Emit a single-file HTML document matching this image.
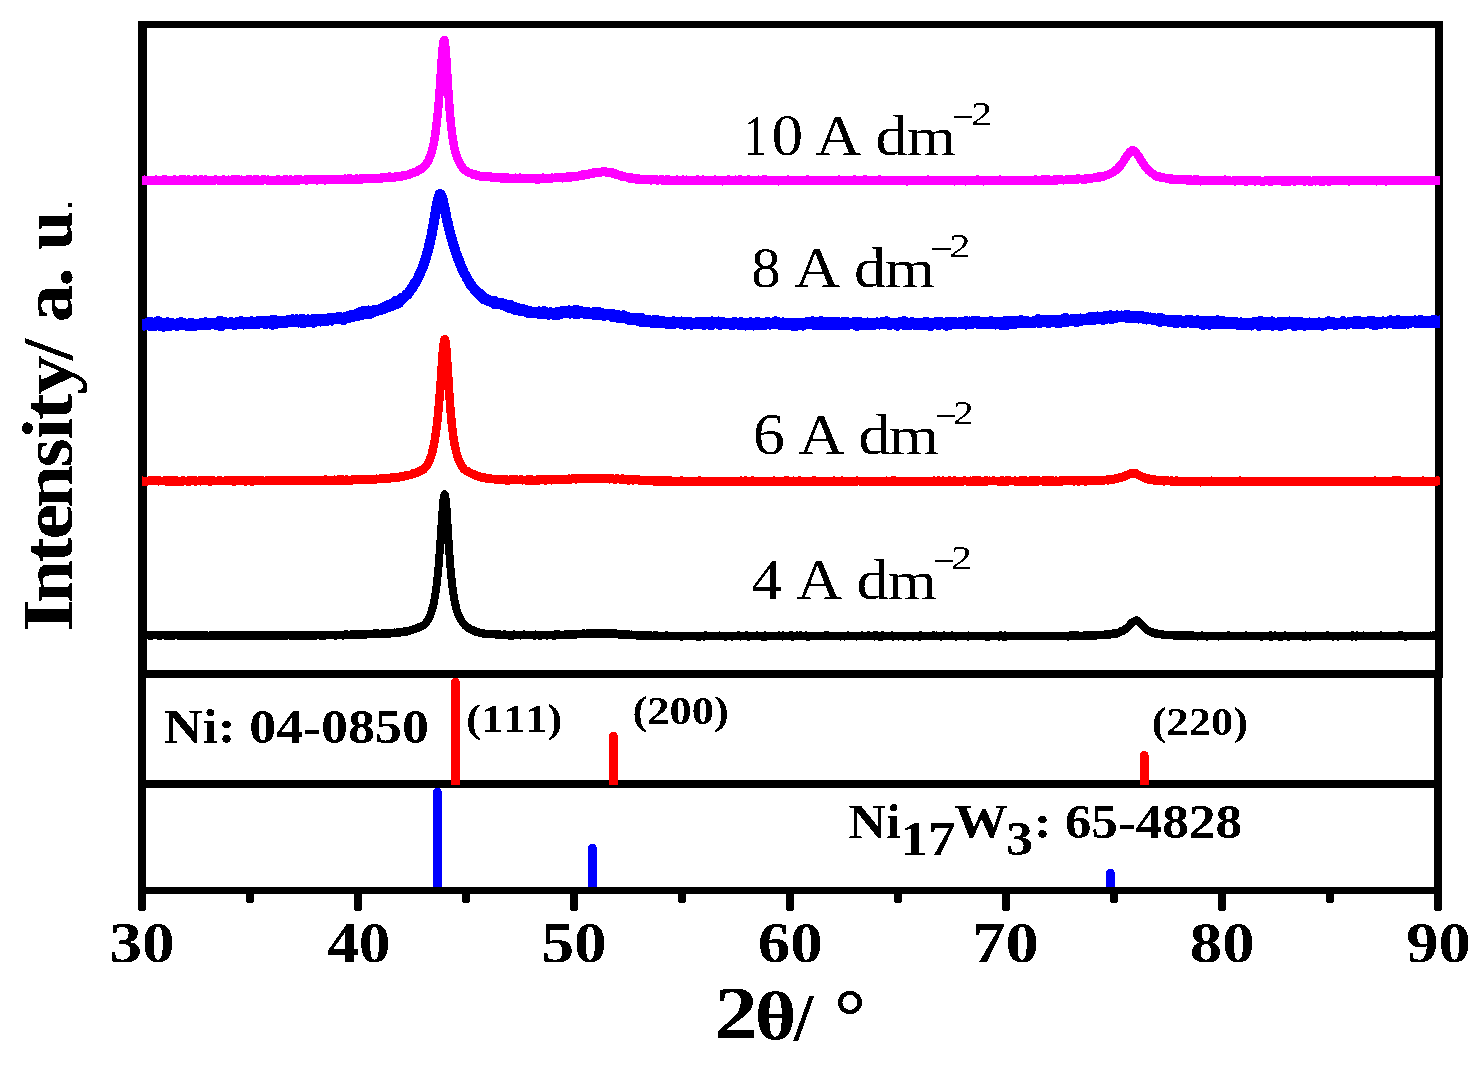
<!DOCTYPE html>
<html><head><meta charset="utf-8"><style>
html,body{margin:0;padding:0;background:#fff;}
svg{display:block;}
text{font-family:"Liberation Serif",serif;font-kerning:none;font-feature-settings:"kern" 0,"liga" 0;}
</style></head><body>
<svg width="1484" height="1069" viewBox="0 0 1484 1069">
<defs><filter id="bin" x="0" y="0" width="100%" height="100%" color-interpolation-filters="sRGB">
<feComponentTransfer><feFuncR type="discrete" tableValues="0 1"/><feFuncG type="discrete" tableValues="0 1"/><feFuncB type="discrete" tableValues="0 1"/></feComponentTransfer>
</filter></defs>
<g filter="url(#bin)">
<rect width="1484" height="1069" fill="#fff"/>
<rect x="138.5" y="21" width="1304.5" height="7" fill="#000"/>
<rect x="138" y="23" width="9" height="655" fill="#000"/>
<rect x="1435" y="21" width="8" height="657" fill="#000"/>
<rect x="138" y="670" width="1305" height="7.5" fill="#000"/>
<rect x="138" y="670" width="8.3" height="224" fill="#000"/>
<rect x="1434" y="670" width="8" height="224" fill="#000"/>
<rect x="138" y="780" width="1304" height="7.8" fill="#000"/>
<rect x="138" y="887.2" width="1304" height="6.8" fill="#000"/>
<rect x="138" y="887.5" width="8.2" height="24.10" rx="3.6" fill="#000"/>
<rect x="246.00" y="887.5" width="8.2" height="15.60" rx="3.6" fill="#000"/>
<rect x="354.00" y="887.5" width="8.2" height="24.10" rx="3.6" fill="#000"/>
<rect x="462.00" y="887.5" width="8.2" height="15.60" rx="3.6" fill="#000"/>
<rect x="570.00" y="887.5" width="8.2" height="24.10" rx="3.6" fill="#000"/>
<rect x="678.00" y="887.5" width="8.2" height="15.60" rx="3.6" fill="#000"/>
<rect x="786.00" y="887.5" width="8.2" height="24.10" rx="3.6" fill="#000"/>
<rect x="894.00" y="887.5" width="8.2" height="15.60" rx="3.6" fill="#000"/>
<rect x="1002.00" y="887.5" width="8.2" height="24.10" rx="3.6" fill="#000"/>
<rect x="1110.00" y="887.5" width="8.2" height="15.60" rx="3.6" fill="#000"/>
<rect x="1218.00" y="887.5" width="8.2" height="24.10" rx="3.6" fill="#000"/>
<rect x="1326.00" y="887.5" width="8.2" height="15.60" rx="3.6" fill="#000"/>
<rect x="1434" y="887.5" width="8.2" height="24.10" rx="3.6" fill="#000"/>
<defs><clipPath id="cc"><rect x="142" y="0" width="1298" height="700"/></clipPath></defs>
<g clip-path="url(#cc)">
<path d="M142.0,180.7 142.5,180.7 143.0,180.2 143.5,179.9 144.0,179.8 144.5,180.2 145.0,179.8 145.5,179.7 146.0,180.3 146.5,180.2 147.0,180.4 147.5,179.9 148.0,180.2 148.5,180.2 149.0,179.7 149.5,180.4 150.0,180.3 150.5,181.0 151.0,180.3 151.5,180.1 152.0,180.6 152.5,180.3 153.0,180.5 153.5,180.1 154.0,180.3 154.5,180.5 155.0,180.4 155.5,180.2 156.0,179.8 156.5,180.3 157.0,180.2 157.5,180.4 158.0,180.3 158.5,180.6 159.0,180.2 159.5,180.2 160.0,180.4 160.5,179.8 161.0,180.0 161.5,180.0 162.0,180.9 162.5,180.1 163.0,180.4 163.5,180.4 164.0,180.1 164.5,179.6 165.0,180.5 165.5,180.0 166.0,180.4 166.5,179.7 167.0,180.0 167.5,180.6 168.0,180.7 168.5,179.7 169.0,179.7 169.5,180.1 170.0,180.4 170.5,180.2 171.0,180.3 171.5,179.8 172.0,180.4 172.5,180.5 173.0,180.0 173.5,179.7 174.0,179.9 174.5,180.4 175.0,179.5 175.5,180.1 176.0,179.8 176.5,180.1 177.0,180.1 177.5,180.2 178.0,180.7 178.5,180.3 179.0,180.6 179.5,180.1 180.0,180.0 180.5,180.3 181.0,179.2 181.5,180.1 182.0,180.2 182.5,179.7 183.0,180.3 183.5,179.9 184.0,179.3 184.5,180.1 185.0,179.8 185.5,180.0 186.0,180.1 186.5,180.6 187.0,180.2 187.5,180.1 188.0,180.3 188.5,179.5 189.0,180.6 189.5,179.8 190.0,180.3 190.5,179.7 191.0,179.8 191.5,180.0 192.0,180.8 192.5,180.4 193.0,179.9 193.5,180.0 194.0,179.7 194.5,180.1 195.0,179.9 195.5,180.4 196.0,179.6 196.5,180.0 197.0,179.8 197.5,179.9 198.0,180.4 198.5,180.2 199.0,180.3 199.5,180.5 200.0,180.5 200.5,179.6 201.0,180.3 201.5,179.5 202.0,180.1 202.5,180.8 203.0,180.0 203.5,180.0 204.0,180.2 204.5,180.1 205.0,180.1 205.5,179.8 206.0,180.5 206.5,180.4 207.0,180.0 207.5,180.2 208.0,180.3 208.5,180.5 209.0,180.2 209.5,180.3 210.0,180.0 210.5,179.7 211.0,179.9 211.5,180.4 212.0,180.4 212.5,180.1 213.0,179.9 213.5,180.2 214.0,180.7 214.5,180.6 215.0,179.8 215.5,180.1 216.0,179.6 216.5,179.7 217.0,180.1 217.5,180.1 218.0,180.4 218.5,180.5 219.0,180.4 219.5,180.5 220.0,179.9 220.5,179.7 221.0,180.2 221.5,181.0 222.0,180.2 222.5,179.7 223.0,180.2 223.5,180.6 224.0,179.7 224.5,180.3 225.0,179.8 225.5,180.5 226.0,180.3 226.5,180.2 227.0,180.8 227.5,179.9 228.0,179.8 228.5,180.7 229.0,179.7 229.5,180.8 230.0,180.0 230.5,179.7 231.0,180.0 231.5,180.1 232.0,180.1 232.5,180.0 233.0,180.4 233.5,179.2 234.0,179.8 234.5,179.9 235.0,180.7 235.5,179.3 236.0,179.9 236.5,179.6 237.0,179.8 237.5,180.3 238.0,180.2 238.5,180.5 239.0,179.8 239.5,180.1 240.0,180.4 240.5,180.3 241.0,179.9 241.5,180.4 242.0,179.7 242.5,180.7 243.0,180.1 243.5,180.0 244.0,180.1 244.5,180.3 245.0,180.6 245.5,180.0 246.0,179.9 246.5,180.2 247.0,179.7 247.5,179.4 248.0,180.3 248.5,179.9 249.0,180.4 249.5,179.6 250.0,179.0 250.5,180.1 251.0,180.1 251.5,180.6 252.0,180.2 252.5,180.1 253.0,180.2 253.5,179.9 254.0,180.0 254.5,179.5 255.0,180.2 255.5,179.7 256.0,179.8 256.5,180.2 257.0,180.3 257.5,179.6 258.0,180.7 258.5,179.8 259.0,180.3 259.5,180.3 260.0,180.1 260.5,180.0 261.0,180.6 261.5,180.3 262.0,180.1 262.5,179.3 263.0,179.7 263.5,180.4 264.0,180.0 264.5,179.6 265.0,179.7 265.5,179.9 266.0,180.2 266.5,180.1 267.0,180.3 267.5,179.7 268.0,180.3 268.5,179.8 269.0,179.9 269.5,180.6 270.0,180.0 270.5,179.9 271.0,179.9 271.5,179.8 272.0,180.5 272.5,180.4 273.0,180.2 273.5,180.0 274.0,180.3 274.5,179.9 275.0,180.1 275.5,180.1 276.0,180.0 276.5,180.5 277.0,180.6 277.5,180.4 278.0,179.3 278.5,180.6 279.0,180.2 279.5,179.8 280.0,179.9 280.5,180.3 281.0,180.3 281.5,180.2 282.0,180.0 282.5,179.9 283.0,180.2 283.5,179.9 284.0,179.6 284.5,179.7 285.0,179.9 285.5,180.0 286.0,180.7 286.5,179.4 287.0,180.1 287.5,179.9 288.0,180.0 288.5,180.4 289.0,180.3 289.5,179.9 290.0,179.7 290.5,179.4 291.0,179.9 291.5,180.3 292.0,179.8 292.5,180.1 293.0,180.1 293.5,180.0 294.0,180.3 294.5,179.9 295.0,179.6 295.5,179.5 296.0,180.2 296.5,179.8 297.0,179.8 297.5,180.2 298.0,179.6 298.5,180.5 299.0,180.1 299.5,179.7 300.0,179.6 300.5,180.2 301.0,179.5 301.5,179.6 302.0,179.9 302.5,179.9 303.0,179.9 303.5,180.0 304.0,179.7 304.5,179.8 305.0,180.3 305.5,180.1 306.0,179.7 306.5,180.4 307.0,179.1 307.5,179.9 308.0,180.1 308.5,180.2 309.0,179.9 309.5,179.7 310.0,180.0 310.5,179.7 311.0,180.0 311.5,178.8 312.0,179.9 312.5,179.5 313.0,180.1 313.5,180.0 314.0,180.0 314.5,179.6 315.0,179.9 315.5,179.6 316.0,179.8 316.5,179.7 317.0,179.4 317.5,180.4 318.0,180.0 318.5,179.0 319.0,180.0 319.5,179.2 320.0,179.6 320.5,179.5 321.0,179.5 321.5,179.8 322.0,179.6 322.5,179.2 323.0,179.7 323.5,179.8 324.0,180.3 324.5,179.5 325.0,179.3 325.5,179.5 326.0,179.9 326.5,179.3 327.0,179.4 327.5,179.8 328.0,179.6 328.5,179.7 329.0,179.4 329.5,179.3 330.0,179.5 330.5,179.5 331.0,179.5 331.5,179.7 332.0,179.8 332.5,179.8 333.0,179.7 333.5,179.2 334.0,179.1 334.5,179.8 335.0,179.5 335.5,179.6 336.0,179.1 336.5,179.4 337.0,179.3 337.5,179.2 338.0,179.2 338.5,178.9 339.0,179.5 339.5,179.8 340.0,179.2 340.5,179.5 341.0,179.0 341.5,179.6 342.0,180.0 342.5,179.0 343.0,179.3 343.5,179.8 344.0,179.5 344.5,179.4 345.0,178.6 345.5,179.3 346.0,179.6 346.5,179.8 347.0,179.5 347.5,179.1 348.0,179.0 348.5,178.6 349.0,178.9 349.5,179.6 350.0,179.2 350.5,178.7 351.0,179.6 351.5,178.6 352.0,179.6 352.5,179.0 353.0,179.2 353.5,179.3 354.0,179.2 354.5,179.5 355.0,179.1 355.5,178.9 356.0,178.8 356.5,178.5 357.0,178.8 357.5,179.3 358.0,179.3 358.5,179.4 359.0,179.9 359.5,179.2 360.0,179.1 360.5,178.4 361.0,178.8 361.5,179.6 362.0,179.0 362.5,178.8 363.0,178.9 363.5,178.2 364.0,178.5 364.5,178.3 365.0,178.0 365.5,179.0 366.0,179.0 366.5,178.6 367.0,178.8 367.5,178.3 368.0,178.8 368.5,178.9 369.0,179.1 369.5,179.1 370.0,178.7 370.5,178.5 371.0,178.2 371.5,178.3 372.0,178.7 372.5,178.6 373.0,178.4 373.5,179.0 374.0,178.6 374.5,178.4 375.0,178.3 375.5,178.3 376.0,178.0 376.5,177.9 377.0,178.4 377.5,178.0 378.0,178.1 378.5,178.6 379.0,178.1 379.5,178.6 380.0,178.1 380.5,178.6 381.0,178.2 381.5,177.4 382.0,178.4 382.5,177.9 383.0,177.3 383.5,177.9 384.0,177.9 384.5,177.4 385.0,177.6 385.5,177.9 386.0,178.2 386.5,178.1 387.0,178.1 387.5,178.0 388.0,176.8 388.5,177.3 389.0,177.6 389.5,176.6 390.0,177.7 390.5,177.7 391.0,177.1 391.5,177.2 392.0,177.0 392.5,177.2 393.0,177.2 393.5,177.1 394.0,176.8 394.5,177.2 395.0,176.9 395.5,177.3 396.0,177.0 396.5,176.4 397.0,176.3 397.5,176.8 398.0,176.5 398.5,176.8 399.0,176.8 399.5,176.5 400.0,175.9 400.5,175.9 401.0,176.4 401.5,175.8 402.0,176.4 402.5,176.0 403.0,176.1 403.5,175.5 404.0,175.7 404.5,174.7 405.0,175.4 405.5,175.6 406.0,175.0 406.5,174.9 407.0,175.0 407.5,174.9 408.0,174.5 408.5,174.7 409.0,173.9 409.5,174.5 410.0,173.6 410.5,173.6 411.0,174.1 411.5,173.2 412.0,172.8 412.5,173.1 413.0,172.6 413.5,172.4 414.0,172.3 414.5,172.1 415.0,171.8 415.5,171.6 416.0,172.2 416.5,171.3 417.0,171.6 417.5,170.7 418.0,171.1 418.5,170.3 419.0,170.3 419.5,170.3 420.0,169.8 420.5,169.1 421.0,169.1 421.5,168.9 422.0,168.7 422.5,167.9 423.0,167.6 423.5,167.3 424.0,166.4 424.5,166.2 425.0,165.5 425.5,165.1 426.0,164.4 426.5,163.7 427.0,162.5 427.5,162.1 428.0,161.1 428.5,160.1 429.0,159.1 429.5,157.9 430.0,156.8 430.5,155.5 431.0,154.0 431.5,152.3 432.0,150.7 432.5,148.7 433.0,146.5 433.5,144.3 434.0,141.7 434.5,139.0 435.0,136.0 435.5,132.6 436.0,128.9 436.5,124.9 437.0,120.6 437.5,115.8 438.0,110.6 438.5,104.9 439.0,98.8 439.5,92.2 440.0,85.2 440.5,77.8 441.0,70.3 441.5,62.9 442.0,55.8 442.5,49.6 443.0,44.6 443.5,41.2 444.0,39.8 444.5,40.5 445.0,43.5 445.5,48.3 446.0,54.6 446.5,61.9 447.0,69.9 447.5,78.0 448.0,86.1 448.5,93.8 449.0,101.0 449.5,107.7 450.0,113.8 450.5,119.4 451.0,124.4 451.5,129.0 452.0,133.1 452.5,136.8 453.0,140.0 453.5,143.1 454.0,145.7 454.5,148.2 455.0,150.3 455.5,152.2 456.0,154.2 456.5,155.8 457.0,157.2 457.5,158.6 458.0,159.9 458.5,161.0 459.0,161.8 459.5,162.9 460.0,163.9 460.5,164.8 461.0,165.4 461.5,165.9 462.0,167.1 462.5,167.4 463.0,167.9 463.5,168.9 464.0,169.3 464.5,169.8 465.0,170.2 465.5,170.6 466.0,170.6 466.5,171.2 467.0,171.6 467.5,172.0 468.0,172.3 468.5,172.2 469.0,172.5 469.5,172.9 470.0,173.1 470.5,173.2 471.0,173.1 471.5,173.5 472.0,174.1 472.5,174.2 473.0,174.5 473.5,174.0 474.0,174.5 474.5,175.1 475.0,174.3 475.5,174.7 476.0,174.6 476.5,175.6 477.0,175.4 477.5,175.3 478.0,175.6 478.5,175.6 479.0,176.0 479.5,176.2 480.0,176.2 480.5,176.1 481.0,176.3 481.5,176.4 482.0,176.6 482.5,175.7 483.0,176.5 483.5,176.4 484.0,176.5 484.5,176.4 485.0,176.6 485.5,176.8 486.0,176.7 486.5,176.8 487.0,176.4 487.5,176.4 488.0,176.6 488.5,176.3 489.0,176.8 489.5,176.7 490.0,176.4 490.5,176.4 491.0,177.0 491.5,177.0 492.0,177.9 492.5,177.5 493.0,177.0 493.5,177.1 494.0,177.0 494.5,177.1 495.0,177.3 495.5,177.4 496.0,177.3 496.5,177.8 497.0,177.7 497.5,178.2 498.0,177.1 498.5,177.8 499.0,177.5 499.5,177.1 500.0,177.6 500.5,177.2 501.0,177.7 501.5,178.7 502.0,178.3 502.5,178.5 503.0,178.3 503.5,177.4 504.0,178.0 504.5,178.0 505.0,178.1 505.5,177.6 506.0,177.3 506.5,178.7 507.0,178.4 507.5,178.2 508.0,177.9 508.5,178.2 509.0,177.7 509.5,178.5 510.0,178.2 510.5,178.1 511.0,178.0 511.5,178.2 512.0,178.3 512.5,178.1 513.0,178.6 513.5,178.4 514.0,178.3 514.5,178.0 515.0,178.7 515.5,178.8 516.0,178.6 516.5,177.7 517.0,178.3 517.5,178.7 518.0,178.4 518.5,178.9 519.0,178.3 519.5,178.7 520.0,178.6 520.5,177.6 521.0,178.3 521.5,178.4 522.0,178.3 522.5,178.2 523.0,179.1 523.5,178.5 524.0,178.8 524.5,178.1 525.0,177.8 525.5,178.4 526.0,178.7 526.5,178.3 527.0,178.8 527.5,178.9 528.0,178.4 528.5,178.6 529.0,178.4 529.5,179.0 530.0,179.2 530.5,178.8 531.0,178.4 531.5,178.4 532.0,178.5 532.5,178.9 533.0,178.4 533.5,179.1 534.0,178.2 534.5,178.6 535.0,179.1 535.5,179.3 536.0,178.5 536.5,178.9 537.0,179.5 537.5,179.0 538.0,177.9 538.5,178.7 539.0,179.4 539.5,178.2 540.0,178.9 540.5,177.9 541.0,179.1 541.5,178.3 542.0,178.8 542.5,178.9 543.0,177.6 543.5,178.0 544.0,178.6 544.5,178.0 545.0,178.5 545.5,178.1 546.0,178.9 546.5,178.2 547.0,178.1 547.5,178.6 548.0,178.7 548.5,178.2 549.0,178.4 549.5,178.4 550.0,178.0 550.5,177.8 551.0,178.3 551.5,178.0 552.0,177.6 552.5,178.3 553.0,178.2 553.5,178.0 554.0,177.7 554.5,177.8 555.0,178.1 555.5,178.0 556.0,177.6 556.5,177.5 557.0,177.9 557.5,177.8 558.0,178.0 558.5,177.3 559.0,178.0 559.5,178.2 560.0,177.9 560.5,177.6 561.0,177.9 561.5,177.1 562.0,177.3 562.5,178.2 563.0,176.9 563.5,177.0 564.0,177.6 564.5,177.1 565.0,177.1 565.5,176.9 566.0,177.8 566.5,177.0 567.0,177.1 567.5,176.5 568.0,177.3 568.5,177.0 569.0,177.2 569.5,177.5 570.0,176.9 570.5,176.5 571.0,176.5 571.5,176.8 572.0,177.1 572.5,176.3 573.0,176.5 573.5,176.5 574.0,176.7 574.5,176.1 575.0,176.5 575.5,176.6 576.0,176.2 576.5,176.2 577.0,176.3 577.5,176.3 578.0,176.4 578.5,175.6 579.0,176.3 579.5,175.7 580.0,175.3 580.5,175.5 581.0,175.2 581.5,175.4 582.0,175.7 582.5,174.6 583.0,174.8 583.5,175.4 584.0,175.0 584.5,175.2 585.0,174.4 585.5,174.8 586.0,173.9 586.5,174.3 587.0,174.7 587.5,174.8 588.0,174.8 588.5,174.2 589.0,173.8 589.5,173.9 590.0,173.3 590.5,174.2 591.0,174.1 591.5,173.3 592.0,174.1 592.5,173.0 593.0,173.5 593.5,172.9 594.0,172.5 594.5,173.1 595.0,172.5 595.5,173.2 596.0,172.4 596.5,172.7 597.0,172.4 597.5,172.5 598.0,172.2 598.5,172.6 599.0,172.4 599.5,172.2 600.0,172.1 600.5,172.7 601.0,171.8 601.5,171.8 602.0,172.2 602.5,171.9 603.0,171.4 603.5,171.8 604.0,171.8 604.5,171.6 605.0,172.0 605.5,171.5 606.0,171.9 606.5,171.6 607.0,172.5 607.5,172.0 608.0,172.3 608.5,172.3 609.0,172.6 609.5,172.4 610.0,172.8 610.5,172.7 611.0,172.0 611.5,173.0 612.0,172.7 612.5,173.5 613.0,173.4 613.5,173.4 614.0,172.9 614.5,173.1 615.0,173.6 615.5,174.0 616.0,173.8 616.5,175.0 617.0,174.7 617.5,174.7 618.0,174.6 618.5,174.9 619.0,175.1 619.5,175.2 620.0,175.4 620.5,175.9 621.0,175.2 621.5,176.0 622.0,176.4 622.5,175.8 623.0,176.3 623.5,176.3 624.0,176.2 624.5,177.0 625.0,176.8 625.5,177.3 626.0,177.2 626.5,177.1 627.0,177.4 627.5,177.3 628.0,177.0 628.5,178.1 629.0,177.9 629.5,178.2 630.0,177.4 630.5,178.4 631.0,178.4 631.5,178.2 632.0,177.6 632.5,178.4 633.0,178.2 633.5,178.4 634.0,178.6 634.5,178.3 635.0,178.7 635.5,178.8 636.0,179.3 636.5,178.8 637.0,179.7 637.5,178.6 638.0,179.0 638.5,179.5 639.0,178.6 639.5,179.4 640.0,179.3 640.5,179.0 641.0,179.2 641.5,179.8 642.0,179.2 642.5,179.5 643.0,179.6 643.5,179.8 644.0,178.8 644.5,179.0 645.0,179.1 645.5,179.4 646.0,179.8 646.5,179.9 647.0,179.5 647.5,180.1 648.0,179.6 648.5,179.9 649.0,179.4 649.5,180.0 650.0,179.5 650.5,180.1 651.0,180.0 651.5,180.4 652.0,179.6 652.5,179.4 653.0,180.1 653.5,179.9 654.0,179.6 654.5,179.3 655.0,180.1 655.5,179.1 656.0,179.7 656.5,180.2 657.0,179.8 657.5,180.0 658.0,180.0 658.5,180.1 659.0,180.3 659.5,180.1 660.0,179.8 660.5,179.5 661.0,179.8 661.5,179.7 662.0,180.1 662.5,180.4 663.0,180.2 663.5,179.7 664.0,180.0 664.5,180.0 665.0,179.8 665.5,180.4 666.0,180.2 666.5,180.1 667.0,179.6 667.5,179.1 668.0,179.7 668.5,180.4 669.0,179.9 669.5,180.0 670.0,179.9 670.5,180.2 671.0,180.0 671.5,180.6 672.0,180.0 672.5,180.0 673.0,180.5 673.5,180.3 674.0,180.3 674.5,180.2 675.0,180.1 675.5,180.2 676.0,180.3 676.5,180.1 677.0,179.4 677.5,180.6 678.0,179.9 678.5,179.9 679.0,180.0 679.5,179.9 680.0,179.8 680.5,180.1 681.0,180.4 681.5,180.0 682.0,180.3 682.5,179.7 683.0,180.4 683.5,179.7 684.0,180.4 684.5,179.9 685.0,179.9 685.5,179.7 686.0,179.7 686.5,180.1 687.0,179.8 687.5,180.1 688.0,180.6 688.5,179.9 689.0,180.1 689.5,180.1 690.0,180.0 690.5,180.2 691.0,180.3 691.5,180.6 692.0,179.9 692.5,180.1 693.0,180.1 693.5,180.6 694.0,179.9 694.5,180.3 695.0,180.5 695.5,180.4 696.0,180.0 696.5,179.9 697.0,179.6 697.5,180.0 698.0,180.1 698.5,179.7 699.0,180.5 699.5,180.3 700.0,180.1 700.5,180.0 701.0,180.4 701.5,180.1 702.0,180.4 702.5,180.1 703.0,180.6 703.5,179.7 704.0,179.9 704.5,180.9 705.0,180.6 705.5,180.8 706.0,180.0 706.5,180.5 707.0,180.6 707.5,180.6 708.0,180.2 708.5,180.8 709.0,180.4 709.5,179.8 710.0,181.1 710.5,180.3 711.0,180.7 711.5,180.0 712.0,180.0 712.5,180.6 713.0,180.6 713.5,180.0 714.0,180.4 714.5,179.8 715.0,179.6 715.5,180.7 716.0,179.9 716.5,180.6 717.0,180.7 717.5,180.4 718.0,180.8 718.5,180.4 719.0,180.4 719.5,180.3 720.0,180.4 720.5,180.4 721.0,180.0 721.5,180.3 722.0,180.2 722.5,181.3 723.0,180.7 723.5,180.0 724.0,180.5 724.5,179.7 725.0,180.3 725.5,180.9 726.0,180.3 726.5,180.8 727.0,180.2 727.5,180.5 728.0,180.4 728.5,179.6 729.0,180.0 729.5,181.0 730.0,180.0 730.5,180.7 731.0,180.9 731.5,180.3 732.0,180.7 732.5,180.5 733.0,180.1 733.5,180.5 734.0,180.5 734.5,180.0 735.0,180.2 735.5,179.9 736.0,180.2 736.5,180.3 737.0,180.0 737.5,179.7 738.0,180.6 738.5,180.8 739.0,180.0 739.5,180.4 740.0,180.1 740.5,179.4 741.0,181.1 741.5,180.4 742.0,179.8 742.5,180.8 743.0,180.6 743.5,180.8 744.0,180.6 744.5,180.5 745.0,180.8 745.5,180.3 746.0,180.4 746.5,180.0 747.0,179.9 747.5,180.4 748.0,180.4 748.5,179.8 749.0,180.5 749.5,180.7 750.0,179.9 750.5,180.2 751.0,181.0 751.5,180.1 752.0,180.6 752.5,180.6 753.0,180.4 753.5,180.4 754.0,180.6 754.5,180.5 755.0,180.4 755.5,179.8 756.0,180.4 756.5,180.1 757.0,180.9 757.5,181.1 758.0,180.8 758.5,179.6 759.0,180.7 759.5,180.4 760.0,180.0 760.5,179.9 761.0,180.7 761.5,180.1 762.0,180.3 762.5,180.4 763.0,180.7 763.5,179.4 764.0,180.8 764.5,180.1 765.0,180.2 765.5,180.6 766.0,180.5 766.5,179.6 767.0,180.6 767.5,180.3 768.0,180.0 768.5,180.2 769.0,179.8 769.5,180.6 770.0,180.9 770.5,180.2 771.0,180.2 771.5,179.9 772.0,180.1 772.5,180.0 773.0,180.4 773.5,181.0 774.0,180.7 774.5,180.7 775.0,180.0 775.5,180.7 776.0,180.1 776.5,180.1 777.0,180.6 777.5,180.3 778.0,181.2 778.5,180.4 779.0,180.3 779.5,180.6 780.0,180.0 780.5,180.6 781.0,180.9 781.5,180.3 782.0,180.2 782.5,180.8 783.0,180.0 783.5,180.5 784.0,180.2 784.5,180.5 785.0,180.1 785.5,180.6 786.0,180.6 786.5,181.0 787.0,180.3 787.5,180.5 788.0,179.8 788.5,180.1 789.0,180.5 789.5,179.9 790.0,180.3 790.5,180.1 791.0,180.6 791.5,180.6 792.0,180.2 792.5,180.6 793.0,180.2 793.5,180.4 794.0,180.6 794.5,180.6 795.0,180.6 795.5,181.0 796.0,180.2 796.5,180.3 797.0,179.7 797.5,180.7 798.0,180.0 798.5,180.2 799.0,180.2 799.5,180.5 800.0,180.3 800.5,180.3 801.0,180.4 801.5,180.3 802.0,180.4 802.5,180.0 803.0,180.2 803.5,180.0 804.0,180.7 804.5,180.7 805.0,180.6 805.5,180.5 806.0,180.2 806.5,180.6 807.0,179.8 807.5,179.5 808.0,180.0 808.5,180.9 809.0,180.5 809.5,180.9 810.0,180.1 810.5,180.7 811.0,180.9 811.5,180.7 812.0,180.5 812.5,180.8 813.0,180.2 813.5,181.0 814.0,180.0 814.5,180.1 815.0,180.4 815.5,180.1 816.0,181.0 816.5,180.6 817.0,180.1 817.5,181.0 818.0,180.9 818.5,180.3 819.0,180.9 819.5,180.8 820.0,180.2 820.5,180.2 821.0,180.5 821.5,180.8 822.0,180.9 822.5,180.9 823.0,180.2 823.5,179.8 824.0,179.8 824.5,180.9 825.0,180.8 825.5,180.8 826.0,180.4 826.5,180.4 827.0,180.6 827.5,180.6 828.0,180.4 828.5,180.1 829.0,179.9 829.5,180.5 830.0,180.3 830.5,180.9 831.0,180.0 831.5,179.7 832.0,179.7 832.5,180.4 833.0,181.0 833.5,180.3 834.0,180.2 834.5,180.5 835.0,180.9 835.5,180.8 836.0,180.7 836.5,180.7 837.0,180.3 837.5,180.4 838.0,180.5 838.5,181.0 839.0,179.6 839.5,180.2 840.0,180.5 840.5,180.3 841.0,180.4 841.5,180.3 842.0,180.1 842.5,180.6 843.0,180.9 843.5,180.3 844.0,180.6 844.5,180.8 845.0,180.2 845.5,180.4 846.0,179.9 846.5,181.0 847.0,181.0 847.5,180.3 848.0,181.1 848.5,180.7 849.0,179.8 849.5,180.6 850.0,180.5 850.5,180.6 851.0,180.6 851.5,180.2 852.0,180.8 852.5,180.5 853.0,181.1 853.5,180.4 854.0,179.5 854.5,181.1 855.0,180.6 855.5,179.8 856.0,180.2 856.5,180.1 857.0,180.7 857.5,180.2 858.0,180.8 858.5,180.2 859.0,180.7 859.5,180.2 860.0,180.0 860.5,180.6 861.0,180.3 861.5,180.6 862.0,179.8 862.5,180.0 863.0,180.3 863.5,181.1 864.0,180.5 864.5,179.8 865.0,179.3 865.5,181.0 866.0,180.5 866.5,180.0 867.0,180.7 867.5,180.7 868.0,181.2 868.5,180.5 869.0,180.2 869.5,180.7 870.0,179.9 870.5,180.2 871.0,180.0 871.5,180.2 872.0,179.9 872.5,179.9 873.0,180.0 873.5,180.5 874.0,180.4 874.5,180.4 875.0,180.6 875.5,180.7 876.0,180.6 876.5,181.1 877.0,180.5 877.5,180.5 878.0,180.2 878.5,180.8 879.0,180.9 879.5,179.4 880.0,180.7 880.5,180.0 881.0,180.5 881.5,180.4 882.0,180.0 882.5,179.9 883.0,180.3 883.5,181.3 884.0,180.0 884.5,180.3 885.0,180.3 885.5,180.3 886.0,180.8 886.5,181.1 887.0,180.4 887.5,180.5 888.0,180.3 888.5,181.0 889.0,180.4 889.5,180.6 890.0,180.3 890.5,180.8 891.0,180.4 891.5,180.1 892.0,181.1 892.5,179.7 893.0,180.5 893.5,180.3 894.0,180.1 894.5,181.1 895.0,180.5 895.5,180.3 896.0,180.1 896.5,180.5 897.0,180.4 897.5,180.3 898.0,180.2 898.5,180.9 899.0,180.5 899.5,180.3 900.0,180.0 900.5,180.1 901.0,180.7 901.5,180.1 902.0,180.6 902.5,180.4 903.0,180.5 903.5,180.5 904.0,180.2 904.5,180.3 905.0,180.4 905.5,180.6 906.0,181.2 906.5,180.7 907.0,179.9 907.5,181.2 908.0,180.4 908.5,180.2 909.0,180.4 909.5,180.4 910.0,180.5 910.5,180.4 911.0,180.4 911.5,180.8 912.0,181.0 912.5,180.4 913.0,181.0 913.5,180.7 914.0,180.8 914.5,180.5 915.0,180.5 915.5,180.7 916.0,180.1 916.5,180.4 917.0,180.0 917.5,180.7 918.0,180.5 918.5,180.6 919.0,180.3 919.5,180.1 920.0,180.7 920.5,180.2 921.0,180.3 921.5,180.4 922.0,180.6 922.5,180.4 923.0,180.0 923.5,180.0 924.0,180.8 924.5,180.3 925.0,180.3 925.5,180.1 926.0,180.7 926.5,180.6 927.0,180.2 927.5,179.8 928.0,181.0 928.5,180.2 929.0,180.0 929.5,180.2 930.0,180.0 930.5,180.4 931.0,180.2 931.5,180.0 932.0,180.6 932.5,180.1 933.0,179.7 933.5,180.5 934.0,180.2 934.5,180.0 935.0,179.8 935.5,180.1 936.0,180.2 936.5,180.2 937.0,180.2 937.5,180.8 938.0,180.8 938.5,180.5 939.0,180.6 939.5,180.2 940.0,179.9 940.5,180.6 941.0,180.9 941.5,180.1 942.0,180.1 942.5,180.1 943.0,179.9 943.5,180.6 944.0,180.0 944.5,180.9 945.0,181.0 945.5,180.4 946.0,180.4 946.5,180.1 947.0,180.7 947.5,180.4 948.0,179.9 948.5,180.1 949.0,180.5 949.5,180.2 950.0,180.5 950.5,180.5 951.0,180.9 951.5,180.3 952.0,180.8 952.5,180.8 953.0,180.8 953.5,180.3 954.0,180.5 954.5,181.3 955.0,180.3 955.5,180.2 956.0,180.4 956.5,180.0 957.0,180.1 957.5,180.2 958.0,180.3 958.5,180.7 959.0,180.0 959.5,180.3 960.0,180.5 960.5,180.3 961.0,180.6 961.5,181.2 962.0,180.0 962.5,180.1 963.0,180.2 963.5,180.2 964.0,180.2 964.5,180.5 965.0,181.0 965.5,181.2 966.0,180.3 966.5,179.7 967.0,180.9 967.5,180.4 968.0,180.2 968.5,180.8 969.0,180.3 969.5,180.3 970.0,180.1 970.5,180.7 971.0,180.7 971.5,180.1 972.0,180.2 972.5,180.8 973.0,180.1 973.5,180.2 974.0,180.1 974.5,180.3 975.0,180.7 975.5,180.4 976.0,180.7 976.5,180.6 977.0,179.6 977.5,180.4 978.0,180.3 978.5,179.8 979.0,180.6 979.5,180.3 980.0,180.2 980.5,180.5 981.0,180.7 981.5,180.6 982.0,180.2 982.5,180.3 983.0,181.2 983.5,179.9 984.0,180.4 984.5,180.4 985.0,180.9 985.5,180.6 986.0,180.4 986.5,180.2 987.0,180.8 987.5,180.4 988.0,180.3 988.5,180.4 989.0,180.6 989.5,180.3 990.0,180.4 990.5,180.6 991.0,180.1 991.5,180.2 992.0,180.4 992.5,180.6 993.0,180.5 993.5,180.2 994.0,180.0 994.5,180.2 995.0,180.1 995.5,180.6 996.0,180.5 996.5,180.3 997.0,179.9 997.5,179.9 998.0,180.4 998.5,180.5 999.0,180.4 999.5,180.2 1000.0,180.5 1000.5,179.6 1001.0,180.7 1001.5,180.8 1002.0,180.4 1002.5,180.4 1003.0,180.2 1003.5,180.6 1004.0,180.0 1004.5,180.1 1005.0,180.4 1005.5,179.8 1006.0,180.5 1006.5,180.5 1007.0,180.3 1007.5,180.1 1008.0,180.9 1008.5,180.1 1009.0,180.3 1009.5,180.6 1010.0,180.3 1010.5,180.6 1011.0,180.3 1011.5,180.4 1012.0,180.3 1012.5,180.5 1013.0,180.0 1013.5,180.6 1014.0,180.6 1014.5,179.9 1015.0,179.7 1015.5,179.8 1016.0,180.0 1016.5,180.5 1017.0,180.3 1017.5,180.9 1018.0,180.8 1018.5,179.7 1019.0,180.1 1019.5,180.1 1020.0,180.8 1020.5,180.5 1021.0,180.6 1021.5,179.9 1022.0,180.9 1022.5,179.8 1023.0,180.2 1023.5,179.9 1024.0,179.9 1024.5,180.3 1025.0,179.9 1025.5,180.4 1026.0,180.4 1026.5,180.2 1027.0,180.4 1027.5,180.6 1028.0,180.6 1028.5,179.8 1029.0,180.4 1029.5,180.5 1030.0,180.0 1030.5,180.0 1031.0,180.6 1031.5,180.4 1032.0,180.2 1032.5,180.7 1033.0,180.5 1033.5,180.8 1034.0,180.0 1034.5,180.5 1035.0,179.5 1035.5,179.9 1036.0,180.7 1036.5,179.8 1037.0,180.1 1037.5,180.0 1038.0,180.3 1038.5,180.5 1039.0,180.7 1039.5,180.1 1040.0,180.2 1040.5,180.4 1041.0,180.5 1041.5,180.0 1042.0,180.6 1042.5,179.6 1043.0,180.2 1043.5,179.6 1044.0,179.9 1044.5,179.8 1045.0,180.7 1045.5,180.6 1046.0,180.3 1046.5,180.1 1047.0,179.3 1047.5,179.4 1048.0,180.1 1048.5,180.3 1049.0,180.2 1049.5,179.7 1050.0,179.7 1050.5,180.2 1051.0,180.8 1051.5,180.2 1052.0,179.9 1052.5,179.9 1053.0,180.1 1053.5,180.0 1054.0,179.4 1054.5,180.5 1055.0,180.1 1055.5,180.1 1056.0,179.7 1056.5,180.3 1057.0,180.2 1057.5,179.6 1058.0,180.2 1058.5,179.6 1059.0,179.2 1059.5,180.1 1060.0,179.5 1060.5,179.6 1061.0,179.5 1061.5,179.8 1062.0,179.7 1062.5,179.8 1063.0,179.9 1063.5,180.3 1064.0,179.9 1064.5,179.9 1065.0,179.9 1065.5,180.0 1066.0,180.0 1066.5,179.8 1067.0,179.3 1067.5,179.3 1068.0,179.7 1068.5,179.5 1069.0,179.5 1069.5,179.4 1070.0,179.3 1070.5,179.9 1071.0,179.8 1071.5,179.1 1072.0,179.6 1072.5,179.5 1073.0,179.3 1073.5,179.8 1074.0,179.5 1074.5,179.4 1075.0,179.1 1075.5,179.7 1076.0,179.4 1076.5,179.4 1077.0,179.1 1077.5,179.8 1078.0,178.2 1078.5,178.7 1079.0,178.6 1079.5,178.7 1080.0,178.8 1080.5,178.9 1081.0,179.0 1081.5,179.1 1082.0,179.5 1082.5,179.2 1083.0,179.0 1083.5,178.9 1084.0,179.0 1084.5,179.1 1085.0,178.6 1085.5,179.4 1086.0,178.7 1086.5,179.0 1087.0,177.8 1087.5,178.7 1088.0,178.4 1088.5,179.0 1089.0,178.8 1089.5,178.5 1090.0,178.6 1090.5,178.2 1091.0,178.0 1091.5,178.6 1092.0,177.8 1092.5,177.9 1093.0,177.7 1093.5,177.7 1094.0,177.8 1094.5,178.1 1095.0,177.5 1095.5,178.0 1096.0,177.1 1096.5,177.3 1097.0,177.2 1097.5,177.6 1098.0,177.7 1098.5,176.5 1099.0,177.2 1099.5,177.6 1100.0,177.0 1100.5,177.4 1101.0,177.1 1101.5,176.7 1102.0,176.1 1102.5,176.2 1103.0,176.7 1103.5,175.9 1104.0,175.7 1104.5,175.7 1105.0,176.1 1105.5,175.6 1106.0,174.9 1106.5,175.0 1107.0,175.2 1107.5,175.2 1108.0,175.1 1108.5,174.6 1109.0,174.4 1109.5,173.7 1110.0,173.6 1110.5,173.2 1111.0,173.2 1111.5,173.1 1112.0,172.7 1112.5,172.2 1113.0,172.3 1113.5,172.0 1114.0,171.8 1114.5,170.6 1115.0,170.2 1115.5,170.1 1116.0,170.1 1116.5,169.7 1117.0,169.2 1117.5,168.6 1118.0,168.1 1118.5,167.5 1119.0,166.9 1119.5,166.3 1120.0,166.5 1120.5,165.2 1121.0,164.7 1121.5,164.1 1122.0,163.5 1122.5,162.6 1123.0,162.0 1123.5,161.5 1124.0,160.2 1124.5,159.5 1125.0,158.6 1125.5,158.0 1126.0,157.0 1126.5,156.5 1127.0,155.8 1127.5,155.2 1128.0,154.5 1128.5,153.5 1129.0,153.0 1129.5,152.2 1130.0,151.9 1130.5,151.4 1131.0,151.2 1131.5,150.8 1132.0,150.4 1132.5,150.8 1133.0,150.5 1133.5,150.4 1134.0,150.5 1134.5,151.3 1135.0,151.3 1135.5,152.2 1136.0,152.9 1136.5,153.3 1137.0,154.0 1137.5,154.7 1138.0,155.2 1138.5,156.1 1139.0,156.5 1139.5,157.8 1140.0,158.6 1140.5,159.4 1141.0,160.4 1141.5,160.9 1142.0,161.5 1142.5,162.8 1143.0,163.4 1143.5,164.0 1144.0,164.7 1144.5,165.5 1145.0,166.3 1145.5,166.7 1146.0,167.6 1146.5,168.1 1147.0,168.9 1147.5,169.3 1148.0,170.0 1148.5,170.2 1149.0,171.0 1149.5,171.3 1150.0,172.1 1150.5,172.4 1151.0,172.9 1151.5,173.0 1152.0,173.3 1152.5,173.8 1153.0,173.9 1153.5,174.3 1154.0,175.0 1154.5,174.7 1155.0,175.1 1155.5,175.5 1156.0,176.2 1156.5,176.5 1157.0,176.0 1157.5,176.2 1158.0,176.6 1158.5,176.5 1159.0,176.3 1159.5,177.2 1160.0,177.3 1160.5,177.4 1161.0,177.6 1161.5,177.6 1162.0,177.5 1162.5,178.0 1163.0,177.9 1163.5,178.0 1164.0,177.7 1164.5,178.2 1165.0,178.2 1165.5,178.1 1166.0,178.2 1166.5,178.4 1167.0,178.6 1167.5,178.4 1168.0,178.3 1168.5,178.8 1169.0,178.4 1169.5,179.0 1170.0,178.7 1170.5,178.9 1171.0,179.4 1171.5,178.4 1172.0,178.7 1172.5,179.0 1173.0,179.2 1173.5,179.0 1174.0,179.0 1174.5,179.1 1175.0,179.1 1175.5,179.5 1176.0,179.2 1176.5,179.4 1177.0,179.5 1177.5,179.8 1178.0,179.4 1178.5,179.5 1179.0,179.8 1179.5,179.0 1180.0,179.7 1180.5,179.4 1181.0,180.1 1181.5,179.7 1182.0,179.5 1182.5,180.2 1183.0,179.7 1183.5,179.6 1184.0,180.1 1184.5,179.3 1185.0,179.9 1185.5,180.2 1186.0,179.6 1186.5,180.3 1187.0,179.9 1187.5,179.9 1188.0,179.5 1188.5,180.6 1189.0,180.6 1189.5,180.0 1190.0,180.3 1190.5,179.5 1191.0,180.2 1191.5,180.3 1192.0,179.9 1192.5,180.0 1193.0,180.2 1193.5,180.0 1194.0,179.7 1194.5,180.5 1195.0,180.6 1195.5,180.5 1196.0,180.6 1196.5,180.7 1197.0,180.2 1197.5,179.3 1198.0,180.4 1198.5,180.2 1199.0,180.0 1199.5,180.6 1200.0,180.1 1200.5,180.0 1201.0,181.2 1201.5,180.3 1202.0,180.5 1202.5,180.6 1203.0,180.7 1203.5,180.4 1204.0,180.6 1204.5,180.4 1205.0,180.3 1205.5,180.4 1206.0,180.7 1206.5,180.7 1207.0,180.7 1207.5,180.0 1208.0,180.5 1208.5,180.7 1209.0,180.4 1209.5,180.7 1210.0,180.6 1210.5,181.0 1211.0,179.8 1211.5,180.6 1212.0,180.9 1212.5,180.8 1213.0,180.4 1213.5,180.5 1214.0,180.5 1214.5,180.8 1215.0,180.9 1215.5,180.4 1216.0,181.0 1216.5,180.8 1217.0,179.9 1217.5,180.5 1218.0,180.6 1218.5,180.4 1219.0,180.7 1219.5,180.6 1220.0,180.6 1220.5,180.6 1221.0,180.8 1221.5,180.5 1222.0,180.9 1222.5,180.1 1223.0,180.7 1223.5,180.5 1224.0,180.6 1224.5,180.8 1225.0,180.5 1225.5,179.6 1226.0,180.2 1226.5,180.6 1227.0,180.6 1227.5,180.5 1228.0,180.5 1228.5,181.0 1229.0,180.7 1229.5,180.4 1230.0,180.4 1230.5,181.1 1231.0,180.8 1231.5,180.9 1232.0,180.7 1232.5,180.8 1233.0,180.6 1233.5,180.4 1234.0,180.4 1234.5,180.4 1235.0,181.4 1235.5,181.0 1236.0,180.8 1236.5,180.7 1237.0,180.2 1237.5,181.0 1238.0,180.2 1238.5,181.1 1239.0,180.6 1239.5,180.3 1240.0,181.3 1240.5,180.4 1241.0,180.7 1241.5,180.7 1242.0,180.3 1242.5,180.9 1243.0,180.3 1243.5,180.7 1244.0,180.4 1244.5,181.3 1245.0,180.8 1245.5,181.3 1246.0,180.6 1246.5,180.9 1247.0,181.0 1247.5,180.8 1248.0,180.7 1248.5,181.2 1249.0,180.9 1249.5,180.8 1250.0,181.1 1250.5,179.9 1251.0,180.4 1251.5,181.0 1252.0,180.7 1252.5,180.7 1253.0,180.3 1253.5,180.7 1254.0,181.3 1254.5,180.6 1255.0,180.5 1255.5,180.7 1256.0,181.2 1256.5,180.6 1257.0,180.2 1257.5,180.9 1258.0,180.7 1258.5,180.9 1259.0,180.2 1259.5,180.4 1260.0,180.7 1260.5,180.9 1261.0,181.4 1261.5,181.3 1262.0,181.2 1262.5,181.1 1263.0,181.2 1263.5,181.0 1264.0,181.0 1264.5,180.7 1265.0,180.6 1265.5,181.3 1266.0,180.4 1266.5,180.6 1267.0,180.7 1267.5,180.9 1268.0,180.6 1268.5,180.7 1269.0,180.5 1269.5,180.6 1270.0,180.7 1270.5,182.0 1271.0,180.4 1271.5,181.7 1272.0,180.4 1272.5,180.9 1273.0,180.8 1273.5,181.0 1274.0,180.7 1274.5,180.4 1275.0,180.6 1275.5,180.7 1276.0,180.3 1276.5,180.8 1277.0,180.8 1277.5,180.3 1278.0,180.4 1278.5,181.1 1279.0,180.5 1279.5,180.6 1280.0,180.6 1280.5,180.6 1281.0,181.0 1281.5,180.9 1282.0,181.5 1282.5,180.7 1283.0,180.9 1283.5,180.6 1284.0,181.1 1284.5,180.3 1285.0,180.5 1285.5,180.7 1286.0,181.8 1286.5,181.6 1287.0,181.5 1287.5,180.8 1288.0,180.3 1288.5,181.0 1289.0,181.2 1289.5,180.6 1290.0,181.5 1290.5,181.5 1291.0,180.2 1291.5,180.7 1292.0,180.7 1292.5,180.7 1293.0,180.7 1293.5,180.8 1294.0,180.7 1294.5,181.7 1295.0,180.6 1295.5,180.4 1296.0,181.2 1296.5,181.1 1297.0,180.4 1297.5,180.5 1298.0,180.5 1298.5,180.0 1299.0,180.3 1299.5,180.9 1300.0,180.3 1300.5,180.7 1301.0,180.7 1301.5,180.6 1302.0,180.9 1302.5,180.8 1303.0,181.2 1303.5,180.9 1304.0,180.6 1304.5,181.4 1305.0,180.9 1305.5,180.9 1306.0,180.9 1306.5,180.7 1307.0,180.4 1307.5,181.2 1308.0,180.5 1308.5,180.7 1309.0,181.1 1309.5,181.1 1310.0,180.8 1310.5,181.5 1311.0,180.7 1311.5,181.6 1312.0,181.2 1312.5,180.8 1313.0,180.7 1313.5,181.1 1314.0,180.2 1314.5,181.0 1315.0,181.0 1315.5,181.3 1316.0,181.2 1316.5,180.9 1317.0,180.9 1317.5,180.4 1318.0,180.9 1318.5,180.5 1319.0,180.3 1319.5,181.4 1320.0,181.4 1320.5,180.7 1321.0,180.8 1321.5,181.6 1322.0,180.3 1322.5,181.3 1323.0,180.6 1323.5,181.0 1324.0,180.7 1324.5,181.3 1325.0,181.2 1325.5,180.7 1326.0,181.1 1326.5,181.1 1327.0,181.2 1327.5,180.4 1328.0,181.0 1328.5,180.7 1329.0,180.8 1329.5,180.2 1330.0,181.5 1330.5,180.7 1331.0,180.9 1331.5,180.2 1332.0,180.6 1332.5,180.8 1333.0,180.8 1333.5,180.3 1334.0,180.8 1334.5,180.6 1335.0,181.0 1335.5,180.3 1336.0,181.1 1336.5,180.3 1337.0,180.3 1337.5,180.9 1338.0,180.9 1338.5,180.8 1339.0,180.5 1339.5,180.6 1340.0,180.4 1340.5,181.1 1341.0,180.1 1341.5,180.3 1342.0,180.3 1342.5,180.9 1343.0,180.2 1343.5,181.0 1344.0,180.1 1344.5,180.1 1345.0,180.8 1345.5,180.8 1346.0,180.5 1346.5,181.1 1347.0,180.5 1347.5,180.5 1348.0,180.6 1348.5,181.1 1349.0,180.6 1349.5,181.3 1350.0,181.1 1350.5,181.0 1351.0,181.0 1351.5,181.1 1352.0,180.8 1352.5,179.8 1353.0,180.7 1353.5,180.6 1354.0,180.2 1354.5,180.0 1355.0,180.7 1355.5,180.3 1356.0,180.6 1356.5,180.4 1357.0,180.8 1357.5,180.3 1358.0,180.7 1358.5,180.6 1359.0,180.5 1359.5,180.5 1360.0,180.7 1360.5,179.7 1361.0,180.0 1361.5,180.7 1362.0,180.6 1362.5,180.7 1363.0,180.7 1363.5,180.3 1364.0,181.1 1364.5,180.9 1365.0,180.7 1365.5,180.5 1366.0,180.4 1366.5,180.4 1367.0,180.7 1367.5,180.6 1368.0,180.9 1368.5,180.7 1369.0,180.5 1369.5,181.0 1370.0,180.1 1370.5,180.1 1371.0,180.7 1371.5,180.4 1372.0,180.1 1372.5,180.1 1373.0,180.6 1373.5,181.1 1374.0,181.1 1374.5,180.6 1375.0,180.5 1375.5,180.3 1376.0,181.2 1376.5,180.6 1377.0,180.5 1377.5,180.8 1378.0,181.0 1378.5,180.6 1379.0,181.0 1379.5,180.1 1380.0,180.7 1380.5,180.8 1381.0,180.7 1381.5,180.8 1382.0,180.6 1382.5,180.8 1383.0,179.8 1383.5,180.3 1384.0,180.9 1384.5,180.2 1385.0,180.2 1385.5,181.3 1386.0,180.6 1386.5,180.6 1387.0,180.7 1387.5,181.2 1388.0,180.5 1388.5,180.3 1389.0,180.6 1389.5,181.0 1390.0,179.9 1390.5,180.5 1391.0,180.4 1391.5,180.6 1392.0,180.8 1392.5,180.6 1393.0,180.0 1393.5,180.5 1394.0,180.5 1394.5,180.5 1395.0,180.9 1395.5,180.4 1396.0,180.3 1396.5,180.5 1397.0,180.5 1397.5,180.8 1398.0,179.9 1398.5,180.0 1399.0,180.5 1399.5,180.8 1400.0,180.5 1400.5,180.6 1401.0,181.1 1401.5,180.5 1402.0,180.6 1402.5,180.5 1403.0,180.8 1403.5,180.7 1404.0,180.4 1404.5,180.7 1405.0,180.7 1405.5,180.3 1406.0,180.8 1406.5,181.2 1407.0,180.1 1407.5,180.1 1408.0,180.4 1408.5,180.4 1409.0,180.6 1409.5,180.5 1410.0,180.5 1410.5,180.9 1411.0,180.9 1411.5,179.8 1412.0,180.7 1412.5,180.5 1413.0,180.7 1413.5,180.5 1414.0,180.6 1414.5,180.4 1415.0,180.2 1415.5,180.4 1416.0,180.7 1416.5,180.5 1417.0,180.4 1417.5,180.9 1418.0,180.8 1418.5,180.2 1419.0,180.2 1419.5,180.4 1420.0,180.6 1420.5,180.8 1421.0,179.9 1421.5,180.9 1422.0,180.5 1422.5,180.5 1423.0,180.7 1423.5,180.5 1424.0,180.5 1424.5,180.8 1425.0,180.9 1425.5,180.1 1426.0,179.9 1426.5,180.1 1427.0,180.5 1427.5,180.3 1428.0,180.4 1428.5,180.3 1429.0,180.1 1429.5,180.6 1430.0,180.4 1430.5,180.5 1431.0,180.6 1431.5,180.9 1432.0,181.2 1432.5,180.2 1433.0,180.9 1433.5,180.5 1434.0,180.6 1434.5,180.8 1435.0,180.2 1435.5,180.4 1436.0,180.8 1436.5,180.6 1437.0,181.0 1437.5,180.6 1438.0,180.5 1438.5,180.4 1439.0,180.6 1439.5,179.8 1440.0,180.8" fill="none" stroke="#ff00ff" stroke-width="8.5" stroke-linejoin="round" stroke-linecap="butt"/>
<path d="M142.0,327.1 142.5,324.1 143.0,325.2 143.5,324.9 144.0,325.6 144.5,323.4 145.0,324.4 145.5,324.0 146.0,323.7 146.5,323.9 147.0,324.2 147.5,324.4 148.0,323.8 148.5,325.1 149.0,324.2 149.5,321.5 150.0,325.9 150.5,324.3 151.0,324.0 151.5,325.0 152.0,324.9 152.5,324.7 153.0,323.8 153.5,324.8 154.0,323.1 154.5,326.1 155.0,323.4 155.5,324.4 156.0,324.6 156.5,324.8 157.0,324.4 157.5,325.1 158.0,321.0 158.5,324.4 159.0,324.3 159.5,324.0 160.0,326.0 160.5,323.5 161.0,324.4 161.5,322.4 162.0,324.7 162.5,322.8 163.0,322.8 163.5,326.8 164.0,325.1 164.5,324.4 165.0,324.6 165.5,322.9 166.0,323.3 166.5,324.8 167.0,322.2 167.5,324.6 168.0,322.6 168.5,324.5 169.0,323.2 169.5,326.1 170.0,325.3 170.5,323.8 171.0,322.4 171.5,323.5 172.0,324.2 172.5,323.3 173.0,324.6 173.5,325.3 174.0,324.2 174.5,323.8 175.0,325.0 175.5,324.0 176.0,325.1 176.5,323.9 177.0,325.9 177.5,323.9 178.0,323.1 178.5,324.3 179.0,323.6 179.5,323.2 180.0,324.1 180.5,324.9 181.0,322.0 181.5,324.1 182.0,324.0 182.5,324.0 183.0,325.0 183.5,322.8 184.0,324.8 184.5,323.9 185.0,324.2 185.5,323.9 186.0,323.8 186.5,323.6 187.0,324.5 187.5,326.2 188.0,325.1 188.5,324.9 189.0,324.6 189.5,323.6 190.0,324.7 190.5,326.1 191.0,322.8 191.5,324.9 192.0,325.1 192.5,324.3 193.0,324.8 193.5,325.4 194.0,326.2 194.5,325.3 195.0,325.7 195.5,324.3 196.0,324.8 196.5,324.2 197.0,324.3 197.5,323.5 198.0,324.7 198.5,325.4 199.0,323.8 199.5,324.2 200.0,324.6 200.5,324.0 201.0,324.9 201.5,324.2 202.0,322.7 202.5,322.9 203.0,324.6 203.5,324.5 204.0,325.0 204.5,324.1 205.0,324.1 205.5,322.3 206.0,325.2 206.5,322.9 207.0,324.9 207.5,322.7 208.0,323.1 208.5,324.0 209.0,323.4 209.5,323.1 210.0,324.7 210.5,324.4 211.0,324.1 211.5,323.4 212.0,322.9 212.5,323.2 213.0,323.2 213.5,323.7 214.0,324.5 214.5,323.5 215.0,322.9 215.5,323.0 216.0,324.9 216.5,323.8 217.0,323.9 217.5,323.9 218.0,324.2 218.5,323.7 219.0,324.8 219.5,324.4 220.0,320.8 220.5,323.4 221.0,326.5 221.5,322.3 222.0,323.7 222.5,324.6 223.0,323.5 223.5,324.8 224.0,322.2 224.5,322.2 225.0,323.3 225.5,322.7 226.0,322.4 226.5,324.0 227.0,323.7 227.5,323.4 228.0,323.0 228.5,323.6 229.0,323.2 229.5,322.6 230.0,323.8 230.5,323.7 231.0,323.4 231.5,324.0 232.0,322.2 232.5,323.1 233.0,322.7 233.5,324.6 234.0,323.7 234.5,325.3 235.0,324.8 235.5,322.8 236.0,322.1 236.5,323.6 237.0,322.9 237.5,323.0 238.0,322.1 238.5,323.7 239.0,323.3 239.5,323.5 240.0,323.4 240.5,322.2 241.0,320.8 241.5,322.8 242.0,322.4 242.5,322.5 243.0,323.9 243.5,322.9 244.0,324.5 244.5,323.1 245.0,323.6 245.5,323.4 246.0,323.7 246.5,321.7 247.0,324.0 247.5,323.0 248.0,321.9 248.5,323.4 249.0,323.2 249.5,324.1 250.0,323.5 250.5,323.1 251.0,321.2 251.5,324.4 252.0,324.2 252.5,323.5 253.0,323.2 253.5,323.9 254.0,321.8 254.5,323.4 255.0,322.7 255.5,321.7 256.0,323.0 256.5,323.0 257.0,324.3 257.5,323.5 258.0,321.0 258.5,320.6 259.0,322.5 259.5,322.3 260.0,321.6 260.5,321.1 261.0,322.3 261.5,321.3 262.0,321.8 262.5,323.3 263.0,322.6 263.5,321.7 264.0,321.3 264.5,322.2 265.0,324.1 265.5,321.8 266.0,324.0 266.5,321.5 267.0,322.1 267.5,322.9 268.0,321.5 268.5,322.3 269.0,320.9 269.5,322.9 270.0,323.3 270.5,321.5 271.0,322.3 271.5,321.7 272.0,320.0 272.5,324.8 273.0,322.7 273.5,322.9 274.0,322.4 274.5,322.2 275.0,324.3 275.5,320.2 276.0,321.7 276.5,321.5 277.0,321.7 277.5,322.6 278.0,321.2 278.5,320.6 279.0,320.8 279.5,322.3 280.0,322.8 280.5,322.6 281.0,323.4 281.5,321.3 282.0,322.7 282.5,322.4 283.0,321.6 283.5,321.0 284.0,322.5 284.5,321.0 285.0,321.3 285.5,320.7 286.0,323.3 286.5,321.5 287.0,321.1 287.5,321.3 288.0,321.3 288.5,321.6 289.0,319.8 289.5,320.3 290.0,321.9 290.5,322.5 291.0,320.4 291.5,321.5 292.0,320.8 292.5,319.1 293.0,321.0 293.5,320.2 294.0,322.1 294.5,321.0 295.0,321.2 295.5,319.8 296.0,321.3 296.5,319.3 297.0,321.3 297.5,322.5 298.0,319.9 298.5,321.9 299.0,322.4 299.5,320.8 300.0,322.1 300.5,321.1 301.0,320.5 301.5,319.0 302.0,319.9 302.5,319.4 303.0,323.2 303.5,321.1 304.0,320.6 304.5,319.5 305.0,322.5 305.5,319.6 306.0,322.2 306.5,321.8 307.0,320.8 307.5,320.0 308.0,320.6 308.5,319.3 309.0,321.2 309.5,322.2 310.0,321.4 310.5,321.6 311.0,319.8 311.5,320.8 312.0,319.5 312.5,320.0 313.0,321.1 313.5,322.9 314.0,320.5 314.5,320.4 315.0,318.5 315.5,320.5 316.0,319.4 316.5,318.9 317.0,318.8 317.5,320.4 318.0,319.8 318.5,320.8 319.0,319.9 319.5,320.1 320.0,321.5 320.5,320.8 321.0,320.8 321.5,321.4 322.0,320.2 322.5,319.0 323.0,319.1 323.5,318.4 324.0,320.2 324.5,319.4 325.0,320.3 325.5,320.6 326.0,318.9 326.5,319.9 327.0,320.9 327.5,319.7 328.0,320.5 328.5,319.4 329.0,318.6 329.5,319.3 330.0,317.6 330.5,320.1 331.0,318.9 331.5,320.6 332.0,318.1 332.5,319.3 333.0,319.5 333.5,318.9 334.0,319.5 334.5,318.3 335.0,318.0 335.5,317.6 336.0,318.4 336.5,318.1 337.0,319.0 337.5,318.4 338.0,318.1 338.5,317.9 339.0,316.8 339.5,318.2 340.0,318.8 340.5,317.1 341.0,318.1 341.5,318.9 342.0,317.6 342.5,318.3 343.0,317.7 343.5,320.2 344.0,319.2 344.5,318.9 345.0,317.1 345.5,318.2 346.0,317.3 346.5,317.7 347.0,316.8 347.5,317.3 348.0,316.3 348.5,317.2 349.0,318.3 349.5,315.4 350.0,315.3 350.5,316.8 351.0,317.0 351.5,315.8 352.0,316.5 352.5,316.2 353.0,316.2 353.5,316.8 354.0,314.9 354.5,315.9 355.0,315.4 355.5,314.4 356.0,315.4 356.5,313.6 357.0,313.3 357.5,315.5 358.0,313.4 358.5,315.8 359.0,315.1 359.5,313.6 360.0,313.2 360.5,311.8 361.0,313.7 361.5,312.2 362.0,315.0 362.5,311.9 363.0,313.4 363.5,310.8 364.0,312.9 364.5,314.3 365.0,312.6 365.5,312.1 366.0,312.3 366.5,313.0 367.0,313.3 367.5,312.2 368.0,310.4 368.5,312.5 369.0,313.0 369.5,314.1 370.0,312.0 370.5,311.9 371.0,311.1 371.5,312.2 372.0,313.0 372.5,310.4 373.0,311.2 373.5,310.1 374.0,310.3 374.5,310.6 375.0,311.1 375.5,309.7 376.0,310.1 376.5,311.4 377.0,310.5 377.5,310.6 378.0,310.2 378.5,309.5 379.0,309.9 379.5,309.8 380.0,309.2 380.5,310.0 381.0,308.9 381.5,309.5 382.0,308.6 382.5,309.0 383.0,307.7 383.5,307.6 384.0,306.9 384.5,308.7 385.0,308.0 385.5,307.5 386.0,307.7 386.5,306.3 387.0,306.9 387.5,306.1 388.0,304.8 388.5,305.9 389.0,305.2 389.5,306.9 390.0,304.9 390.5,304.8 391.0,305.9 391.5,304.8 392.0,303.5 392.5,304.6 393.0,303.6 393.5,305.4 394.0,302.9 394.5,303.0 395.0,301.1 395.5,302.6 396.0,304.4 396.5,302.6 397.0,301.7 397.5,302.3 398.0,301.6 398.5,301.5 399.0,303.0 399.5,302.3 400.0,301.6 400.5,301.3 401.0,299.1 401.5,298.0 402.0,299.4 402.5,298.8 403.0,298.1 403.5,297.5 404.0,297.6 404.5,297.0 405.0,296.4 405.5,296.0 406.0,295.1 406.5,294.4 407.0,295.0 407.5,293.4 408.0,294.2 408.5,292.8 409.0,291.9 409.5,291.9 410.0,290.3 410.5,289.8 411.0,289.1 411.5,288.6 412.0,288.3 412.5,288.3 413.0,286.7 413.5,285.1 414.0,284.4 414.5,283.1 415.0,283.6 415.5,282.8 416.0,281.7 416.5,280.8 417.0,279.9 417.5,278.9 418.0,278.0 418.5,276.8 419.0,275.3 419.5,275.0 420.0,274.1 420.5,271.7 421.0,271.1 421.5,269.6 422.0,269.0 422.5,267.4 423.0,266.7 423.5,265.2 424.0,263.3 424.5,261.8 425.0,260.3 425.5,259.1 426.0,257.0 426.5,255.8 427.0,253.5 427.5,252.5 428.0,250.4 428.5,248.1 429.0,246.2 429.5,244.3 430.0,242.2 430.5,239.2 431.0,237.6 431.5,235.4 432.0,232.5 432.5,229.7 433.0,227.5 433.5,224.5 434.0,221.6 434.5,218.7 435.0,215.3 435.5,212.4 436.0,209.4 436.5,206.5 437.0,203.9 437.5,201.3 438.0,199.4 438.5,197.3 439.0,195.9 439.5,194.4 440.0,194.1 440.5,194.1 441.0,194.7 441.5,195.7 442.0,196.8 442.5,198.5 443.0,200.8 443.5,203.3 444.0,205.6 444.5,207.5 445.0,209.9 445.5,212.6 446.0,215.2 446.5,217.9 447.0,219.8 447.5,222.0 448.0,224.7 448.5,226.4 449.0,228.5 449.5,230.9 450.0,232.7 450.5,234.3 451.0,236.4 451.5,238.2 452.0,240.0 452.5,241.6 453.0,243.7 453.5,245.0 454.0,246.5 454.5,248.7 455.0,249.5 455.5,251.6 456.0,253.0 456.5,254.1 457.0,255.7 457.5,256.5 458.0,258.5 458.5,259.3 459.0,260.7 459.5,262.4 460.0,263.2 460.5,264.8 461.0,266.1 461.5,267.5 462.0,268.4 462.5,269.8 463.0,270.1 463.5,271.3 464.0,272.8 464.5,274.1 465.0,274.7 465.5,275.3 466.0,275.9 466.5,276.9 467.0,278.8 467.5,278.7 468.0,279.9 468.5,281.2 469.0,281.9 469.5,282.1 470.0,284.3 470.5,284.1 471.0,284.9 471.5,285.9 472.0,285.9 472.5,287.2 473.0,287.4 473.5,287.6 474.0,288.2 474.5,289.6 475.0,290.0 475.5,290.4 476.0,290.8 476.5,291.5 477.0,292.6 477.5,293.3 478.0,293.0 478.5,293.8 479.0,292.9 479.5,293.8 480.0,294.5 480.5,294.8 481.0,296.3 481.5,294.8 482.0,296.9 482.5,297.4 483.0,298.9 483.5,297.3 484.0,298.3 484.5,299.4 485.0,299.3 485.5,298.1 486.0,298.8 486.5,298.5 487.0,299.7 487.5,300.4 488.0,301.1 488.5,300.7 489.0,301.2 489.5,301.6 490.0,300.2 490.5,301.6 491.0,302.1 491.5,301.3 492.0,300.8 492.5,301.9 493.0,302.1 493.5,302.7 494.0,300.7 494.5,302.1 495.0,304.3 495.5,303.8 496.0,302.7 496.5,302.7 497.0,302.9 497.5,302.4 498.0,303.0 498.5,303.5 499.0,302.7 499.5,303.8 500.0,304.2 500.5,303.0 501.0,303.9 501.5,303.1 502.0,304.6 502.5,304.9 503.0,304.4 503.5,305.1 504.0,305.7 504.5,305.9 505.0,304.3 505.5,305.4 506.0,304.5 506.5,304.3 507.0,307.0 507.5,306.9 508.0,307.5 508.5,307.2 509.0,306.2 509.5,307.0 510.0,306.5 510.5,308.3 511.0,305.1 511.5,307.7 512.0,307.0 512.5,308.2 513.0,308.8 513.5,307.3 514.0,309.2 514.5,309.1 515.0,306.9 515.5,310.0 516.0,307.4 516.5,307.4 517.0,309.6 517.5,308.2 518.0,309.2 518.5,309.0 519.0,308.3 519.5,310.7 520.0,310.7 520.5,309.6 521.0,311.0 521.5,309.7 522.0,310.1 522.5,309.7 523.0,308.8 523.5,309.8 524.0,309.4 524.5,310.7 525.0,310.6 525.5,310.1 526.0,311.9 526.5,311.1 527.0,312.6 527.5,310.7 528.0,310.8 528.5,310.6 529.0,311.5 529.5,311.3 530.0,311.6 530.5,313.2 531.0,312.5 531.5,311.3 532.0,312.3 532.5,311.8 533.0,311.8 533.5,312.0 534.0,312.3 534.5,312.9 535.0,313.4 535.5,312.5 536.0,311.8 536.5,312.6 537.0,312.5 537.5,312.5 538.0,311.7 538.5,312.7 539.0,311.2 539.5,314.2 540.0,313.7 540.5,313.8 541.0,312.2 541.5,313.3 542.0,314.4 542.5,312.9 543.0,312.1 543.5,313.1 544.0,311.0 544.5,314.1 545.0,313.6 545.5,311.9 546.0,313.9 546.5,314.4 547.0,313.9 547.5,313.9 548.0,314.8 548.5,313.5 549.0,314.6 549.5,313.0 550.0,312.5 550.5,312.9 551.0,312.2 551.5,313.6 552.0,312.5 552.5,313.5 553.0,313.5 553.5,314.7 554.0,314.9 554.5,312.6 555.0,312.9 555.5,312.9 556.0,312.5 556.5,314.8 557.0,314.2 557.5,312.8 558.0,311.6 558.5,312.3 559.0,313.0 559.5,314.5 560.0,311.7 560.5,314.3 561.0,311.5 561.5,313.2 562.0,311.7 562.5,312.4 563.0,310.5 563.5,313.4 564.0,312.8 564.5,311.7 565.0,310.7 565.5,312.7 566.0,312.7 566.5,311.3 567.0,313.2 567.5,312.6 568.0,311.6 568.5,311.9 569.0,310.3 569.5,313.4 570.0,313.7 570.5,312.5 571.0,311.4 571.5,311.6 572.0,312.4 572.5,311.8 573.0,313.0 573.5,311.8 574.0,313.6 574.5,313.9 575.0,312.1 575.5,311.9 576.0,309.7 576.5,312.7 577.0,313.1 577.5,311.8 578.0,313.8 578.5,312.0 579.0,311.5 579.5,313.5 580.0,313.2 580.5,310.6 581.0,312.0 581.5,311.4 582.0,312.5 582.5,312.9 583.0,312.3 583.5,312.9 584.0,313.6 584.5,312.4 585.0,311.5 585.5,311.8 586.0,313.6 586.5,314.5 587.0,312.6 587.5,313.2 588.0,312.0 588.5,312.3 589.0,313.8 589.5,312.4 590.0,313.0 590.5,313.0 591.0,314.0 591.5,313.2 592.0,312.9 592.5,312.7 593.0,312.5 593.5,314.0 594.0,315.1 594.5,311.6 595.0,314.1 595.5,312.2 596.0,312.6 596.5,312.9 597.0,312.8 597.5,312.9 598.0,312.7 598.5,315.1 599.0,312.0 599.5,312.8 600.0,312.8 600.5,313.7 601.0,312.4 601.5,313.6 602.0,313.8 602.5,315.6 603.0,314.4 603.5,313.8 604.0,314.0 604.5,315.7 605.0,314.0 605.5,313.5 606.0,313.6 606.5,313.9 607.0,315.2 607.5,313.5 608.0,314.0 608.5,314.6 609.0,313.8 609.5,315.3 610.0,314.5 610.5,315.4 611.0,315.5 611.5,316.4 612.0,316.8 612.5,314.5 613.0,314.1 613.5,314.4 614.0,316.0 614.5,316.1 615.0,315.7 615.5,315.8 616.0,317.3 616.5,316.8 617.0,316.3 617.5,316.7 618.0,314.9 618.5,317.4 619.0,318.3 619.5,316.7 620.0,316.2 620.5,317.8 621.0,316.4 621.5,317.0 622.0,317.5 622.5,316.9 623.0,317.8 623.5,315.5 624.0,315.1 624.5,318.1 625.0,318.0 625.5,317.8 626.0,317.3 626.5,317.8 627.0,318.2 627.5,316.9 628.0,318.2 628.5,317.4 629.0,320.1 629.5,318.6 630.0,318.6 630.5,319.3 631.0,319.3 631.5,319.4 632.0,318.0 632.5,318.8 633.0,319.6 633.5,319.0 634.0,319.0 634.5,318.4 635.0,319.2 635.5,320.4 636.0,318.1 636.5,318.0 637.0,318.2 637.5,318.0 638.0,320.6 638.5,321.3 639.0,320.1 639.5,319.8 640.0,321.0 640.5,320.8 641.0,317.8 641.5,319.9 642.0,322.3 642.5,319.8 643.0,319.5 643.5,319.7 644.0,321.8 644.5,320.0 645.0,320.9 645.5,321.6 646.0,320.8 646.5,320.7 647.0,319.8 647.5,319.6 648.0,321.9 648.5,319.7 649.0,322.0 649.5,322.2 650.0,322.5 650.5,321.0 651.0,320.4 651.5,321.4 652.0,322.5 652.5,321.9 653.0,321.9 653.5,321.4 654.0,322.4 654.5,319.7 655.0,320.5 655.5,323.1 656.0,322.2 656.5,322.4 657.0,320.0 657.5,321.0 658.0,321.5 658.5,321.8 659.0,323.1 659.5,321.4 660.0,322.1 660.5,321.3 661.0,321.8 661.5,322.4 662.0,322.5 662.5,323.1 663.0,321.0 663.5,322.9 664.0,322.7 664.5,321.5 665.0,323.5 665.5,321.7 666.0,322.0 666.5,322.9 667.0,323.7 667.5,322.0 668.0,323.8 668.5,322.8 669.0,321.7 669.5,323.2 670.0,322.6 670.5,321.8 671.0,322.4 671.5,323.8 672.0,322.9 672.5,322.4 673.0,323.4 673.5,321.3 674.0,323.3 674.5,324.0 675.0,321.6 675.5,321.6 676.0,321.9 676.5,322.5 677.0,322.0 677.5,322.7 678.0,321.8 678.5,323.1 679.0,323.4 679.5,323.3 680.0,322.3 680.5,323.7 681.0,321.4 681.5,322.2 682.0,322.8 682.5,324.2 683.0,322.5 683.5,323.5 684.0,324.5 684.5,324.9 685.0,324.7 685.5,322.2 686.0,323.3 686.5,323.5 687.0,323.7 687.5,323.5 688.0,322.9 688.5,323.1 689.0,321.7 689.5,323.8 690.0,323.4 690.5,322.5 691.0,324.8 691.5,323.1 692.0,322.5 692.5,323.7 693.0,323.6 693.5,323.8 694.0,323.1 694.5,323.9 695.0,323.3 695.5,324.3 696.0,323.5 696.5,322.4 697.0,322.2 697.5,323.8 698.0,324.1 698.5,321.8 699.0,323.8 699.5,323.1 700.0,323.5 700.5,322.4 701.0,322.1 701.5,322.7 702.0,322.5 702.5,322.8 703.0,323.4 703.5,323.3 704.0,325.1 704.5,322.3 705.0,322.8 705.5,323.4 706.0,323.9 706.5,322.3 707.0,321.9 707.5,323.6 708.0,323.7 708.5,323.9 709.0,323.9 709.5,321.8 710.0,324.4 710.5,323.2 711.0,325.4 711.5,323.0 712.0,321.2 712.5,323.2 713.0,323.5 713.5,323.7 714.0,323.6 714.5,322.8 715.0,321.7 715.5,323.2 716.0,323.1 716.5,322.7 717.0,323.4 717.5,323.1 718.0,321.4 718.5,322.6 719.0,322.6 719.5,323.2 720.0,325.0 720.5,323.4 721.0,324.0 721.5,321.4 722.0,324.6 722.5,322.9 723.0,324.0 723.5,322.4 724.0,323.4 724.5,324.2 725.0,323.4 725.5,323.7 726.0,322.7 726.5,322.8 727.0,323.7 727.5,323.3 728.0,323.6 728.5,322.8 729.0,323.1 729.5,324.2 730.0,324.9 730.5,323.1 731.0,322.9 731.5,323.6 732.0,324.4 732.5,323.8 733.0,324.6 733.5,323.3 734.0,322.6 734.5,321.7 735.0,324.4 735.5,323.8 736.0,322.9 736.5,323.9 737.0,322.4 737.5,324.5 738.0,324.6 738.5,324.7 739.0,323.1 739.5,324.9 740.0,324.4 740.5,325.1 741.0,321.9 741.5,324.5 742.0,324.8 742.5,323.3 743.0,324.5 743.5,323.7 744.0,325.0 744.5,323.4 745.0,323.6 745.5,322.4 746.0,325.6 746.5,322.8 747.0,322.6 747.5,322.7 748.0,323.7 748.5,323.7 749.0,324.0 749.5,325.1 750.0,324.6 750.5,322.2 751.0,323.8 751.5,323.4 752.0,324.4 752.5,323.7 753.0,324.9 753.5,323.8 754.0,325.5 754.5,322.7 755.0,324.8 755.5,324.5 756.0,322.9 756.5,322.3 757.0,323.0 757.5,324.0 758.0,325.3 758.5,322.2 759.0,323.4 759.5,322.4 760.0,324.4 760.5,323.8 761.0,323.7 761.5,324.4 762.0,324.0 762.5,325.1 763.0,323.4 763.5,323.1 764.0,323.7 764.5,323.6 765.0,324.9 765.5,323.3 766.0,323.2 766.5,323.0 767.0,322.9 767.5,321.8 768.0,323.8 768.5,324.2 769.0,323.8 769.5,322.9 770.0,324.6 770.5,324.4 771.0,323.9 771.5,324.3 772.0,323.6 772.5,324.1 773.0,324.2 773.5,322.5 774.0,323.2 774.5,323.0 775.0,324.1 775.5,321.2 776.0,324.0 776.5,323.7 777.0,323.5 777.5,324.1 778.0,322.2 778.5,323.9 779.0,322.9 779.5,323.1 780.0,325.0 780.5,323.4 781.0,324.7 781.5,323.7 782.0,323.4 782.5,323.3 783.0,322.3 783.5,323.4 784.0,323.8 784.5,325.1 785.0,324.4 785.5,324.5 786.0,322.8 786.5,323.0 787.0,324.1 787.5,324.2 788.0,322.7 788.5,324.7 789.0,323.1 789.5,324.0 790.0,323.2 790.5,324.4 791.0,324.5 791.5,324.7 792.0,322.8 792.5,323.8 793.0,325.9 793.5,323.7 794.0,324.2 794.5,323.8 795.0,323.2 795.5,325.4 796.0,325.2 796.5,323.0 797.0,324.2 797.5,325.5 798.0,324.2 798.5,323.8 799.0,324.7 799.5,324.5 800.0,322.5 800.5,322.9 801.0,325.3 801.5,323.1 802.0,323.7 802.5,323.1 803.0,325.6 803.5,322.5 804.0,323.9 804.5,323.3 805.0,323.4 805.5,322.5 806.0,322.9 806.5,323.5 807.0,323.9 807.5,321.9 808.0,323.8 808.5,322.8 809.0,323.6 809.5,323.3 810.0,323.6 810.5,323.4 811.0,324.1 811.5,323.7 812.0,322.0 812.5,321.3 813.0,322.3 813.5,324.0 814.0,322.0 814.5,322.7 815.0,325.5 815.5,323.3 816.0,323.5 816.5,324.0 817.0,324.3 817.5,323.2 818.0,323.8 818.5,321.7 819.0,324.0 819.5,324.2 820.0,322.0 820.5,324.6 821.0,325.5 821.5,321.1 822.0,323.5 822.5,325.0 823.0,324.3 823.5,323.0 824.0,323.0 824.5,323.3 825.0,324.3 825.5,322.8 826.0,322.2 826.5,323.8 827.0,322.9 827.5,325.3 828.0,322.6 828.5,323.9 829.0,323.4 829.5,322.2 830.0,323.1 830.5,321.7 831.0,324.0 831.5,322.7 832.0,322.4 832.5,322.1 833.0,325.0 833.5,324.1 834.0,322.6 834.5,323.5 835.0,324.2 835.5,324.2 836.0,323.6 836.5,321.6 837.0,325.3 837.5,323.5 838.0,325.0 838.5,322.3 839.0,324.4 839.5,324.9 840.0,324.8 840.5,322.4 841.0,323.4 841.5,325.1 842.0,322.8 842.5,324.3 843.0,323.4 843.5,322.1 844.0,324.6 844.5,324.7 845.0,324.2 845.5,323.9 846.0,324.6 846.5,321.6 847.0,323.6 847.5,325.3 848.0,324.1 848.5,324.7 849.0,323.4 849.5,323.9 850.0,322.4 850.5,324.1 851.0,323.9 851.5,323.2 852.0,323.6 852.5,323.7 853.0,323.8 853.5,324.4 854.0,324.6 854.5,321.5 855.0,323.8 855.5,324.7 856.0,322.4 856.5,323.4 857.0,326.0 857.5,323.0 858.0,324.6 858.5,323.8 859.0,322.2 859.5,323.3 860.0,321.8 860.5,323.2 861.0,324.5 861.5,324.2 862.0,323.9 862.5,323.0 863.0,324.2 863.5,324.8 864.0,324.3 864.5,324.6 865.0,324.0 865.5,324.0 866.0,322.7 866.5,325.1 867.0,322.5 867.5,322.7 868.0,322.9 868.5,322.8 869.0,324.9 869.5,323.4 870.0,323.3 870.5,323.3 871.0,323.6 871.5,324.9 872.0,325.0 872.5,323.1 873.0,325.3 873.5,324.2 874.0,323.9 874.5,324.9 875.0,323.7 875.5,323.9 876.0,323.7 876.5,322.4 877.0,322.3 877.5,322.6 878.0,322.7 878.5,323.0 879.0,323.0 879.5,324.6 880.0,323.6 880.5,324.3 881.0,323.9 881.5,322.7 882.0,323.3 882.5,322.0 883.0,321.8 883.5,323.9 884.0,323.5 884.5,323.6 885.0,324.5 885.5,322.2 886.0,323.4 886.5,321.3 887.0,322.6 887.5,324.1 888.0,322.0 888.5,322.2 889.0,323.2 889.5,325.2 890.0,324.2 890.5,323.3 891.0,324.1 891.5,323.6 892.0,323.1 892.5,322.9 893.0,323.9 893.5,323.4 894.0,324.2 894.5,322.9 895.0,324.3 895.5,323.1 896.0,324.6 896.5,324.5 897.0,322.8 897.5,325.7 898.0,323.8 898.5,322.8 899.0,322.2 899.5,323.6 900.0,323.6 900.5,322.7 901.0,322.4 901.5,323.0 902.0,322.4 902.5,322.8 903.0,322.6 903.5,323.9 904.0,320.9 904.5,325.4 905.0,323.0 905.5,323.4 906.0,322.1 906.5,324.5 907.0,323.3 907.5,323.1 908.0,322.5 908.5,324.0 909.0,323.9 909.5,322.8 910.0,325.0 910.5,322.5 911.0,324.6 911.5,323.6 912.0,322.1 912.5,323.2 913.0,323.9 913.5,323.0 914.0,323.5 914.5,323.3 915.0,323.8 915.5,322.8 916.0,325.2 916.5,323.7 917.0,324.9 917.5,323.2 918.0,323.6 918.5,322.4 919.0,323.4 919.5,324.9 920.0,323.7 920.5,322.7 921.0,322.8 921.5,324.0 922.0,323.2 922.5,325.4 923.0,323.6 923.5,323.4 924.0,324.1 924.5,325.0 925.0,321.9 925.5,322.7 926.0,322.7 926.5,321.4 927.0,323.2 927.5,323.3 928.0,324.2 928.5,324.0 929.0,324.0 929.5,324.0 930.0,322.9 930.5,326.2 931.0,324.8 931.5,323.0 932.0,322.5 932.5,323.8 933.0,324.3 933.5,323.8 934.0,324.1 934.5,324.3 935.0,323.8 935.5,322.4 936.0,322.8 936.5,321.6 937.0,324.2 937.5,322.8 938.0,323.5 938.5,325.4 939.0,322.5 939.5,323.3 940.0,322.5 940.5,321.5 941.0,324.3 941.5,323.2 942.0,323.2 942.5,324.1 943.0,323.1 943.5,324.0 944.0,324.5 944.5,322.6 945.0,323.7 945.5,323.4 946.0,324.3 946.5,325.7 947.0,322.3 947.5,324.8 948.0,323.4 948.5,323.9 949.0,323.6 949.5,323.1 950.0,322.0 950.5,323.2 951.0,322.4 951.5,324.7 952.0,323.7 952.5,322.7 953.0,322.9 953.5,324.3 954.0,321.8 954.5,323.4 955.0,323.4 955.5,322.3 956.0,324.2 956.5,322.8 957.0,324.2 957.5,323.4 958.0,322.6 958.5,323.1 959.0,324.2 959.5,322.3 960.0,322.4 960.5,323.1 961.0,323.7 961.5,323.8 962.0,322.2 962.5,322.0 963.0,323.1 963.5,322.9 964.0,323.4 964.5,321.6 965.0,322.7 965.5,322.0 966.0,324.7 966.5,321.1 967.0,322.2 967.5,322.6 968.0,321.4 968.5,322.7 969.0,322.4 969.5,321.6 970.0,322.6 970.5,324.4 971.0,323.2 971.5,324.4 972.0,324.3 972.5,323.2 973.0,322.8 973.5,320.9 974.0,321.1 974.5,323.3 975.0,323.1 975.5,323.2 976.0,322.2 976.5,322.8 977.0,322.0 977.5,323.9 978.0,323.1 978.5,321.1 979.0,322.4 979.5,324.2 980.0,322.0 980.5,321.9 981.0,322.1 981.5,322.4 982.0,323.1 982.5,322.8 983.0,323.1 983.5,322.4 984.0,323.6 984.5,324.3 985.0,322.1 985.5,323.2 986.0,323.2 986.5,323.1 987.0,322.9 987.5,323.4 988.0,322.7 988.5,322.3 989.0,322.2 989.5,323.6 990.0,322.4 990.5,321.2 991.0,322.4 991.5,322.4 992.0,323.7 992.5,323.9 993.0,321.8 993.5,324.1 994.0,323.2 994.5,324.4 995.0,322.4 995.5,323.5 996.0,323.6 996.5,324.4 997.0,321.6 997.5,322.8 998.0,322.9 998.5,322.6 999.0,322.0 999.5,322.6 1000.0,322.9 1000.5,324.7 1001.0,322.8 1001.5,323.8 1002.0,322.3 1002.5,323.0 1003.0,322.7 1003.5,322.8 1004.0,321.3 1004.5,322.7 1005.0,325.2 1005.5,322.7 1006.0,321.4 1006.5,324.9 1007.0,323.1 1007.5,323.0 1008.0,321.2 1008.5,322.4 1009.0,322.4 1009.5,322.5 1010.0,321.6 1010.5,323.2 1011.0,321.3 1011.5,323.7 1012.0,322.5 1012.5,322.1 1013.0,321.0 1013.5,322.8 1014.0,322.8 1014.5,321.1 1015.0,324.1 1015.5,322.2 1016.0,321.0 1016.5,323.6 1017.0,321.4 1017.5,321.5 1018.0,321.0 1018.5,321.5 1019.0,322.1 1019.5,321.3 1020.0,322.6 1020.5,321.3 1021.0,322.2 1021.5,320.1 1022.0,321.7 1022.5,322.1 1023.0,322.8 1023.5,321.8 1024.0,322.3 1024.5,322.5 1025.0,321.3 1025.5,322.6 1026.0,322.4 1026.5,321.5 1027.0,320.9 1027.5,323.2 1028.0,323.0 1028.5,322.2 1029.0,323.0 1029.5,323.3 1030.0,321.8 1030.5,322.5 1031.0,322.4 1031.5,322.3 1032.0,321.7 1032.5,321.4 1033.0,322.5 1033.5,322.0 1034.0,323.3 1034.5,322.2 1035.0,321.8 1035.5,320.5 1036.0,321.6 1036.5,321.9 1037.0,321.5 1037.5,321.0 1038.0,318.9 1038.5,320.7 1039.0,321.7 1039.5,323.1 1040.0,320.4 1040.5,322.0 1041.0,320.3 1041.5,322.4 1042.0,321.2 1042.5,321.4 1043.0,321.8 1043.5,320.8 1044.0,320.7 1044.5,322.3 1045.0,320.0 1045.5,320.4 1046.0,322.0 1046.5,322.0 1047.0,320.5 1047.5,320.5 1048.0,321.3 1048.5,323.0 1049.0,322.6 1049.5,320.9 1050.0,320.6 1050.5,321.0 1051.0,319.4 1051.5,321.3 1052.0,320.7 1052.5,322.0 1053.0,320.2 1053.5,321.3 1054.0,320.4 1054.5,320.4 1055.0,322.6 1055.5,320.1 1056.0,320.8 1056.5,321.2 1057.0,322.6 1057.5,321.1 1058.0,320.4 1058.5,321.0 1059.0,322.4 1059.5,321.3 1060.0,321.3 1060.5,322.8 1061.0,319.8 1061.5,321.8 1062.0,319.8 1062.5,321.8 1063.0,321.1 1063.5,321.2 1064.0,320.8 1064.5,320.8 1065.0,317.7 1065.5,319.3 1066.0,322.5 1066.5,320.5 1067.0,320.3 1067.5,321.0 1068.0,321.3 1068.5,320.5 1069.0,321.3 1069.5,320.9 1070.0,319.7 1070.5,320.4 1071.0,321.2 1071.5,319.4 1072.0,320.2 1072.5,319.5 1073.0,319.9 1073.5,318.7 1074.0,320.2 1074.5,319.5 1075.0,321.1 1075.5,319.7 1076.0,321.9 1076.5,321.0 1077.0,319.2 1077.5,321.8 1078.0,320.0 1078.5,320.2 1079.0,318.6 1079.5,319.7 1080.0,319.1 1080.5,318.5 1081.0,318.6 1081.5,320.9 1082.0,319.1 1082.5,319.5 1083.0,318.8 1083.5,319.1 1084.0,318.9 1084.5,319.3 1085.0,319.4 1085.5,320.1 1086.0,319.2 1086.5,319.1 1087.0,318.4 1087.5,319.7 1088.0,319.5 1088.5,318.8 1089.0,317.4 1089.5,318.9 1090.0,317.0 1090.5,320.3 1091.0,318.9 1091.5,320.0 1092.0,318.6 1092.5,319.5 1093.0,320.3 1093.5,319.4 1094.0,317.7 1094.5,317.1 1095.0,318.0 1095.5,318.6 1096.0,317.3 1096.5,316.6 1097.0,317.7 1097.5,318.1 1098.0,316.5 1098.5,318.0 1099.0,318.8 1099.5,317.0 1100.0,318.1 1100.5,317.9 1101.0,318.2 1101.5,318.1 1102.0,316.9 1102.5,318.3 1103.0,319.7 1103.5,318.0 1104.0,316.3 1104.5,317.3 1105.0,319.3 1105.5,317.3 1106.0,317.6 1106.5,316.2 1107.0,315.9 1107.5,317.3 1108.0,317.6 1108.5,316.6 1109.0,317.6 1109.5,316.8 1110.0,315.2 1110.5,316.8 1111.0,317.6 1111.5,319.2 1112.0,315.6 1112.5,317.3 1113.0,317.3 1113.5,317.3 1114.0,317.0 1114.5,318.3 1115.0,317.9 1115.5,316.1 1116.0,316.0 1116.5,316.7 1117.0,315.3 1117.5,316.8 1118.0,317.4 1118.5,316.1 1119.0,316.3 1119.5,315.9 1120.0,316.7 1120.5,317.0 1121.0,315.6 1121.5,317.4 1122.0,315.6 1122.5,316.6 1123.0,316.8 1123.5,315.5 1124.0,316.2 1124.5,315.4 1125.0,317.4 1125.5,316.3 1126.0,315.0 1126.5,317.2 1127.0,316.1 1127.5,318.3 1128.0,316.4 1128.5,317.1 1129.0,315.4 1129.5,316.3 1130.0,316.4 1130.5,317.4 1131.0,317.8 1131.5,316.7 1132.0,316.5 1132.5,315.8 1133.0,316.0 1133.5,316.6 1134.0,317.7 1134.5,318.5 1135.0,316.6 1135.5,316.2 1136.0,316.0 1136.5,317.7 1137.0,318.3 1137.5,317.6 1138.0,318.6 1138.5,317.2 1139.0,316.8 1139.5,317.4 1140.0,316.1 1140.5,317.1 1141.0,316.8 1141.5,315.7 1142.0,317.5 1142.5,318.1 1143.0,318.8 1143.5,317.5 1144.0,318.8 1144.5,317.0 1145.0,318.9 1145.5,317.2 1146.0,317.8 1146.5,316.8 1147.0,319.6 1147.5,317.8 1148.0,319.2 1148.5,318.2 1149.0,318.6 1149.5,319.1 1150.0,317.4 1150.5,318.9 1151.0,318.3 1151.5,317.7 1152.0,319.7 1152.5,318.6 1153.0,320.1 1153.5,319.0 1154.0,318.6 1154.5,318.5 1155.0,319.1 1155.5,318.6 1156.0,320.1 1156.5,318.8 1157.0,320.6 1157.5,319.1 1158.0,319.4 1158.5,319.0 1159.0,321.7 1159.5,317.8 1160.0,320.5 1160.5,320.8 1161.0,320.9 1161.5,321.6 1162.0,321.4 1162.5,318.5 1163.0,320.2 1163.5,319.2 1164.0,320.0 1164.5,320.0 1165.0,321.3 1165.5,321.1 1166.0,320.4 1166.5,319.7 1167.0,320.8 1167.5,320.6 1168.0,320.2 1168.5,321.5 1169.0,321.9 1169.5,319.9 1170.0,322.0 1170.5,319.8 1171.0,320.4 1171.5,319.4 1172.0,321.2 1172.5,322.6 1173.0,319.8 1173.5,320.4 1174.0,320.1 1174.5,321.2 1175.0,322.2 1175.5,319.8 1176.0,321.9 1176.5,323.1 1177.0,321.0 1177.5,321.3 1178.0,321.9 1178.5,319.5 1179.0,320.5 1179.5,321.9 1180.0,321.4 1180.5,322.2 1181.0,320.6 1181.5,321.4 1182.0,320.8 1182.5,320.5 1183.0,322.3 1183.5,323.3 1184.0,320.8 1184.5,322.1 1185.0,322.3 1185.5,323.0 1186.0,321.1 1186.5,320.3 1187.0,322.3 1187.5,321.1 1188.0,320.6 1188.5,321.6 1189.0,321.9 1189.5,322.1 1190.0,321.7 1190.5,319.9 1191.0,319.9 1191.5,322.4 1192.0,323.3 1192.5,322.5 1193.0,321.0 1193.5,323.0 1194.0,321.1 1194.5,323.4 1195.0,322.4 1195.5,323.0 1196.0,321.3 1196.5,322.8 1197.0,320.2 1197.5,323.4 1198.0,321.0 1198.5,322.2 1199.0,323.1 1199.5,323.2 1200.0,322.4 1200.5,320.8 1201.0,323.6 1201.5,322.0 1202.0,321.0 1202.5,323.8 1203.0,325.0 1203.5,322.0 1204.0,323.5 1204.5,323.4 1205.0,322.8 1205.5,323.1 1206.0,322.8 1206.5,320.5 1207.0,321.7 1207.5,322.0 1208.0,321.6 1208.5,322.6 1209.0,322.4 1209.5,323.2 1210.0,324.7 1210.5,321.8 1211.0,323.3 1211.5,324.3 1212.0,322.5 1212.5,321.0 1213.0,322.5 1213.5,323.8 1214.0,323.2 1214.5,321.2 1215.0,322.9 1215.5,322.5 1216.0,322.2 1216.5,323.5 1217.0,320.2 1217.5,324.1 1218.0,324.5 1218.5,322.3 1219.0,321.8 1219.5,321.3 1220.0,323.1 1220.5,322.2 1221.0,320.7 1221.5,320.7 1222.0,323.3 1222.5,323.7 1223.0,321.5 1223.5,324.2 1224.0,322.3 1224.5,322.9 1225.0,321.8 1225.5,323.8 1226.0,322.6 1226.5,322.8 1227.0,323.2 1227.5,322.1 1228.0,324.2 1228.5,323.2 1229.0,322.2 1229.5,321.7 1230.0,323.1 1230.5,323.0 1231.0,322.7 1231.5,321.8 1232.0,324.2 1232.5,323.0 1233.0,323.9 1233.5,323.5 1234.0,322.8 1234.5,322.3 1235.0,321.7 1235.5,323.9 1236.0,322.8 1236.5,324.4 1237.0,324.5 1237.5,323.6 1238.0,323.2 1238.5,324.1 1239.0,324.8 1239.5,323.0 1240.0,323.8 1240.5,324.7 1241.0,322.2 1241.5,323.8 1242.0,323.0 1242.5,323.7 1243.0,324.1 1243.5,323.1 1244.0,323.7 1244.5,324.9 1245.0,324.0 1245.5,323.8 1246.0,323.4 1246.5,323.4 1247.0,324.4 1247.5,323.1 1248.0,322.9 1248.5,322.8 1249.0,323.0 1249.5,323.5 1250.0,323.3 1250.5,323.2 1251.0,325.6 1251.5,322.4 1252.0,323.6 1252.5,324.1 1253.0,323.4 1253.5,323.5 1254.0,322.1 1254.5,323.5 1255.0,324.2 1255.5,322.6 1256.0,323.9 1256.5,324.3 1257.0,323.5 1257.5,323.6 1258.0,322.0 1258.5,324.6 1259.0,325.8 1259.5,324.7 1260.0,325.2 1260.5,320.8 1261.0,322.7 1261.5,323.0 1262.0,323.5 1262.5,322.9 1263.0,321.6 1263.5,323.2 1264.0,321.9 1264.5,323.1 1265.0,324.4 1265.5,325.3 1266.0,324.0 1266.5,324.3 1267.0,321.7 1267.5,322.3 1268.0,324.1 1268.5,324.1 1269.0,323.7 1269.5,322.8 1270.0,323.1 1270.5,324.0 1271.0,325.3 1271.5,323.5 1272.0,321.3 1272.5,325.8 1273.0,324.3 1273.5,323.0 1274.0,325.0 1274.5,324.3 1275.0,323.1 1275.5,323.0 1276.0,324.4 1276.5,323.7 1277.0,325.0 1277.5,323.0 1278.0,322.9 1278.5,322.3 1279.0,323.4 1279.5,325.7 1280.0,321.4 1280.5,324.1 1281.0,322.5 1281.5,322.7 1282.0,325.6 1282.5,321.7 1283.0,323.2 1283.5,321.4 1284.0,323.0 1284.5,324.1 1285.0,323.6 1285.5,324.7 1286.0,324.4 1286.5,323.2 1287.0,323.7 1287.5,324.1 1288.0,323.3 1288.5,321.4 1289.0,323.2 1289.5,324.0 1290.0,323.9 1290.5,321.8 1291.0,322.8 1291.5,324.3 1292.0,322.8 1292.5,324.6 1293.0,322.5 1293.5,321.8 1294.0,322.4 1294.5,325.9 1295.0,322.9 1295.5,323.0 1296.0,324.1 1296.5,323.1 1297.0,321.6 1297.5,323.1 1298.0,324.7 1298.5,322.0 1299.0,322.3 1299.5,323.4 1300.0,323.8 1300.5,323.0 1301.0,325.4 1301.5,323.3 1302.0,322.3 1302.5,323.8 1303.0,323.8 1303.5,323.6 1304.0,323.4 1304.5,325.7 1305.0,325.1 1305.5,324.1 1306.0,323.4 1306.5,324.4 1307.0,324.4 1307.5,323.9 1308.0,322.7 1308.5,324.7 1309.0,324.2 1309.5,322.4 1310.0,324.3 1310.5,324.6 1311.0,324.3 1311.5,323.3 1312.0,323.4 1312.5,323.0 1313.0,323.2 1313.5,324.8 1314.0,324.2 1314.5,322.5 1315.0,324.1 1315.5,324.8 1316.0,325.1 1316.5,324.1 1317.0,322.7 1317.5,323.3 1318.0,322.9 1318.5,322.9 1319.0,322.2 1319.5,323.6 1320.0,323.7 1320.5,322.9 1321.0,325.4 1321.5,323.1 1322.0,324.4 1322.5,325.5 1323.0,323.3 1323.5,325.4 1324.0,324.0 1324.5,325.4 1325.0,324.3 1325.5,322.5 1326.0,322.8 1326.5,322.0 1327.0,322.9 1327.5,322.8 1328.0,323.7 1328.5,321.3 1329.0,321.5 1329.5,323.0 1330.0,322.7 1330.5,324.3 1331.0,323.0 1331.5,322.6 1332.0,323.8 1332.5,321.7 1333.0,323.7 1333.5,324.3 1334.0,324.3 1334.5,322.6 1335.0,325.1 1335.5,323.8 1336.0,323.8 1336.5,324.4 1337.0,324.7 1337.5,322.4 1338.0,323.3 1338.5,323.1 1339.0,323.3 1339.5,323.8 1340.0,324.0 1340.5,323.2 1341.0,324.1 1341.5,324.6 1342.0,323.6 1342.5,321.7 1343.0,321.2 1343.5,322.8 1344.0,323.0 1344.5,323.1 1345.0,323.3 1345.5,323.1 1346.0,324.5 1346.5,323.1 1347.0,322.7 1347.5,322.6 1348.0,323.8 1348.5,322.4 1349.0,322.8 1349.5,323.0 1350.0,322.2 1350.5,321.4 1351.0,321.8 1351.5,321.9 1352.0,322.0 1352.5,322.6 1353.0,323.4 1353.5,322.5 1354.0,321.7 1354.5,324.2 1355.0,322.9 1355.5,320.9 1356.0,322.8 1356.5,321.5 1357.0,322.5 1357.5,322.5 1358.0,323.3 1358.5,321.2 1359.0,323.1 1359.5,323.9 1360.0,321.5 1360.5,323.6 1361.0,323.4 1361.5,323.2 1362.0,324.4 1362.5,322.1 1363.0,322.4 1363.5,323.2 1364.0,323.4 1364.5,322.9 1365.0,323.2 1365.5,322.6 1366.0,323.2 1366.5,322.3 1367.0,323.1 1367.5,322.1 1368.0,322.3 1368.5,321.2 1369.0,322.1 1369.5,322.7 1370.0,322.0 1370.5,322.8 1371.0,323.8 1371.5,322.5 1372.0,321.9 1372.5,322.3 1373.0,320.8 1373.5,323.5 1374.0,324.1 1374.5,321.5 1375.0,325.5 1375.5,321.7 1376.0,323.5 1376.5,322.7 1377.0,324.2 1377.5,323.6 1378.0,323.7 1378.5,324.0 1379.0,322.8 1379.5,323.2 1380.0,321.6 1380.5,324.4 1381.0,322.5 1381.5,323.2 1382.0,322.7 1382.5,321.8 1383.0,321.5 1383.5,322.0 1384.0,322.2 1384.5,321.4 1385.0,322.5 1385.5,323.0 1386.0,322.8 1386.5,321.8 1387.0,322.4 1387.5,323.7 1388.0,323.3 1388.5,322.1 1389.0,322.0 1389.5,323.2 1390.0,320.2 1390.5,322.9 1391.0,321.2 1391.5,321.7 1392.0,322.0 1392.5,323.1 1393.0,320.6 1393.5,322.8 1394.0,323.8 1394.5,321.2 1395.0,322.7 1395.5,324.5 1396.0,322.0 1396.5,323.1 1397.0,321.8 1397.5,322.3 1398.0,319.8 1398.5,321.9 1399.0,324.1 1399.5,323.9 1400.0,321.5 1400.5,322.6 1401.0,321.7 1401.5,322.0 1402.0,321.3 1402.5,323.6 1403.0,321.6 1403.5,323.6 1404.0,321.7 1404.5,323.7 1405.0,321.8 1405.5,320.8 1406.0,321.3 1406.5,322.2 1407.0,323.0 1407.5,322.7 1408.0,320.9 1408.5,323.6 1409.0,322.3 1409.5,322.2 1410.0,321.3 1410.5,323.0 1411.0,321.8 1411.5,320.5 1412.0,321.9 1412.5,322.3 1413.0,321.6 1413.5,321.5 1414.0,322.2 1414.5,320.5 1415.0,322.7 1415.5,321.2 1416.0,320.5 1416.5,322.2 1417.0,323.3 1417.5,323.0 1418.0,320.5 1418.5,320.9 1419.0,322.5 1419.5,322.1 1420.0,322.3 1420.5,322.5 1421.0,320.0 1421.5,323.3 1422.0,320.5 1422.5,322.0 1423.0,320.8 1423.5,322.2 1424.0,323.0 1424.5,322.3 1425.0,321.0 1425.5,321.7 1426.0,321.7 1426.5,321.4 1427.0,322.5 1427.5,320.8 1428.0,322.2 1428.5,320.6 1429.0,322.4 1429.5,322.4 1430.0,321.8 1430.5,322.8 1431.0,323.1 1431.5,321.6 1432.0,321.9 1432.5,320.3 1433.0,320.6 1433.5,322.7 1434.0,319.5 1434.5,323.1 1435.0,322.4 1435.5,320.9 1436.0,321.7 1436.5,320.8 1437.0,322.8 1437.5,320.8 1438.0,322.9 1438.5,321.4 1439.0,320.4 1439.5,322.4 1440.0,322.1" fill="none" stroke="#0000ff" stroke-width="10" stroke-linejoin="round" stroke-linecap="butt"/>
<path d="M142.0,481.0 142.5,481.4 143.0,480.7 143.5,481.3 144.0,480.9 144.5,480.9 145.0,481.6 145.5,481.0 146.0,481.0 146.5,481.2 147.0,481.3 147.5,481.0 148.0,481.2 148.5,480.7 149.0,480.9 149.5,480.9 150.0,480.6 150.5,480.5 151.0,480.5 151.5,480.9 152.0,480.9 152.5,480.9 153.0,481.0 153.5,480.6 154.0,481.0 154.5,481.1 155.0,481.2 155.5,480.7 156.0,480.9 156.5,480.4 157.0,480.8 157.5,480.3 158.0,480.6 158.5,481.3 159.0,480.3 159.5,481.2 160.0,481.1 160.5,480.9 161.0,481.1 161.5,481.1 162.0,481.3 162.5,480.9 163.0,480.8 163.5,480.8 164.0,480.7 164.5,481.0 165.0,480.7 165.5,481.3 166.0,480.4 166.5,480.6 167.0,480.7 167.5,480.3 168.0,481.5 168.5,480.2 169.0,480.9 169.5,480.8 170.0,481.5 170.5,480.4 171.0,481.3 171.5,480.7 172.0,480.9 172.5,480.8 173.0,481.1 173.5,480.6 174.0,480.9 174.5,481.1 175.0,481.5 175.5,480.2 176.0,481.4 176.5,481.2 177.0,480.8 177.5,481.0 178.0,480.8 178.5,481.4 179.0,481.0 179.5,480.9 180.0,480.9 180.5,480.9 181.0,480.9 181.5,480.7 182.0,481.6 182.5,480.4 183.0,479.9 183.5,480.9 184.0,480.9 184.5,481.1 185.0,480.9 185.5,480.9 186.0,481.0 186.5,481.2 187.0,480.8 187.5,480.8 188.0,481.5 188.5,481.1 189.0,480.6 189.5,481.6 190.0,481.2 190.5,480.8 191.0,480.6 191.5,481.0 192.0,480.7 192.5,480.6 193.0,480.5 193.5,480.8 194.0,481.3 194.5,480.8 195.0,480.5 195.5,481.1 196.0,480.9 196.5,481.2 197.0,481.3 197.5,480.9 198.0,480.9 198.5,480.9 199.0,480.6 199.5,481.1 200.0,481.3 200.5,481.0 201.0,480.8 201.5,480.8 202.0,480.7 202.5,480.7 203.0,480.8 203.5,480.7 204.0,480.8 204.5,480.4 205.0,481.0 205.5,480.9 206.0,480.6 206.5,480.2 207.0,480.9 207.5,481.2 208.0,480.7 208.5,480.8 209.0,480.7 209.5,481.1 210.0,480.6 210.5,481.2 211.0,480.8 211.5,481.2 212.0,480.9 212.5,480.8 213.0,480.5 213.5,480.7 214.0,480.8 214.5,481.1 215.0,481.0 215.5,480.7 216.0,481.0 216.5,481.2 217.0,480.8 217.5,480.8 218.0,480.8 218.5,481.1 219.0,481.0 219.5,480.6 220.0,481.0 220.5,480.7 221.0,480.7 221.5,481.2 222.0,481.1 222.5,480.7 223.0,480.9 223.5,481.0 224.0,480.7 224.5,480.8 225.0,481.1 225.5,480.3 226.0,481.0 226.5,481.1 227.0,481.0 227.5,480.5 228.0,481.0 228.5,480.6 229.0,481.0 229.5,481.0 230.0,480.9 230.5,480.6 231.0,480.7 231.5,481.1 232.0,480.6 232.5,481.0 233.0,481.0 233.5,480.8 234.0,481.6 234.5,480.9 235.0,481.5 235.5,480.2 236.0,480.2 236.5,481.1 237.0,481.0 237.5,480.7 238.0,480.8 238.5,480.3 239.0,480.6 239.5,480.5 240.0,480.8 240.5,481.1 241.0,480.8 241.5,480.9 242.0,480.6 242.5,480.7 243.0,480.9 243.5,480.7 244.0,481.2 244.5,480.6 245.0,481.4 245.5,480.5 246.0,481.1 246.5,480.6 247.0,481.3 247.5,480.8 248.0,480.9 248.5,481.0 249.0,480.6 249.5,480.5 250.0,480.2 250.5,481.2 251.0,480.6 251.5,480.6 252.0,480.8 252.5,481.4 253.0,480.3 253.5,480.9 254.0,480.7 254.5,480.9 255.0,480.2 255.5,480.7 256.0,481.0 256.5,481.2 257.0,481.3 257.5,480.5 258.0,480.8 258.5,480.7 259.0,480.4 259.5,480.3 260.0,481.0 260.5,480.8 261.0,480.7 261.5,481.1 262.0,480.5 262.5,480.9 263.0,480.8 263.5,480.7 264.0,480.9 264.5,480.8 265.0,480.8 265.5,480.8 266.0,481.3 266.5,480.7 267.0,481.0 267.5,480.9 268.0,480.6 268.5,481.0 269.0,480.5 269.5,481.1 270.0,480.5 270.5,480.6 271.0,480.8 271.5,481.0 272.0,481.0 272.5,481.0 273.0,480.7 273.5,480.4 274.0,480.9 274.5,480.8 275.0,480.4 275.5,481.0 276.0,480.8 276.5,480.4 277.0,480.8 277.5,480.3 278.0,480.4 278.5,480.8 279.0,480.2 279.5,480.7 280.0,480.3 280.5,480.9 281.0,480.5 281.5,480.8 282.0,480.2 282.5,480.6 283.0,481.0 283.5,480.8 284.0,480.1 284.5,481.0 285.0,480.9 285.5,480.6 286.0,481.1 286.5,480.4 287.0,480.6 287.5,481.0 288.0,481.1 288.5,481.0 289.0,480.3 289.5,480.1 290.0,480.8 290.5,480.2 291.0,480.6 291.5,480.3 292.0,481.0 292.5,480.9 293.0,480.8 293.5,480.6 294.0,480.7 294.5,480.5 295.0,480.7 295.5,480.7 296.0,480.8 296.5,480.5 297.0,481.2 297.5,480.7 298.0,481.0 298.5,481.0 299.0,480.3 299.5,480.1 300.0,481.0 300.5,480.5 301.0,480.6 301.5,480.5 302.0,480.6 302.5,480.2 303.0,480.6 303.5,480.4 304.0,480.6 304.5,479.9 305.0,480.8 305.5,480.7 306.0,480.0 306.5,480.3 307.0,480.6 307.5,480.7 308.0,480.5 308.5,481.0 309.0,480.5 309.5,480.2 310.0,480.3 310.5,480.7 311.0,480.3 311.5,480.8 312.0,480.8 312.5,480.7 313.0,480.8 313.5,480.4 314.0,480.5 314.5,480.3 315.0,480.3 315.5,480.0 316.0,480.3 316.5,480.1 317.0,480.0 317.5,480.5 318.0,480.6 318.5,480.3 319.0,480.8 319.5,480.7 320.0,480.7 320.5,480.2 321.0,480.0 321.5,480.6 322.0,480.5 322.5,480.6 323.0,480.5 323.5,480.8 324.0,480.3 324.5,480.6 325.0,480.1 325.5,479.7 326.0,480.2 326.5,480.8 327.0,479.8 327.5,480.6 328.0,480.1 328.5,480.2 329.0,480.3 329.5,480.4 330.0,480.0 330.5,480.3 331.0,480.4 331.5,480.5 332.0,480.0 332.5,480.7 333.0,480.8 333.5,481.0 334.0,479.8 334.5,480.3 335.0,479.7 335.5,480.3 336.0,480.4 336.5,479.9 337.0,479.7 337.5,480.2 338.0,480.4 338.5,479.9 339.0,480.1 339.5,479.4 340.0,479.9 340.5,480.2 341.0,480.2 341.5,480.6 342.0,479.8 342.5,479.4 343.0,480.2 343.5,479.9 344.0,480.1 344.5,480.3 345.0,480.2 345.5,480.5 346.0,480.4 346.5,479.5 347.0,480.0 347.5,480.6 348.0,479.8 348.5,480.2 349.0,479.9 349.5,479.8 350.0,480.4 350.5,480.2 351.0,479.8 351.5,480.2 352.0,479.5 352.5,479.6 353.0,480.1 353.5,479.8 354.0,479.5 354.5,479.9 355.0,479.9 355.5,480.2 356.0,480.1 356.5,479.7 357.0,479.6 357.5,479.7 358.0,479.6 358.5,480.1 359.0,480.2 359.5,480.1 360.0,479.8 360.5,479.6 361.0,479.9 361.5,479.5 362.0,479.7 362.5,479.1 363.0,479.4 363.5,480.0 364.0,479.2 364.5,479.1 365.0,479.4 365.5,480.0 366.0,479.9 366.5,479.3 367.0,479.3 367.5,479.4 368.0,479.1 368.5,479.4 369.0,479.3 369.5,478.9 370.0,479.1 370.5,479.2 371.0,479.0 371.5,478.9 372.0,479.5 372.5,479.8 373.0,479.1 373.5,479.0 374.0,479.3 374.5,479.0 375.0,478.9 375.5,479.5 376.0,478.7 376.5,478.8 377.0,478.8 377.5,478.7 378.0,478.9 378.5,479.1 379.0,479.3 379.5,479.1 380.0,478.8 380.5,478.4 381.0,478.8 381.5,478.5 382.0,478.7 382.5,479.0 383.0,478.7 383.5,478.6 384.0,478.4 384.5,478.6 385.0,478.6 385.5,478.2 386.0,478.3 386.5,478.7 387.0,477.9 387.5,478.2 388.0,478.0 388.5,478.7 389.0,478.4 389.5,478.4 390.0,478.3 390.5,478.2 391.0,478.2 391.5,477.6 392.0,478.1 392.5,478.1 393.0,477.5 393.5,478.1 394.0,478.0 394.5,477.3 395.0,477.6 395.5,477.6 396.0,477.4 396.5,477.6 397.0,477.1 397.5,477.3 398.0,477.4 398.5,477.4 399.0,477.2 399.5,477.0 400.0,477.2 400.5,476.4 401.0,477.1 401.5,476.6 402.0,476.3 402.5,476.4 403.0,475.9 403.5,475.8 404.0,476.1 404.5,475.9 405.0,476.2 405.5,475.6 406.0,475.4 406.5,475.4 407.0,476.0 407.5,475.4 408.0,475.1 408.5,474.9 409.0,474.8 409.5,474.9 410.0,474.9 410.5,475.0 411.0,474.8 411.5,474.5 412.0,474.1 412.5,473.9 413.0,473.4 413.5,473.6 414.0,473.8 414.5,473.4 415.0,473.4 415.5,472.8 416.0,473.2 416.5,472.9 417.0,472.6 417.5,472.5 418.0,471.6 418.5,471.8 419.0,471.5 419.5,471.9 420.0,471.2 420.5,470.8 421.0,470.9 421.5,470.2 422.0,470.6 422.5,469.9 423.0,469.7 423.5,469.2 424.0,469.1 424.5,468.2 425.0,468.1 425.5,467.3 426.0,466.7 426.5,465.8 427.0,465.3 427.5,464.4 428.0,463.6 428.5,462.5 429.0,461.5 429.5,460.4 430.0,459.0 430.5,457.6 431.0,456.1 431.5,454.7 432.0,452.9 432.5,451.1 433.0,449.0 433.5,446.7 434.0,444.3 434.5,441.7 435.0,438.7 435.5,435.5 436.0,432.0 436.5,428.3 437.0,424.1 437.5,419.7 438.0,414.8 438.5,409.5 439.0,403.9 439.5,397.7 440.0,391.2 440.5,384.4 441.0,377.2 441.5,369.9 442.0,362.7 442.5,355.8 443.0,349.6 443.5,344.5 444.0,341.0 444.5,339.2 445.0,339.4 445.5,341.7 446.0,345.7 446.5,351.4 447.0,358.2 447.5,365.7 448.0,373.5 448.5,381.5 449.0,389.2 449.5,396.5 450.0,403.4 450.5,409.8 451.0,415.6 451.5,420.9 452.0,425.8 452.5,430.1 453.0,434.1 453.5,437.7 454.0,440.9 454.5,443.8 455.0,446.5 455.5,448.8 456.0,451.1 456.5,453.0 457.0,454.8 457.5,456.5 458.0,458.0 458.5,459.2 459.0,460.6 459.5,461.8 460.0,462.7 460.5,463.6 461.0,464.7 461.5,465.6 462.0,466.4 462.5,467.1 463.0,467.8 463.5,468.4 464.0,469.2 464.5,469.6 465.0,470.1 465.5,470.4 466.0,471.0 466.5,471.0 467.0,471.5 467.5,471.0 468.0,471.8 468.5,471.8 469.0,471.9 469.5,472.5 470.0,472.6 470.5,472.7 471.0,472.9 471.5,473.7 472.0,473.7 472.5,474.0 473.0,473.9 473.5,474.6 474.0,474.7 474.5,474.8 475.0,475.1 475.5,474.9 476.0,475.7 476.5,475.5 477.0,476.2 477.5,476.1 478.0,476.2 478.5,476.6 479.0,476.8 479.5,476.6 480.0,477.0 480.5,477.3 481.0,477.2 481.5,477.0 482.0,477.4 482.5,477.3 483.0,477.5 483.5,477.8 484.0,477.8 484.5,477.9 485.0,477.5 485.5,478.2 486.0,478.1 486.5,478.1 487.0,478.3 487.5,478.9 488.0,478.0 488.5,478.0 489.0,478.7 489.5,478.3 490.0,479.0 490.5,478.4 491.0,478.6 491.5,479.0 492.0,479.0 492.5,478.9 493.0,479.0 493.5,478.9 494.0,478.8 494.5,478.9 495.0,479.4 495.5,479.2 496.0,479.1 496.5,479.2 497.0,479.4 497.5,479.5 498.0,479.2 498.5,479.2 499.0,479.3 499.5,480.0 500.0,479.4 500.5,479.7 501.0,478.9 501.5,479.6 502.0,479.0 502.5,479.1 503.0,479.3 503.5,479.4 504.0,479.5 504.5,479.6 505.0,479.6 505.5,479.4 506.0,480.3 506.5,479.7 507.0,479.8 507.5,480.2 508.0,479.9 508.5,479.8 509.0,479.8 509.5,480.2 510.0,479.4 510.5,479.4 511.0,479.8 511.5,479.1 512.0,479.5 512.5,480.1 513.0,479.6 513.5,479.8 514.0,480.0 514.5,479.5 515.0,479.9 515.5,479.6 516.0,479.5 516.5,479.8 517.0,479.8 517.5,479.7 518.0,479.7 518.5,480.1 519.0,480.2 519.5,480.0 520.0,479.9 520.5,479.6 521.0,479.6 521.5,479.6 522.0,480.0 522.5,480.2 523.0,480.2 523.5,479.9 524.0,479.8 524.5,480.0 525.0,480.0 525.5,480.1 526.0,480.4 526.5,479.7 527.0,480.6 527.5,479.3 528.0,479.4 528.5,479.5 529.0,479.6 529.5,479.9 530.0,480.6 530.5,479.7 531.0,480.3 531.5,479.8 532.0,480.0 532.5,479.6 533.0,480.6 533.5,479.9 534.0,479.8 534.5,480.6 535.0,480.0 535.5,480.1 536.0,479.9 536.5,479.7 537.0,479.5 537.5,479.9 538.0,480.4 538.5,480.0 539.0,479.9 539.5,480.2 540.0,479.6 540.5,480.3 541.0,479.9 541.5,479.6 542.0,480.1 542.5,480.0 543.0,479.8 543.5,479.9 544.0,480.1 544.5,480.3 545.0,479.6 545.5,479.1 546.0,480.4 546.5,479.7 547.0,479.7 547.5,479.9 548.0,479.7 548.5,480.1 549.0,479.4 549.5,479.7 550.0,479.4 550.5,480.2 551.0,479.6 551.5,480.0 552.0,480.1 552.5,479.3 553.0,479.6 553.5,479.9 554.0,479.7 554.5,479.6 555.0,479.9 555.5,479.9 556.0,479.4 556.5,479.5 557.0,479.8 557.5,479.6 558.0,479.6 558.5,479.2 559.0,480.0 559.5,479.4 560.0,479.6 560.5,479.5 561.0,479.5 561.5,479.5 562.0,479.2 562.5,479.5 563.0,479.8 563.5,479.5 564.0,479.6 564.5,479.5 565.0,479.4 565.5,479.9 566.0,479.1 566.5,479.4 567.0,479.6 567.5,479.4 568.0,479.0 568.5,478.9 569.0,479.7 569.5,478.9 570.0,479.2 570.5,479.3 571.0,479.2 571.5,478.6 572.0,478.6 572.5,479.1 573.0,478.9 573.5,479.0 574.0,479.1 574.5,479.1 575.0,478.6 575.5,478.5 576.0,479.3 576.5,478.8 577.0,478.6 577.5,478.4 578.0,479.1 578.5,478.5 579.0,478.6 579.5,479.0 580.0,478.9 580.5,479.0 581.0,478.4 581.5,478.0 582.0,478.5 582.5,478.7 583.0,478.5 583.5,479.0 584.0,478.8 584.5,478.4 585.0,478.8 585.5,478.6 586.0,478.5 586.5,479.0 587.0,478.1 587.5,478.9 588.0,478.9 588.5,478.0 589.0,478.5 589.5,478.5 590.0,478.2 590.5,478.3 591.0,478.3 591.5,478.5 592.0,478.3 592.5,477.8 593.0,478.8 593.5,478.7 594.0,478.2 594.5,478.7 595.0,479.0 595.5,477.9 596.0,478.3 596.5,478.2 597.0,478.5 597.5,478.3 598.0,478.0 598.5,478.7 599.0,478.3 599.5,478.6 600.0,479.0 600.5,478.1 601.0,478.2 601.5,478.6 602.0,478.3 602.5,478.5 603.0,478.4 603.5,479.2 604.0,478.6 604.5,478.5 605.0,478.4 605.5,478.5 606.0,477.9 606.5,478.3 607.0,478.6 607.5,478.1 608.0,478.4 608.5,478.4 609.0,478.3 609.5,479.2 610.0,478.7 610.5,478.6 611.0,478.3 611.5,478.6 612.0,478.5 612.5,478.6 613.0,478.7 613.5,479.4 614.0,479.0 614.5,479.2 615.0,479.1 615.5,479.5 616.0,478.6 616.5,478.4 617.0,478.9 617.5,478.9 618.0,478.9 618.5,478.7 619.0,479.1 619.5,479.4 620.0,479.0 620.5,478.9 621.0,479.4 621.5,479.0 622.0,479.0 622.5,479.2 623.0,478.5 623.5,479.7 624.0,479.2 624.5,479.4 625.0,479.4 625.5,479.4 626.0,479.0 626.5,479.9 627.0,479.6 627.5,479.5 628.0,480.4 628.5,479.1 629.0,479.8 629.5,479.5 630.0,479.2 630.5,480.2 631.0,479.2 631.5,479.7 632.0,479.7 632.5,479.8 633.0,479.5 633.5,480.2 634.0,479.9 634.5,479.5 635.0,479.6 635.5,480.0 636.0,479.6 636.5,480.1 637.0,480.1 637.5,479.9 638.0,479.5 638.5,479.7 639.0,480.3 639.5,480.0 640.0,480.7 640.5,480.1 641.0,480.4 641.5,480.5 642.0,480.3 642.5,480.4 643.0,480.7 643.5,480.3 644.0,480.5 644.5,480.3 645.0,481.0 645.5,480.5 646.0,480.7 646.5,479.7 647.0,480.4 647.5,480.2 648.0,480.6 648.5,480.5 649.0,480.3 649.5,480.6 650.0,480.9 650.5,481.0 651.0,480.6 651.5,481.1 652.0,480.6 652.5,481.0 653.0,480.5 653.5,481.1 654.0,481.5 654.5,480.8 655.0,481.2 655.5,480.5 656.0,480.7 656.5,481.7 657.0,480.9 657.5,481.1 658.0,480.5 658.5,481.0 659.0,480.7 659.5,481.3 660.0,480.8 660.5,481.8 661.0,480.7 661.5,481.1 662.0,480.4 662.5,480.9 663.0,481.4 663.5,481.0 664.0,480.7 664.5,481.2 665.0,481.4 665.5,481.2 666.0,481.4 666.5,480.7 667.0,481.7 667.5,481.3 668.0,480.5 668.5,481.7 669.0,481.0 669.5,481.3 670.0,480.6 670.5,481.0 671.0,480.6 671.5,481.4 672.0,481.1 672.5,480.9 673.0,481.1 673.5,481.5 674.0,481.0 674.5,481.4 675.0,480.9 675.5,480.7 676.0,481.1 676.5,481.1 677.0,481.3 677.5,481.5 678.0,481.1 678.5,481.1 679.0,481.5 679.5,481.4 680.0,481.2 680.5,481.3 681.0,480.6 681.5,481.1 682.0,480.8 682.5,481.2 683.0,481.5 683.5,480.8 684.0,481.5 684.5,481.1 685.0,481.2 685.5,481.1 686.0,481.5 686.5,481.1 687.0,480.7 687.5,481.4 688.0,481.2 688.5,481.5 689.0,481.5 689.5,480.9 690.0,481.3 690.5,481.3 691.0,481.3 691.5,481.3 692.0,481.4 692.5,481.1 693.0,481.2 693.5,481.6 694.0,481.0 694.5,481.3 695.0,481.0 695.5,481.0 696.0,481.2 696.5,481.3 697.0,481.8 697.5,481.2 698.0,481.6 698.5,481.5 699.0,481.3 699.5,480.4 700.0,481.3 700.5,481.3 701.0,481.0 701.5,481.3 702.0,481.7 702.5,481.0 703.0,481.1 703.5,481.6 704.0,480.8 704.5,481.0 705.0,481.4 705.5,481.6 706.0,481.7 706.5,481.5 707.0,482.0 707.5,481.4 708.0,480.9 708.5,481.2 709.0,481.5 709.5,481.4 710.0,480.7 710.5,481.4 711.0,481.1 711.5,481.2 712.0,481.7 712.5,481.3 713.0,481.1 713.5,481.3 714.0,481.1 714.5,481.9 715.0,481.6 715.5,481.6 716.0,481.1 716.5,481.1 717.0,481.4 717.5,480.7 718.0,481.6 718.5,480.9 719.0,481.3 719.5,481.4 720.0,481.1 720.5,481.4 721.0,481.5 721.5,481.9 722.0,481.4 722.5,481.9 723.0,481.4 723.5,481.2 724.0,481.6 724.5,481.2 725.0,481.4 725.5,481.5 726.0,481.7 726.5,481.4 727.0,480.9 727.5,481.7 728.0,481.4 728.5,481.2 729.0,481.1 729.5,481.5 730.0,481.4 730.5,481.5 731.0,481.3 731.5,481.8 732.0,481.2 732.5,481.4 733.0,481.4 733.5,481.6 734.0,481.1 734.5,481.2 735.0,481.2 735.5,481.1 736.0,481.1 736.5,480.9 737.0,481.5 737.5,481.8 738.0,481.0 738.5,481.5 739.0,481.0 739.5,481.1 740.0,481.2 740.5,481.3 741.0,481.4 741.5,480.7 742.0,480.9 742.5,481.3 743.0,481.2 743.5,481.9 744.0,481.2 744.5,481.1 745.0,481.7 745.5,480.5 746.0,480.7 746.5,482.1 747.0,481.1 747.5,481.3 748.0,481.2 748.5,481.0 749.0,481.3 749.5,480.9 750.0,481.6 750.5,481.5 751.0,481.5 751.5,481.0 752.0,480.7 752.5,481.2 753.0,481.0 753.5,481.4 754.0,480.8 754.5,481.0 755.0,481.3 755.5,481.4 756.0,481.3 756.5,480.9 757.0,481.1 757.5,481.9 758.0,481.6 758.5,481.1 759.0,481.9 759.5,481.3 760.0,481.3 760.5,481.1 761.0,481.8 761.5,481.3 762.0,481.3 762.5,481.0 763.0,480.9 763.5,481.4 764.0,481.3 764.5,481.8 765.0,481.0 765.5,481.2 766.0,481.6 766.5,481.5 767.0,481.1 767.5,481.7 768.0,481.4 768.5,481.6 769.0,481.4 769.5,481.6 770.0,481.2 770.5,481.2 771.0,481.6 771.5,481.4 772.0,481.4 772.5,481.6 773.0,481.4 773.5,481.4 774.0,480.6 774.5,481.1 775.0,481.5 775.5,481.0 776.0,481.2 776.5,481.4 777.0,481.2 777.5,481.5 778.0,481.4 778.5,481.2 779.0,481.6 779.5,481.2 780.0,481.1 780.5,481.4 781.0,481.5 781.5,481.2 782.0,481.0 782.5,481.1 783.0,481.4 783.5,481.5 784.0,481.8 784.5,481.2 785.0,481.2 785.5,480.6 786.0,481.7 786.5,481.6 787.0,481.3 787.5,481.1 788.0,480.5 788.5,481.5 789.0,481.1 789.5,481.7 790.0,481.5 790.5,481.7 791.0,481.2 791.5,481.6 792.0,480.9 792.5,481.7 793.0,481.3 793.5,480.9 794.0,481.2 794.5,481.0 795.0,481.4 795.5,481.1 796.0,480.9 796.5,481.2 797.0,481.2 797.5,481.3 798.0,481.5 798.5,481.7 799.0,481.4 799.5,481.8 800.0,480.5 800.5,481.3 801.0,481.6 801.5,480.9 802.0,481.2 802.5,481.3 803.0,480.8 803.5,481.1 804.0,481.5 804.5,481.2 805.0,481.7 805.5,482.0 806.0,481.3 806.5,480.9 807.0,481.3 807.5,481.1 808.0,480.8 808.5,481.2 809.0,481.1 809.5,481.2 810.0,481.5 810.5,481.6 811.0,481.4 811.5,481.2 812.0,481.4 812.5,481.3 813.0,481.3 813.5,481.0 814.0,480.3 814.5,481.5 815.0,481.1 815.5,481.1 816.0,481.3 816.5,481.2 817.0,481.2 817.5,481.7 818.0,481.3 818.5,481.3 819.0,481.0 819.5,481.2 820.0,481.4 820.5,481.2 821.0,481.4 821.5,481.0 822.0,481.4 822.5,481.0 823.0,481.1 823.5,481.0 824.0,481.3 824.5,481.6 825.0,481.3 825.5,481.0 826.0,481.3 826.5,481.6 827.0,481.5 827.5,481.4 828.0,480.9 828.5,481.1 829.0,481.1 829.5,481.1 830.0,481.3 830.5,481.3 831.0,481.2 831.5,481.4 832.0,481.0 832.5,481.2 833.0,481.3 833.5,480.8 834.0,481.0 834.5,480.8 835.0,480.9 835.5,481.2 836.0,481.2 836.5,481.4 837.0,481.3 837.5,480.9 838.0,481.8 838.5,481.7 839.0,480.9 839.5,481.0 840.0,481.1 840.5,481.3 841.0,481.4 841.5,481.2 842.0,480.5 842.5,482.1 843.0,481.5 843.5,481.5 844.0,481.0 844.5,481.3 845.0,481.5 845.5,481.1 846.0,481.6 846.5,481.3 847.0,481.7 847.5,481.3 848.0,481.7 848.5,480.8 849.0,481.7 849.5,481.4 850.0,481.1 850.5,481.6 851.0,481.2 851.5,481.5 852.0,481.5 852.5,481.6 853.0,481.9 853.5,481.6 854.0,482.0 854.5,481.4 855.0,481.3 855.5,481.4 856.0,481.2 856.5,480.9 857.0,481.3 857.5,480.9 858.0,481.1 858.5,481.1 859.0,481.1 859.5,480.9 860.0,481.3 860.5,481.2 861.0,481.6 861.5,481.4 862.0,481.5 862.5,481.1 863.0,481.1 863.5,480.9 864.0,481.0 864.5,481.4 865.0,481.2 865.5,481.2 866.0,481.1 866.5,481.7 867.0,481.2 867.5,481.6 868.0,481.2 868.5,481.5 869.0,480.9 869.5,480.8 870.0,481.6 870.5,481.1 871.0,481.3 871.5,481.5 872.0,481.4 872.5,481.3 873.0,480.9 873.5,481.0 874.0,481.2 874.5,481.4 875.0,481.4 875.5,481.3 876.0,481.0 876.5,481.2 877.0,481.5 877.5,481.0 878.0,481.0 878.5,481.5 879.0,481.7 879.5,481.3 880.0,481.2 880.5,480.9 881.0,481.2 881.5,481.0 882.0,481.3 882.5,481.4 883.0,481.3 883.5,481.6 884.0,480.9 884.5,480.8 885.0,481.6 885.5,481.5 886.0,480.9 886.5,481.3 887.0,480.9 887.5,481.2 888.0,481.3 888.5,481.5 889.0,480.9 889.5,480.8 890.0,481.4 890.5,481.1 891.0,481.6 891.5,480.9 892.0,481.0 892.5,480.4 893.0,481.5 893.5,481.6 894.0,481.3 894.5,481.1 895.0,480.6 895.5,480.8 896.0,481.0 896.5,481.8 897.0,481.5 897.5,481.0 898.0,481.3 898.5,481.4 899.0,481.4 899.5,480.9 900.0,481.1 900.5,481.5 901.0,481.4 901.5,481.1 902.0,481.9 902.5,481.3 903.0,481.1 903.5,481.5 904.0,481.4 904.5,481.2 905.0,481.7 905.5,481.5 906.0,481.2 906.5,481.4 907.0,481.4 907.5,481.1 908.0,481.4 908.5,481.0 909.0,481.1 909.5,481.4 910.0,480.8 910.5,481.1 911.0,480.9 911.5,481.4 912.0,481.0 912.5,481.7 913.0,481.6 913.5,481.0 914.0,481.2 914.5,481.1 915.0,481.2 915.5,481.4 916.0,481.6 916.5,481.8 917.0,481.7 917.5,480.8 918.0,481.0 918.5,481.1 919.0,481.1 919.5,481.2 920.0,481.4 920.5,481.0 921.0,481.0 921.5,481.9 922.0,481.4 922.5,481.8 923.0,481.0 923.5,481.6 924.0,481.7 924.5,481.6 925.0,481.0 925.5,481.3 926.0,480.9 926.5,480.8 927.0,481.2 927.5,481.3 928.0,481.1 928.5,481.1 929.0,481.4 929.5,481.0 930.0,481.3 930.5,481.4 931.0,481.4 931.5,481.3 932.0,480.9 932.5,481.1 933.0,481.0 933.5,481.4 934.0,480.6 934.5,481.2 935.0,480.7 935.5,481.4 936.0,481.0 936.5,481.2 937.0,481.4 937.5,481.7 938.0,480.9 938.5,481.2 939.0,480.6 939.5,481.1 940.0,481.0 940.5,481.4 941.0,481.1 941.5,481.2 942.0,480.8 942.5,481.1 943.0,480.8 943.5,481.2 944.0,480.7 944.5,481.2 945.0,481.5 945.5,481.9 946.0,481.6 946.5,481.5 947.0,481.4 947.5,481.6 948.0,481.1 948.5,481.3 949.0,480.6 949.5,481.0 950.0,481.5 950.5,480.6 951.0,481.2 951.5,481.1 952.0,481.0 952.5,481.2 953.0,481.1 953.5,480.8 954.0,481.1 954.5,480.6 955.0,481.6 955.5,481.1 956.0,481.4 956.5,480.9 957.0,481.7 957.5,481.4 958.0,481.2 958.5,481.2 959.0,481.2 959.5,480.9 960.0,481.1 960.5,481.1 961.0,481.2 961.5,481.6 962.0,481.5 962.5,481.2 963.0,481.3 963.5,481.0 964.0,481.0 964.5,480.6 965.0,480.7 965.5,480.8 966.0,481.1 966.5,481.1 967.0,481.2 967.5,481.5 968.0,481.3 968.5,481.1 969.0,481.0 969.5,481.0 970.0,481.3 970.5,480.8 971.0,480.7 971.5,481.0 972.0,481.4 972.5,481.5 973.0,481.3 973.5,480.5 974.0,481.1 974.5,481.3 975.0,481.4 975.5,481.6 976.0,480.8 976.5,481.2 977.0,480.6 977.5,481.0 978.0,481.0 978.5,481.3 979.0,481.1 979.5,480.6 980.0,481.1 980.5,481.2 981.0,481.5 981.5,480.9 982.0,480.8 982.5,480.9 983.0,481.4 983.5,481.0 984.0,481.1 984.5,481.2 985.0,480.8 985.5,481.4 986.0,480.6 986.5,481.6 987.0,480.9 987.5,480.8 988.0,480.9 988.5,480.7 989.0,480.8 989.5,480.8 990.0,480.7 990.5,481.0 991.0,481.2 991.5,480.9 992.0,481.1 992.5,480.8 993.0,481.1 993.5,481.0 994.0,480.7 994.5,481.1 995.0,481.0 995.5,480.9 996.0,481.1 996.5,481.2 997.0,480.7 997.5,480.9 998.0,481.2 998.5,481.1 999.0,481.3 999.5,481.8 1000.0,480.7 1000.5,481.2 1001.0,480.9 1001.5,481.5 1002.0,481.2 1002.5,480.6 1003.0,481.4 1003.5,481.1 1004.0,481.0 1004.5,481.1 1005.0,481.1 1005.5,480.8 1006.0,480.9 1006.5,481.5 1007.0,480.7 1007.5,480.9 1008.0,481.3 1008.5,480.8 1009.0,481.0 1009.5,481.1 1010.0,480.8 1010.5,481.0 1011.0,480.8 1011.5,481.0 1012.0,481.1 1012.5,481.0 1013.0,481.1 1013.5,481.2 1014.0,481.3 1014.5,480.7 1015.0,481.1 1015.5,481.5 1016.0,481.0 1016.5,481.0 1017.0,481.0 1017.5,480.8 1018.0,481.2 1018.5,481.0 1019.0,481.0 1019.5,481.3 1020.0,481.4 1020.5,480.6 1021.0,480.9 1021.5,480.9 1022.0,480.6 1022.5,481.2 1023.0,481.7 1023.5,481.3 1024.0,481.4 1024.5,480.4 1025.0,480.9 1025.5,480.6 1026.0,481.3 1026.5,481.0 1027.0,481.0 1027.5,481.2 1028.0,481.2 1028.5,481.5 1029.0,481.4 1029.5,481.3 1030.0,480.5 1030.5,481.4 1031.0,481.0 1031.5,480.6 1032.0,481.1 1032.5,480.9 1033.0,481.0 1033.5,481.3 1034.0,480.6 1034.5,481.2 1035.0,481.4 1035.5,480.7 1036.0,481.4 1036.5,480.8 1037.0,480.8 1037.5,481.3 1038.0,481.0 1038.5,480.5 1039.0,480.8 1039.5,481.2 1040.0,480.8 1040.5,480.9 1041.0,481.0 1041.5,481.0 1042.0,480.8 1042.5,480.7 1043.0,481.1 1043.5,481.4 1044.0,480.2 1044.5,481.1 1045.0,481.3 1045.5,480.7 1046.0,481.4 1046.5,480.5 1047.0,481.3 1047.5,481.5 1048.0,481.4 1048.5,480.2 1049.0,481.0 1049.5,480.7 1050.0,481.1 1050.5,481.4 1051.0,481.1 1051.5,481.5 1052.0,480.5 1052.5,480.7 1053.0,480.8 1053.5,481.2 1054.0,481.3 1054.5,480.7 1055.0,480.7 1055.5,481.2 1056.0,480.6 1056.5,481.1 1057.0,480.7 1057.5,480.9 1058.0,481.6 1058.5,480.9 1059.0,481.0 1059.5,480.7 1060.0,481.1 1060.5,481.4 1061.0,481.1 1061.5,480.6 1062.0,481.0 1062.5,481.4 1063.0,480.7 1063.5,480.9 1064.0,480.7 1064.5,480.8 1065.0,480.6 1065.5,480.5 1066.0,481.1 1066.5,480.9 1067.0,480.3 1067.5,480.6 1068.0,480.7 1068.5,480.6 1069.0,481.0 1069.5,480.8 1070.0,481.0 1070.5,480.5 1071.0,480.7 1071.5,480.8 1072.0,480.8 1072.5,480.8 1073.0,480.7 1073.5,480.8 1074.0,481.4 1074.5,480.6 1075.0,480.4 1075.5,480.9 1076.0,480.6 1076.5,481.1 1077.0,481.2 1077.5,481.3 1078.0,480.9 1078.5,480.3 1079.0,481.3 1079.5,481.1 1080.0,481.2 1080.5,480.8 1081.0,480.7 1081.5,480.8 1082.0,480.2 1082.5,481.1 1083.0,480.6 1083.5,480.6 1084.0,480.9 1084.5,480.5 1085.0,481.0 1085.5,480.6 1086.0,481.4 1086.5,481.1 1087.0,480.9 1087.5,480.8 1088.0,480.7 1088.5,480.5 1089.0,480.1 1089.5,480.5 1090.0,480.4 1090.5,480.5 1091.0,480.7 1091.5,480.1 1092.0,480.2 1092.5,480.4 1093.0,480.4 1093.5,480.8 1094.0,481.3 1094.5,480.5 1095.0,480.7 1095.5,480.5 1096.0,480.6 1096.5,481.0 1097.0,480.5 1097.5,480.6 1098.0,480.4 1098.5,480.2 1099.0,480.7 1099.5,480.3 1100.0,480.8 1100.5,480.0 1101.0,480.4 1101.5,480.8 1102.0,480.1 1102.5,480.3 1103.0,480.6 1103.5,480.3 1104.0,479.9 1104.5,480.0 1105.0,480.1 1105.5,479.8 1106.0,479.9 1106.5,480.0 1107.0,479.5 1107.5,480.3 1108.0,479.6 1108.5,479.8 1109.0,479.7 1109.5,480.1 1110.0,479.5 1110.5,480.1 1111.0,480.0 1111.5,479.6 1112.0,479.0 1112.5,478.9 1113.0,479.2 1113.5,479.2 1114.0,479.3 1114.5,479.3 1115.0,479.0 1115.5,478.8 1116.0,478.8 1116.5,478.1 1117.0,478.8 1117.5,478.0 1118.0,477.8 1118.5,478.0 1119.0,477.9 1119.5,477.6 1120.0,477.7 1120.5,477.6 1121.0,477.6 1121.5,477.4 1122.0,477.0 1122.5,476.9 1123.0,477.0 1123.5,476.5 1124.0,476.3 1124.5,475.6 1125.0,476.0 1125.5,476.2 1126.0,475.7 1126.5,475.2 1127.0,475.3 1127.5,475.1 1128.0,474.9 1128.5,474.1 1129.0,473.9 1129.5,474.2 1130.0,473.9 1130.5,473.8 1131.0,473.1 1131.5,473.6 1132.0,473.7 1132.5,473.5 1133.0,473.8 1133.5,473.2 1134.0,473.2 1134.5,473.6 1135.0,473.5 1135.5,472.9 1136.0,473.3 1136.5,473.9 1137.0,474.0 1137.5,474.7 1138.0,475.0 1138.5,475.2 1139.0,475.1 1139.5,475.4 1140.0,475.9 1140.5,475.9 1141.0,476.5 1141.5,476.6 1142.0,477.0 1142.5,477.1 1143.0,477.1 1143.5,476.8 1144.0,477.4 1144.5,477.5 1145.0,478.2 1145.5,477.9 1146.0,478.2 1146.5,478.7 1147.0,478.9 1147.5,479.1 1148.0,479.1 1148.5,479.5 1149.0,479.0 1149.5,479.6 1150.0,479.0 1150.5,479.4 1151.0,479.7 1151.5,479.8 1152.0,479.6 1152.5,479.6 1153.0,479.5 1153.5,479.3 1154.0,479.4 1154.5,480.5 1155.0,479.6 1155.5,479.7 1156.0,479.7 1156.5,480.2 1157.0,480.2 1157.5,480.1 1158.0,480.0 1158.5,480.4 1159.0,480.0 1159.5,480.6 1160.0,480.9 1160.5,480.3 1161.0,480.6 1161.5,480.4 1162.0,480.5 1162.5,480.3 1163.0,480.7 1163.5,480.7 1164.0,481.1 1164.5,481.4 1165.0,480.4 1165.5,481.1 1166.0,480.6 1166.5,480.7 1167.0,480.5 1167.5,481.0 1168.0,481.2 1168.5,480.9 1169.0,481.0 1169.5,480.7 1170.0,480.8 1170.5,480.6 1171.0,480.9 1171.5,480.4 1172.0,481.7 1172.5,481.4 1173.0,480.8 1173.5,480.9 1174.0,480.9 1174.5,481.1 1175.0,481.1 1175.5,481.6 1176.0,480.9 1176.5,480.5 1177.0,481.2 1177.5,481.2 1178.0,480.9 1178.5,481.4 1179.0,481.1 1179.5,480.9 1180.0,481.1 1180.5,480.8 1181.0,481.0 1181.5,481.7 1182.0,481.5 1182.5,481.4 1183.0,481.2 1183.5,481.3 1184.0,480.9 1184.5,481.3 1185.0,481.0 1185.5,481.0 1186.0,481.7 1186.5,481.0 1187.0,481.3 1187.5,481.3 1188.0,481.6 1188.5,481.2 1189.0,481.4 1189.5,481.4 1190.0,481.2 1190.5,481.1 1191.0,481.0 1191.5,481.6 1192.0,481.0 1192.5,481.7 1193.0,481.8 1193.5,481.1 1194.0,481.0 1194.5,481.0 1195.0,481.2 1195.5,481.7 1196.0,481.1 1196.5,481.0 1197.0,480.8 1197.5,481.4 1198.0,481.5 1198.5,481.8 1199.0,481.4 1199.5,481.3 1200.0,481.3 1200.5,482.2 1201.0,481.8 1201.5,481.6 1202.0,481.3 1202.5,481.3 1203.0,481.4 1203.5,481.4 1204.0,481.5 1204.5,481.2 1205.0,482.0 1205.5,481.1 1206.0,481.6 1206.5,481.6 1207.0,481.7 1207.5,481.8 1208.0,481.5 1208.5,481.5 1209.0,481.9 1209.5,481.8 1210.0,481.4 1210.5,481.7 1211.0,481.1 1211.5,481.5 1212.0,480.8 1212.5,481.8 1213.0,481.2 1213.5,481.7 1214.0,481.6 1214.5,481.3 1215.0,481.7 1215.5,481.9 1216.0,481.2 1216.5,482.0 1217.0,481.6 1217.5,481.2 1218.0,481.4 1218.5,481.6 1219.0,481.7 1219.5,481.2 1220.0,481.4 1220.5,481.6 1221.0,481.5 1221.5,482.1 1222.0,481.7 1222.5,481.7 1223.0,481.2 1223.5,481.2 1224.0,481.2 1224.5,481.5 1225.0,481.7 1225.5,482.0 1226.0,481.8 1226.5,481.2 1227.0,481.5 1227.5,482.1 1228.0,481.5 1228.5,481.7 1229.0,481.1 1229.5,481.1 1230.0,481.4 1230.5,481.4 1231.0,481.7 1231.5,481.5 1232.0,481.0 1232.5,482.2 1233.0,481.6 1233.5,481.0 1234.0,482.0 1234.5,481.8 1235.0,481.5 1235.5,481.5 1236.0,481.7 1236.5,480.8 1237.0,481.8 1237.5,481.6 1238.0,481.7 1238.5,481.3 1239.0,481.3 1239.5,482.0 1240.0,480.5 1240.5,481.9 1241.0,481.9 1241.5,481.0 1242.0,481.4 1242.5,481.3 1243.0,481.4 1243.5,481.1 1244.0,481.1 1244.5,481.5 1245.0,481.4 1245.5,481.7 1246.0,481.8 1246.5,481.4 1247.0,482.2 1247.5,482.0 1248.0,481.1 1248.5,481.5 1249.0,481.4 1249.5,481.7 1250.0,481.2 1250.5,482.0 1251.0,481.4 1251.5,482.2 1252.0,481.3 1252.5,482.1 1253.0,481.7 1253.5,481.8 1254.0,481.6 1254.5,481.6 1255.0,481.2 1255.5,481.5 1256.0,481.3 1256.5,481.5 1257.0,481.4 1257.5,481.8 1258.0,481.6 1258.5,481.4 1259.0,481.0 1259.5,481.8 1260.0,481.3 1260.5,481.4 1261.0,481.7 1261.5,481.5 1262.0,481.6 1262.5,481.6 1263.0,481.0 1263.5,481.7 1264.0,481.5 1264.5,481.8 1265.0,481.6 1265.5,481.4 1266.0,482.0 1266.5,481.6 1267.0,481.8 1267.5,481.7 1268.0,481.8 1268.5,481.8 1269.0,481.7 1269.5,481.2 1270.0,481.5 1270.5,481.9 1271.0,481.5 1271.5,481.4 1272.0,481.5 1272.5,481.8 1273.0,481.3 1273.5,481.5 1274.0,481.4 1274.5,481.3 1275.0,481.7 1275.5,481.4 1276.0,481.5 1276.5,481.6 1277.0,481.7 1277.5,481.7 1278.0,481.7 1278.5,481.3 1279.0,480.8 1279.5,481.8 1280.0,482.0 1280.5,481.4 1281.0,481.5 1281.5,481.8 1282.0,481.3 1282.5,481.5 1283.0,481.4 1283.5,481.7 1284.0,481.5 1284.5,482.0 1285.0,481.2 1285.5,481.3 1286.0,481.1 1286.5,481.6 1287.0,481.5 1287.5,481.4 1288.0,481.7 1288.5,481.2 1289.0,481.1 1289.5,482.1 1290.0,481.5 1290.5,481.2 1291.0,481.8 1291.5,481.5 1292.0,481.2 1292.5,481.6 1293.0,481.8 1293.5,481.7 1294.0,481.5 1294.5,482.0 1295.0,481.2 1295.5,481.4 1296.0,481.6 1296.5,481.2 1297.0,481.7 1297.5,481.6 1298.0,481.8 1298.5,481.6 1299.0,482.1 1299.5,481.1 1300.0,481.4 1300.5,481.3 1301.0,481.5 1301.5,481.7 1302.0,481.2 1302.5,481.8 1303.0,481.8 1303.5,481.5 1304.0,481.1 1304.5,481.7 1305.0,481.6 1305.5,481.2 1306.0,481.3 1306.5,481.3 1307.0,481.1 1307.5,481.6 1308.0,481.8 1308.5,481.6 1309.0,481.3 1309.5,481.5 1310.0,481.5 1310.5,482.0 1311.0,481.4 1311.5,481.6 1312.0,481.4 1312.5,481.8 1313.0,481.2 1313.5,481.6 1314.0,481.4 1314.5,481.7 1315.0,481.1 1315.5,481.5 1316.0,481.8 1316.5,481.7 1317.0,481.2 1317.5,482.2 1318.0,481.6 1318.5,481.4 1319.0,481.4 1319.5,481.2 1320.0,481.9 1320.5,481.8 1321.0,481.9 1321.5,481.2 1322.0,480.9 1322.5,480.8 1323.0,481.0 1323.5,481.3 1324.0,481.1 1324.5,481.0 1325.0,481.6 1325.5,481.2 1326.0,481.5 1326.5,481.8 1327.0,481.2 1327.5,481.3 1328.0,481.8 1328.5,481.0 1329.0,481.3 1329.5,481.1 1330.0,481.4 1330.5,481.3 1331.0,481.5 1331.5,481.3 1332.0,481.8 1332.5,481.2 1333.0,481.4 1333.5,481.6 1334.0,481.2 1334.5,481.2 1335.0,481.4 1335.5,481.3 1336.0,481.7 1336.5,481.2 1337.0,481.0 1337.5,481.6 1338.0,481.2 1338.5,481.2 1339.0,481.3 1339.5,481.7 1340.0,481.6 1340.5,481.5 1341.0,481.5 1341.5,481.3 1342.0,481.9 1342.5,481.7 1343.0,481.2 1343.5,481.7 1344.0,481.0 1344.5,481.2 1345.0,481.2 1345.5,481.9 1346.0,482.0 1346.5,481.4 1347.0,481.2 1347.5,481.8 1348.0,481.2 1348.5,481.9 1349.0,481.1 1349.5,481.7 1350.0,481.2 1350.5,481.9 1351.0,481.4 1351.5,481.2 1352.0,481.4 1352.5,480.7 1353.0,481.4 1353.5,481.6 1354.0,482.1 1354.5,481.1 1355.0,481.7 1355.5,481.8 1356.0,481.6 1356.5,481.3 1357.0,481.4 1357.5,481.1 1358.0,481.5 1358.5,481.0 1359.0,481.2 1359.5,481.4 1360.0,481.1 1360.5,481.0 1361.0,481.3 1361.5,481.5 1362.0,481.6 1362.5,481.5 1363.0,481.9 1363.5,481.4 1364.0,481.8 1364.5,481.1 1365.0,481.6 1365.5,481.6 1366.0,481.9 1366.5,481.2 1367.0,481.9 1367.5,481.3 1368.0,481.2 1368.5,480.9 1369.0,481.6 1369.5,481.2 1370.0,481.6 1370.5,481.4 1371.0,481.6 1371.5,481.4 1372.0,481.1 1372.5,481.2 1373.0,481.3 1373.5,481.5 1374.0,481.1 1374.5,481.6 1375.0,480.7 1375.5,480.9 1376.0,481.5 1376.5,481.4 1377.0,481.9 1377.5,481.7 1378.0,481.0 1378.5,481.0 1379.0,481.3 1379.5,481.3 1380.0,481.5 1380.5,481.2 1381.0,481.1 1381.5,481.1 1382.0,481.3 1382.5,481.1 1383.0,481.3 1383.5,481.5 1384.0,481.3 1384.5,481.0 1385.0,481.5 1385.5,481.5 1386.0,481.1 1386.5,481.2 1387.0,480.8 1387.5,481.0 1388.0,481.0 1388.5,480.9 1389.0,481.1 1389.5,481.9 1390.0,481.6 1390.5,481.2 1391.0,481.4 1391.5,481.3 1392.0,481.3 1392.5,480.7 1393.0,481.2 1393.5,480.9 1394.0,481.2 1394.5,481.3 1395.0,480.2 1395.5,480.5 1396.0,481.4 1396.5,481.7 1397.0,481.5 1397.5,480.9 1398.0,481.2 1398.5,481.5 1399.0,481.2 1399.5,480.6 1400.0,481.5 1400.5,481.1 1401.0,481.3 1401.5,480.7 1402.0,480.9 1402.5,481.6 1403.0,481.1 1403.5,481.4 1404.0,481.8 1404.5,481.3 1405.0,481.3 1405.5,481.2 1406.0,481.5 1406.5,481.4 1407.0,481.4 1407.5,481.7 1408.0,481.4 1408.5,481.6 1409.0,481.0 1409.5,481.2 1410.0,481.5 1410.5,481.0 1411.0,480.8 1411.5,481.2 1412.0,481.1 1412.5,481.4 1413.0,481.7 1413.5,481.1 1414.0,480.9 1414.5,481.2 1415.0,481.1 1415.5,481.1 1416.0,481.6 1416.5,481.4 1417.0,481.4 1417.5,481.2 1418.0,481.5 1418.5,481.2 1419.0,481.8 1419.5,481.2 1420.0,481.2 1420.5,481.4 1421.0,481.9 1421.5,480.7 1422.0,481.4 1422.5,480.9 1423.0,480.7 1423.5,481.1 1424.0,481.5 1424.5,480.7 1425.0,481.1 1425.5,481.8 1426.0,481.6 1426.5,481.1 1427.0,481.4 1427.5,481.2 1428.0,481.0 1428.5,481.0 1429.0,481.6 1429.5,481.0 1430.0,481.2 1430.5,481.1 1431.0,480.8 1431.5,481.1 1432.0,481.8 1432.5,480.9 1433.0,481.2 1433.5,481.6 1434.0,481.3 1434.5,481.2 1435.0,481.4 1435.5,481.3 1436.0,481.2 1436.5,480.9 1437.0,481.1 1437.5,480.7 1438.0,481.2 1438.5,481.1 1439.0,481.0 1439.5,480.7 1440.0,481.0" fill="none" stroke="#ff0000" stroke-width="8.5" stroke-linejoin="round" stroke-linecap="butt"/>
<path d="M142.0,635.2 142.5,635.3 143.0,635.1 143.5,635.3 144.0,635.4 144.5,635.3 145.0,635.6 145.5,635.0 146.0,635.2 146.5,635.0 147.0,635.0 147.5,635.2 148.0,635.3 148.5,635.3 149.0,635.3 149.5,635.8 150.0,635.4 150.5,634.8 151.0,635.3 151.5,635.1 152.0,635.1 152.5,635.5 153.0,635.2 153.5,634.7 154.0,635.3 154.5,635.2 155.0,634.9 155.5,635.0 156.0,635.1 156.5,635.2 157.0,635.1 157.5,635.3 158.0,635.7 158.5,635.0 159.0,635.0 159.5,635.2 160.0,635.5 160.5,635.1 161.0,635.6 161.5,634.9 162.0,635.0 162.5,635.2 163.0,635.0 163.5,635.1 164.0,635.4 164.5,635.4 165.0,635.3 165.5,635.2 166.0,635.6 166.5,635.4 167.0,635.2 167.5,635.6 168.0,635.0 168.5,635.3 169.0,635.4 169.5,635.3 170.0,635.1 170.5,635.4 171.0,635.1 171.5,635.1 172.0,635.0 172.5,635.6 173.0,635.1 173.5,635.6 174.0,635.4 174.5,635.2 175.0,635.4 175.5,635.3 176.0,635.3 176.5,634.9 177.0,635.3 177.5,635.5 178.0,635.4 178.5,635.5 179.0,635.7 179.5,635.4 180.0,635.8 180.5,634.9 181.0,635.2 181.5,634.7 182.0,635.5 182.5,635.3 183.0,635.7 183.5,635.2 184.0,634.8 184.5,635.6 185.0,635.0 185.5,635.0 186.0,635.3 186.5,635.5 187.0,635.2 187.5,635.4 188.0,634.8 188.5,635.7 189.0,635.3 189.5,635.3 190.0,635.5 190.5,635.4 191.0,635.4 191.5,635.1 192.0,635.3 192.5,635.4 193.0,635.6 193.5,635.3 194.0,635.3 194.5,635.4 195.0,635.5 195.5,635.4 196.0,635.3 196.5,635.2 197.0,635.6 197.5,635.4 198.0,635.3 198.5,636.2 199.0,635.6 199.5,635.5 200.0,635.4 200.5,635.1 201.0,635.6 201.5,635.3 202.0,635.4 202.5,635.6 203.0,635.6 203.5,635.4 204.0,635.3 204.5,635.9 205.0,635.5 205.5,635.1 206.0,635.5 206.5,635.4 207.0,635.4 207.5,635.5 208.0,635.4 208.5,635.9 209.0,635.4 209.5,635.4 210.0,635.6 210.5,635.2 211.0,635.6 211.5,635.3 212.0,635.7 212.5,635.1 213.0,635.5 213.5,635.0 214.0,635.3 214.5,635.4 215.0,635.5 215.5,635.9 216.0,635.8 216.5,635.0 217.0,635.2 217.5,635.7 218.0,635.5 218.5,635.0 219.0,635.5 219.5,635.1 220.0,635.2 220.5,635.1 221.0,635.3 221.5,635.9 222.0,635.5 222.5,635.4 223.0,636.0 223.5,635.3 224.0,635.3 224.5,635.3 225.0,635.5 225.5,635.3 226.0,635.7 226.5,635.3 227.0,635.5 227.5,635.4 228.0,635.2 228.5,635.1 229.0,635.4 229.5,634.8 230.0,635.4 230.5,635.4 231.0,635.4 231.5,635.4 232.0,635.5 232.5,635.3 233.0,635.6 233.5,635.0 234.0,635.6 234.5,635.2 235.0,635.5 235.5,635.3 236.0,635.3 236.5,635.2 237.0,635.7 237.5,635.1 238.0,635.1 238.5,635.5 239.0,635.5 239.5,635.4 240.0,635.2 240.5,635.2 241.0,635.6 241.5,635.2 242.0,635.6 242.5,635.6 243.0,635.4 243.5,635.1 244.0,635.9 244.5,635.4 245.0,635.5 245.5,635.3 246.0,635.2 246.5,635.3 247.0,635.5 247.5,635.2 248.0,635.4 248.5,635.7 249.0,635.5 249.5,635.4 250.0,635.7 250.5,635.6 251.0,635.6 251.5,635.2 252.0,635.0 252.5,635.6 253.0,635.4 253.5,635.3 254.0,635.5 254.5,635.3 255.0,635.3 255.5,635.9 256.0,635.0 256.5,635.6 257.0,635.7 257.5,635.9 258.0,635.5 258.5,635.6 259.0,635.2 259.5,635.4 260.0,634.9 260.5,635.3 261.0,635.4 261.5,635.4 262.0,635.3 262.5,635.7 263.0,635.0 263.5,635.5 264.0,635.3 264.5,635.4 265.0,635.4 265.5,635.9 266.0,635.2 266.5,635.8 267.0,635.8 267.5,635.4 268.0,635.3 268.5,635.1 269.0,635.2 269.5,635.9 270.0,634.9 270.5,635.5 271.0,635.3 271.5,635.9 272.0,635.5 272.5,635.1 273.0,635.3 273.5,635.5 274.0,635.5 274.5,635.2 275.0,635.4 275.5,635.3 276.0,635.6 276.5,635.5 277.0,635.5 277.5,635.3 278.0,635.6 278.5,635.3 279.0,635.2 279.5,635.3 280.0,635.3 280.5,635.4 281.0,634.9 281.5,635.8 282.0,635.6 282.5,635.8 283.0,635.3 283.5,635.6 284.0,635.5 284.5,635.4 285.0,635.9 285.5,635.3 286.0,635.6 286.5,635.0 287.0,635.6 287.5,635.4 288.0,635.2 288.5,635.3 289.0,634.9 289.5,635.2 290.0,635.5 290.5,634.8 291.0,635.7 291.5,635.7 292.0,635.2 292.5,635.0 293.0,635.1 293.5,635.1 294.0,635.2 294.5,636.0 295.0,635.1 295.5,635.6 296.0,635.7 296.5,635.2 297.0,635.3 297.5,635.6 298.0,635.2 298.5,635.7 299.0,635.9 299.5,635.4 300.0,635.2 300.5,635.5 301.0,635.5 301.5,635.2 302.0,635.4 302.5,635.4 303.0,635.5 303.5,635.7 304.0,635.3 304.5,635.1 305.0,635.0 305.5,635.8 306.0,635.3 306.5,635.3 307.0,636.0 307.5,635.7 308.0,635.9 308.5,635.3 309.0,635.2 309.5,635.2 310.0,635.5 310.5,635.5 311.0,635.5 311.5,635.9 312.0,635.7 312.5,635.1 313.0,635.5 313.5,635.5 314.0,635.2 314.5,635.9 315.0,635.6 315.5,635.7 316.0,635.2 316.5,635.0 317.0,635.5 317.5,635.3 318.0,635.2 318.5,635.3 319.0,635.3 319.5,635.3 320.0,635.2 320.5,635.4 321.0,636.0 321.5,635.6 322.0,635.1 322.5,635.8 323.0,635.1 323.5,634.9 324.0,634.9 324.5,634.7 325.0,635.5 325.5,635.0 326.0,634.9 326.5,635.1 327.0,635.2 327.5,634.9 328.0,635.1 328.5,635.2 329.0,635.3 329.5,634.9 330.0,635.3 330.5,635.2 331.0,635.3 331.5,635.0 332.0,634.8 332.5,635.4 333.0,635.3 333.5,634.9 334.0,634.9 334.5,635.3 335.0,635.6 335.5,635.2 336.0,635.7 336.5,635.1 337.0,635.1 337.5,635.2 338.0,635.3 338.5,634.7 339.0,635.1 339.5,635.3 340.0,634.6 340.5,635.0 341.0,635.2 341.5,635.4 342.0,635.3 342.5,634.9 343.0,635.4 343.5,634.7 344.0,634.6 344.5,635.2 345.0,635.1 345.5,634.6 346.0,635.1 346.5,635.1 347.0,635.0 347.5,634.7 348.0,634.5 348.5,634.4 349.0,634.7 349.5,634.7 350.0,634.6 350.5,634.6 351.0,635.0 351.5,634.4 352.0,634.5 352.5,635.2 353.0,634.5 353.5,634.5 354.0,634.9 354.5,634.2 355.0,635.0 355.5,634.3 356.0,634.4 356.5,634.3 357.0,634.3 357.5,634.4 358.0,634.8 358.5,634.5 359.0,634.8 359.5,634.7 360.0,634.2 360.5,634.5 361.0,634.3 361.5,634.3 362.0,634.4 362.5,634.5 363.0,634.5 363.5,633.8 364.0,634.3 364.5,634.2 365.0,634.8 365.5,634.2 366.0,634.3 366.5,634.2 367.0,634.4 367.5,633.9 368.0,634.2 368.5,634.1 369.0,634.1 369.5,634.1 370.0,634.0 370.5,634.1 371.0,633.7 371.5,634.4 372.0,634.0 372.5,633.6 373.0,633.9 373.5,634.2 374.0,633.9 374.5,633.9 375.0,633.3 375.5,634.2 376.0,633.9 376.5,633.3 377.0,633.7 377.5,634.1 378.0,633.8 378.5,633.4 379.0,633.6 379.5,633.7 380.0,634.1 380.5,633.7 381.0,633.8 381.5,633.5 382.0,633.5 382.5,633.3 383.0,633.2 383.5,633.1 384.0,633.3 384.5,633.7 385.0,633.3 385.5,633.6 386.0,633.5 386.5,633.3 387.0,633.1 387.5,633.7 388.0,633.4 388.5,633.4 389.0,633.7 389.5,633.4 390.0,633.1 390.5,633.1 391.0,633.1 391.5,633.4 392.0,632.6 392.5,632.4 393.0,632.7 393.5,632.7 394.0,632.5 394.5,632.9 395.0,632.7 395.5,632.5 396.0,632.5 396.5,632.9 397.0,632.9 397.5,632.8 398.0,632.2 398.5,632.5 399.0,631.9 399.5,631.7 400.0,632.5 400.5,632.2 401.0,632.1 401.5,632.2 402.0,632.2 402.5,631.8 403.0,631.7 403.5,631.7 404.0,631.7 404.5,631.5 405.0,631.1 405.5,631.9 406.0,631.0 406.5,631.0 407.0,631.2 407.5,630.9 408.0,630.9 408.5,631.3 409.0,630.9 409.5,630.4 410.0,630.5 410.5,630.3 411.0,630.4 411.5,629.8 412.0,629.7 412.5,629.4 413.0,629.7 413.5,629.5 414.0,629.4 414.5,629.3 415.0,628.7 415.5,628.7 416.0,628.3 416.5,628.6 417.0,628.3 417.5,627.7 418.0,627.8 418.5,627.5 419.0,627.3 419.5,627.2 420.0,626.7 420.5,626.5 421.0,626.2 421.5,626.0 422.0,625.8 422.5,626.0 423.0,625.6 423.5,625.2 424.0,624.7 424.5,624.8 425.0,624.0 425.5,623.5 426.0,622.9 426.5,622.4 427.0,621.4 427.5,620.4 428.0,619.8 428.5,618.9 429.0,617.9 429.5,617.0 430.0,615.7 430.5,614.5 431.0,613.0 431.5,611.7 432.0,609.9 432.5,608.2 433.0,606.2 433.5,604.1 434.0,601.7 434.5,599.1 435.0,596.3 435.5,593.1 436.0,589.7 436.5,585.9 437.0,581.8 437.5,577.2 438.0,572.2 438.5,566.8 439.0,560.9 439.5,554.5 440.0,547.7 440.5,540.5 441.0,533.0 441.5,525.3 442.0,517.8 442.5,510.7 443.0,504.4 443.5,499.3 444.0,495.8 444.5,494.3 445.0,494.9 445.5,497.7 446.0,502.3 446.5,508.4 447.0,515.7 447.5,523.6 448.0,531.6 448.5,539.7 449.0,547.5 449.5,554.8 450.0,561.6 450.5,567.8 451.0,573.5 451.5,578.7 452.0,583.3 452.5,587.5 453.0,591.3 453.5,594.7 454.0,597.8 454.5,600.5 455.0,603.0 455.5,605.3 456.0,607.3 456.5,609.1 457.0,611.0 457.5,612.5 458.0,613.9 458.5,615.1 459.0,616.5 459.5,617.4 460.0,618.3 460.5,619.3 461.0,620.2 461.5,621.0 462.0,621.5 462.5,622.5 463.0,623.1 463.5,623.8 464.0,624.2 464.5,625.0 465.0,625.5 465.5,625.6 466.0,626.1 466.5,626.7 467.0,627.1 467.5,627.3 468.0,627.8 468.5,627.7 469.0,628.4 469.5,628.6 470.0,629.0 470.5,629.2 471.0,629.5 471.5,629.5 472.0,630.1 472.5,629.7 473.0,630.4 473.5,630.4 474.0,631.2 474.5,630.8 475.0,631.2 475.5,631.4 476.0,631.8 476.5,631.8 477.0,631.7 477.5,632.1 478.0,632.5 478.5,632.6 479.0,632.4 479.5,632.4 480.0,632.5 480.5,632.9 481.0,633.0 481.5,633.0 482.0,633.1 482.5,633.3 483.0,633.6 483.5,633.6 484.0,633.4 484.5,633.7 485.0,633.5 485.5,634.0 486.0,633.9 486.5,634.0 487.0,634.3 487.5,634.1 488.0,634.1 488.5,634.2 489.0,633.7 489.5,633.9 490.0,633.9 490.5,634.3 491.0,634.1 491.5,633.8 492.0,633.9 492.5,634.1 493.0,634.1 493.5,634.1 494.0,633.9 494.5,634.3 495.0,634.0 495.5,634.2 496.0,634.2 496.5,634.3 497.0,634.8 497.5,634.3 498.0,634.4 498.5,633.9 499.0,634.3 499.5,634.6 500.0,634.5 500.5,634.8 501.0,634.5 501.5,634.8 502.0,634.7 502.5,634.9 503.0,634.6 503.5,634.9 504.0,634.6 504.5,634.6 505.0,635.0 505.5,634.4 506.0,634.6 506.5,635.2 507.0,634.9 507.5,634.9 508.0,634.9 508.5,634.9 509.0,635.4 509.5,634.9 510.0,635.3 510.5,634.9 511.0,634.8 511.5,634.9 512.0,635.0 512.5,635.6 513.0,634.8 513.5,635.1 514.0,634.6 514.5,635.1 515.0,635.0 515.5,635.1 516.0,635.0 516.5,634.9 517.0,635.1 517.5,635.0 518.0,635.3 518.5,635.0 519.0,635.0 519.5,634.8 520.0,635.3 520.5,635.0 521.0,634.9 521.5,635.4 522.0,635.3 522.5,635.1 523.0,635.1 523.5,634.8 524.0,634.5 524.5,635.2 525.0,634.8 525.5,635.3 526.0,635.0 526.5,635.2 527.0,635.0 527.5,635.2 528.0,635.3 528.5,635.2 529.0,635.3 529.5,635.3 530.0,635.1 530.5,634.7 531.0,635.3 531.5,635.0 532.0,634.9 532.5,634.7 533.0,634.7 533.5,635.5 534.0,635.6 534.5,635.5 535.0,635.7 535.5,634.7 536.0,635.3 536.5,634.8 537.0,634.8 537.5,635.3 538.0,635.4 538.5,634.9 539.0,634.7 539.5,634.7 540.0,635.1 540.5,635.3 541.0,635.6 541.5,635.2 542.0,634.9 542.5,634.8 543.0,635.1 543.5,635.3 544.0,634.6 544.5,635.2 545.0,634.9 545.5,635.3 546.0,634.6 546.5,635.3 547.0,635.4 547.5,635.4 548.0,635.4 548.5,635.1 549.0,635.0 549.5,634.7 550.0,635.0 550.5,634.8 551.0,635.1 551.5,635.2 552.0,634.9 552.5,635.4 553.0,634.6 553.5,634.8 554.0,635.4 554.5,634.9 555.0,635.1 555.5,634.3 556.0,635.3 556.5,634.7 557.0,634.7 557.5,635.1 558.0,634.9 558.5,634.4 559.0,635.2 559.5,634.6 560.0,634.7 560.5,634.6 561.0,634.7 561.5,634.6 562.0,634.7 562.5,634.6 563.0,635.3 563.5,634.8 564.0,634.8 564.5,634.5 565.0,635.1 565.5,634.8 566.0,634.6 566.5,634.5 567.0,634.8 567.5,634.1 568.0,634.4 568.5,634.4 569.0,634.6 569.5,634.5 570.0,634.1 570.5,634.6 571.0,634.3 571.5,634.3 572.0,634.4 572.5,634.3 573.0,634.2 573.5,634.2 574.0,634.5 574.5,634.3 575.0,634.3 575.5,634.1 576.0,634.5 576.5,634.2 577.0,634.0 577.5,634.4 578.0,633.8 578.5,634.0 579.0,634.3 579.5,634.0 580.0,634.0 580.5,634.0 581.0,634.0 581.5,634.1 582.0,634.1 582.5,633.8 583.0,633.8 583.5,633.4 584.0,633.8 584.5,634.0 585.0,633.8 585.5,634.1 586.0,633.7 586.5,633.8 587.0,634.0 587.5,633.5 588.0,634.0 588.5,633.4 589.0,633.6 589.5,633.2 590.0,633.6 590.5,633.4 591.0,633.8 591.5,633.1 592.0,633.7 592.5,633.6 593.0,633.6 593.5,633.7 594.0,633.7 594.5,633.2 595.0,633.6 595.5,633.3 596.0,633.3 596.5,633.3 597.0,633.3 597.5,633.2 598.0,633.6 598.5,633.4 599.0,632.9 599.5,633.1 600.0,633.2 600.5,633.9 601.0,633.4 601.5,633.2 602.0,633.4 602.5,632.7 603.0,633.7 603.5,633.2 604.0,633.0 604.5,633.5 605.0,633.1 605.5,633.0 606.0,633.5 606.5,633.8 607.0,633.2 607.5,633.3 608.0,633.3 608.5,633.4 609.0,633.2 609.5,633.4 610.0,633.2 610.5,633.4 611.0,633.6 611.5,633.1 612.0,633.7 612.5,633.9 613.0,633.4 613.5,633.5 614.0,633.7 614.5,633.7 615.0,633.4 615.5,633.9 616.0,633.9 616.5,634.1 617.0,634.0 617.5,633.8 618.0,633.9 618.5,633.8 619.0,634.6 619.5,634.0 620.0,634.3 620.5,634.5 621.0,634.1 621.5,634.3 622.0,634.3 622.5,634.7 623.0,634.0 623.5,634.4 624.0,634.5 624.5,634.5 625.0,634.3 625.5,634.7 626.0,634.7 626.5,634.3 627.0,634.4 627.5,635.1 628.0,634.5 628.5,634.3 629.0,634.8 629.5,634.5 630.0,634.8 630.5,635.0 631.0,634.6 631.5,634.6 632.0,635.4 632.5,634.6 633.0,634.7 633.5,635.0 634.0,635.1 634.5,635.0 635.0,634.9 635.5,635.3 636.0,634.9 636.5,635.0 637.0,635.3 637.5,635.4 638.0,635.3 638.5,635.5 639.0,635.4 639.5,635.5 640.0,635.1 640.5,635.1 641.0,635.5 641.5,635.6 642.0,635.3 642.5,635.2 643.0,635.4 643.5,635.7 644.0,635.4 644.5,635.4 645.0,635.5 645.5,635.5 646.0,635.7 646.5,635.5 647.0,635.6 647.5,635.6 648.0,635.4 648.5,635.7 649.0,635.7 649.5,635.3 650.0,635.8 650.5,635.8 651.0,635.7 651.5,635.5 652.0,635.6 652.5,636.0 653.0,635.6 653.5,636.1 654.0,635.8 654.5,636.0 655.0,635.2 655.5,636.0 656.0,636.0 656.5,635.5 657.0,636.2 657.5,635.8 658.0,635.7 658.5,636.3 659.0,636.3 659.5,636.2 660.0,636.2 660.5,636.3 661.0,635.6 661.5,636.0 662.0,636.4 662.5,636.2 663.0,636.1 663.5,636.0 664.0,636.0 664.5,635.9 665.0,636.0 665.5,635.4 666.0,636.3 666.5,636.1 667.0,635.4 667.5,636.1 668.0,636.1 668.5,636.0 669.0,636.2 669.5,636.3 670.0,636.2 670.5,635.7 671.0,635.6 671.5,635.9 672.0,636.3 672.5,635.6 673.0,636.0 673.5,635.9 674.0,636.1 674.5,635.7 675.0,636.2 675.5,636.0 676.0,636.3 676.5,636.1 677.0,636.1 677.5,636.3 678.0,636.4 678.5,636.2 679.0,635.9 679.5,636.2 680.0,636.4 680.5,636.3 681.0,636.5 681.5,636.4 682.0,636.0 682.5,636.6 683.0,636.3 683.5,636.3 684.0,636.2 684.5,635.8 685.0,635.6 685.5,636.3 686.0,636.4 686.5,636.5 687.0,635.9 687.5,636.1 688.0,636.0 688.5,636.3 689.0,635.9 689.5,635.9 690.0,635.7 690.5,636.1 691.0,636.3 691.5,635.8 692.0,636.0 692.5,636.4 693.0,635.9 693.5,635.6 694.0,635.9 694.5,636.3 695.0,636.1 695.5,635.9 696.0,635.9 696.5,636.4 697.0,635.7 697.5,636.4 698.0,636.0 698.5,636.2 699.0,635.8 699.5,635.9 700.0,636.7 700.5,636.0 701.0,635.8 701.5,636.2 702.0,635.9 702.5,635.8 703.0,635.8 703.5,635.9 704.0,636.4 704.5,635.6 705.0,636.2 705.5,635.6 706.0,636.2 706.5,635.9 707.0,636.2 707.5,636.0 708.0,636.3 708.5,636.2 709.0,636.1 709.5,636.2 710.0,635.9 710.5,635.9 711.0,635.8 711.5,636.2 712.0,636.1 712.5,636.0 713.0,635.7 713.5,636.0 714.0,636.1 714.5,636.2 715.0,635.9 715.5,636.2 716.0,635.7 716.5,635.9 717.0,635.8 717.5,636.1 718.0,635.8 718.5,635.8 719.0,636.3 719.5,636.3 720.0,635.6 720.5,636.3 721.0,636.2 721.5,636.2 722.0,635.9 722.5,636.3 723.0,636.2 723.5,635.7 724.0,635.5 724.5,635.8 725.0,636.1 725.5,636.8 726.0,635.7 726.5,636.1 727.0,636.0 727.5,636.0 728.0,636.2 728.5,636.3 729.0,636.0 729.5,636.4 730.0,636.2 730.5,636.3 731.0,636.3 731.5,635.8 732.0,636.4 732.5,635.8 733.0,636.0 733.5,635.9 734.0,635.8 734.5,636.0 735.0,635.6 735.5,636.2 736.0,636.0 736.5,635.8 737.0,636.0 737.5,636.1 738.0,636.0 738.5,635.5 739.0,636.1 739.5,636.1 740.0,636.5 740.5,636.6 741.0,636.3 741.5,636.1 742.0,636.1 742.5,635.9 743.0,635.9 743.5,635.8 744.0,635.8 744.5,635.8 745.0,636.3 745.5,636.4 746.0,635.3 746.5,636.0 747.0,635.5 747.5,635.6 748.0,635.9 748.5,635.9 749.0,636.8 749.5,636.0 750.0,635.8 750.5,635.6 751.0,636.1 751.5,635.8 752.0,635.9 752.5,635.6 753.0,636.3 753.5,636.1 754.0,636.3 754.5,635.9 755.0,636.0 755.5,635.9 756.0,635.7 756.5,636.1 757.0,635.5 757.5,635.8 758.0,635.7 758.5,636.0 759.0,635.6 759.5,636.0 760.0,635.8 760.5,635.9 761.0,635.9 761.5,636.5 762.0,635.8 762.5,636.3 763.0,635.9 763.5,636.7 764.0,636.0 764.5,636.2 765.0,635.6 765.5,636.4 766.0,636.0 766.5,635.8 767.0,636.0 767.5,636.4 768.0,635.8 768.5,636.0 769.0,636.3 769.5,636.3 770.0,635.8 770.5,635.6 771.0,636.2 771.5,636.1 772.0,636.2 772.5,636.2 773.0,636.0 773.5,636.2 774.0,635.9 774.5,635.9 775.0,636.0 775.5,635.8 776.0,635.9 776.5,636.4 777.0,636.0 777.5,636.2 778.0,636.1 778.5,635.7 779.0,636.2 779.5,635.5 780.0,636.1 780.5,636.0 781.0,635.8 781.5,636.2 782.0,635.9 782.5,636.5 783.0,635.5 783.5,636.3 784.0,636.2 784.5,636.1 785.0,635.7 785.5,635.7 786.0,635.5 786.5,636.0 787.0,635.9 787.5,636.2 788.0,636.0 788.5,636.1 789.0,635.6 789.5,636.0 790.0,636.1 790.5,636.3 791.0,635.3 791.5,636.3 792.0,635.5 792.5,636.0 793.0,636.0 793.5,636.5 794.0,636.1 794.5,636.0 795.0,635.8 795.5,635.8 796.0,635.6 796.5,635.9 797.0,635.8 797.5,636.3 798.0,635.7 798.5,636.2 799.0,635.9 799.5,635.8 800.0,636.0 800.5,635.5 801.0,636.1 801.5,636.0 802.0,635.9 802.5,636.1 803.0,636.1 803.5,636.2 804.0,636.0 804.5,635.9 805.0,636.1 805.5,635.5 806.0,636.4 806.5,635.9 807.0,636.1 807.5,636.4 808.0,635.8 808.5,635.9 809.0,636.0 809.5,635.8 810.0,636.3 810.5,635.6 811.0,635.9 811.5,636.1 812.0,636.0 812.5,635.9 813.0,636.4 813.5,636.3 814.0,636.0 814.5,636.2 815.0,635.7 815.5,636.2 816.0,636.1 816.5,636.2 817.0,636.2 817.5,636.1 818.0,636.0 818.5,635.6 819.0,635.6 819.5,635.7 820.0,636.2 820.5,636.0 821.0,635.8 821.5,635.8 822.0,636.2 822.5,636.0 823.0,636.4 823.5,635.9 824.0,635.7 824.5,635.5 825.0,635.8 825.5,636.1 826.0,635.6 826.5,636.1 827.0,636.1 827.5,635.7 828.0,636.1 828.5,635.6 829.0,636.0 829.5,635.9 830.0,636.1 830.5,635.7 831.0,635.9 831.5,636.1 832.0,635.9 832.5,635.9 833.0,635.8 833.5,636.2 834.0,636.0 834.5,636.2 835.0,636.2 835.5,636.1 836.0,636.1 836.5,635.8 837.0,636.0 837.5,636.1 838.0,635.7 838.5,635.7 839.0,636.2 839.5,636.4 840.0,636.1 840.5,636.0 841.0,636.4 841.5,636.2 842.0,636.3 842.5,636.2 843.0,636.0 843.5,636.2 844.0,636.4 844.5,636.3 845.0,635.6 845.5,636.4 846.0,635.9 846.5,635.7 847.0,635.7 847.5,636.1 848.0,635.4 848.5,635.7 849.0,636.0 849.5,636.1 850.0,636.4 850.5,636.0 851.0,635.8 851.5,635.8 852.0,636.2 852.5,636.0 853.0,636.1 853.5,635.8 854.0,635.8 854.5,635.8 855.0,636.0 855.5,636.1 856.0,636.4 856.5,636.2 857.0,636.0 857.5,636.3 858.0,635.6 858.5,635.8 859.0,636.1 859.5,636.2 860.0,636.0 860.5,635.6 861.0,635.6 861.5,636.1 862.0,636.1 862.5,635.5 863.0,635.9 863.5,636.0 864.0,636.2 864.5,636.3 865.0,635.9 865.5,635.7 866.0,635.9 866.5,635.8 867.0,635.8 867.5,636.1 868.0,636.0 868.5,635.3 869.0,636.0 869.5,636.1 870.0,635.7 870.5,636.4 871.0,636.1 871.5,636.0 872.0,635.8 872.5,636.2 873.0,636.3 873.5,635.8 874.0,635.4 874.5,636.3 875.0,635.9 875.5,635.5 876.0,636.3 876.5,635.3 877.0,635.8 877.5,635.6 878.0,635.6 878.5,636.0 879.0,636.6 879.5,635.8 880.0,636.3 880.5,635.8 881.0,635.7 881.5,636.0 882.0,635.5 882.5,636.4 883.0,635.8 883.5,635.6 884.0,635.9 884.5,635.9 885.0,635.8 885.5,636.1 886.0,636.4 886.5,635.9 887.0,635.8 887.5,636.2 888.0,636.2 888.5,635.8 889.0,635.9 889.5,635.8 890.0,635.6 890.5,636.2 891.0,636.1 891.5,636.4 892.0,636.4 892.5,635.3 893.0,635.7 893.5,635.9 894.0,636.4 894.5,636.0 895.0,636.2 895.5,635.8 896.0,636.3 896.5,636.3 897.0,636.3 897.5,636.2 898.0,635.9 898.5,636.4 899.0,635.8 899.5,635.8 900.0,635.8 900.5,636.0 901.0,636.3 901.5,636.0 902.0,636.1 902.5,636.0 903.0,636.2 903.5,636.0 904.0,635.7 904.5,636.7 905.0,636.2 905.5,636.2 906.0,636.1 906.5,635.8 907.0,636.0 907.5,636.2 908.0,636.3 908.5,636.1 909.0,635.8 909.5,635.9 910.0,635.7 910.5,635.9 911.0,635.9 911.5,635.8 912.0,636.1 912.5,636.5 913.0,635.8 913.5,635.6 914.0,635.8 914.5,636.3 915.0,635.7 915.5,636.3 916.0,636.3 916.5,635.9 917.0,635.6 917.5,636.1 918.0,635.8 918.5,636.0 919.0,636.5 919.5,636.1 920.0,635.5 920.5,636.0 921.0,635.7 921.5,636.4 922.0,636.1 922.5,635.8 923.0,636.0 923.5,635.9 924.0,635.7 924.5,635.7 925.0,636.0 925.5,635.8 926.0,635.9 926.5,636.1 927.0,636.3 927.5,635.8 928.0,636.1 928.5,635.7 929.0,635.5 929.5,636.3 930.0,636.4 930.5,635.8 931.0,635.7 931.5,635.6 932.0,635.9 932.5,636.2 933.0,636.1 933.5,635.6 934.0,636.1 934.5,635.6 935.0,635.9 935.5,636.1 936.0,636.1 936.5,635.5 937.0,635.8 937.5,636.0 938.0,636.1 938.5,635.9 939.0,636.1 939.5,636.3 940.0,635.6 940.5,636.1 941.0,636.6 941.5,636.1 942.0,636.0 942.5,636.3 943.0,636.3 943.5,636.1 944.0,635.4 944.5,636.0 945.0,636.1 945.5,636.1 946.0,636.4 946.5,635.6 947.0,635.7 947.5,636.0 948.0,636.2 948.5,635.8 949.0,635.8 949.5,636.1 950.0,636.0 950.5,636.2 951.0,636.0 951.5,636.1 952.0,635.6 952.5,636.1 953.0,636.1 953.5,635.9 954.0,635.7 954.5,636.4 955.0,636.2 955.5,636.0 956.0,636.2 956.5,636.5 957.0,635.9 957.5,636.4 958.0,636.2 958.5,635.9 959.0,635.9 959.5,636.3 960.0,636.3 960.5,636.2 961.0,635.8 961.5,635.9 962.0,636.0 962.5,635.7 963.0,635.6 963.5,635.8 964.0,636.1 964.5,636.2 965.0,636.0 965.5,636.2 966.0,636.4 966.5,635.7 967.0,636.2 967.5,635.9 968.0,636.4 968.5,635.6 969.0,636.1 969.5,635.6 970.0,636.0 970.5,636.0 971.0,635.9 971.5,636.2 972.0,635.7 972.5,636.0 973.0,636.2 973.5,635.9 974.0,636.2 974.5,636.0 975.0,636.1 975.5,635.8 976.0,635.7 976.5,635.9 977.0,636.4 977.5,636.1 978.0,635.9 978.5,635.9 979.0,636.3 979.5,636.2 980.0,636.0 980.5,636.2 981.0,636.1 981.5,636.4 982.0,635.8 982.5,636.1 983.0,636.2 983.5,636.2 984.0,635.9 984.5,635.9 985.0,636.2 985.5,636.5 986.0,635.8 986.5,636.0 987.0,636.4 987.5,636.0 988.0,636.2 988.5,636.3 989.0,636.0 989.5,636.5 990.0,636.1 990.5,635.9 991.0,636.3 991.5,636.3 992.0,635.8 992.5,636.0 993.0,635.9 993.5,636.1 994.0,635.7 994.5,636.1 995.0,636.4 995.5,635.9 996.0,636.0 996.5,636.0 997.0,635.7 997.5,636.0 998.0,635.9 998.5,635.9 999.0,636.4 999.5,635.9 1000.0,635.9 1000.5,635.4 1001.0,636.2 1001.5,636.0 1002.0,636.3 1002.5,635.9 1003.0,636.0 1003.5,636.0 1004.0,636.5 1004.5,636.2 1005.0,635.6 1005.5,636.6 1006.0,636.3 1006.5,635.9 1007.0,635.8 1007.5,635.9 1008.0,635.6 1008.5,635.9 1009.0,636.3 1009.5,636.0 1010.0,635.8 1010.5,636.2 1011.0,636.2 1011.5,636.1 1012.0,636.2 1012.5,636.4 1013.0,636.2 1013.5,636.3 1014.0,636.3 1014.5,636.0 1015.0,636.2 1015.5,636.0 1016.0,636.0 1016.5,636.2 1017.0,636.2 1017.5,636.2 1018.0,636.1 1018.5,635.7 1019.0,636.1 1019.5,636.1 1020.0,636.2 1020.5,636.1 1021.0,636.0 1021.5,636.0 1022.0,636.3 1022.5,636.3 1023.0,636.0 1023.5,636.1 1024.0,636.1 1024.5,635.9 1025.0,636.0 1025.5,635.9 1026.0,636.2 1026.5,635.8 1027.0,635.9 1027.5,636.2 1028.0,636.1 1028.5,635.8 1029.0,635.8 1029.5,635.9 1030.0,636.1 1030.5,636.2 1031.0,636.0 1031.5,636.4 1032.0,636.2 1032.5,635.6 1033.0,636.0 1033.5,636.2 1034.0,636.3 1034.5,635.9 1035.0,635.9 1035.5,636.0 1036.0,636.1 1036.5,635.7 1037.0,636.1 1037.5,636.3 1038.0,636.1 1038.5,636.2 1039.0,635.8 1039.5,636.2 1040.0,635.9 1040.5,636.1 1041.0,636.1 1041.5,635.7 1042.0,635.7 1042.5,636.2 1043.0,636.2 1043.5,636.1 1044.0,635.8 1044.5,636.2 1045.0,636.2 1045.5,635.8 1046.0,635.7 1046.5,636.2 1047.0,636.0 1047.5,635.8 1048.0,635.9 1048.5,635.8 1049.0,636.1 1049.5,636.0 1050.0,636.2 1050.5,636.0 1051.0,636.0 1051.5,636.3 1052.0,635.9 1052.5,635.7 1053.0,635.9 1053.5,635.7 1054.0,636.1 1054.5,636.4 1055.0,635.8 1055.5,635.9 1056.0,635.6 1056.5,636.3 1057.0,636.4 1057.5,636.1 1058.0,636.3 1058.5,636.3 1059.0,635.8 1059.5,635.9 1060.0,635.9 1060.5,636.2 1061.0,635.6 1061.5,635.6 1062.0,636.0 1062.5,635.8 1063.0,635.5 1063.5,635.7 1064.0,636.1 1064.5,636.3 1065.0,635.9 1065.5,636.2 1066.0,635.6 1066.5,635.9 1067.0,635.9 1067.5,635.8 1068.0,635.8 1068.5,636.5 1069.0,635.5 1069.5,635.5 1070.0,635.9 1070.5,636.1 1071.0,635.5 1071.5,635.6 1072.0,635.7 1072.5,635.8 1073.0,635.4 1073.5,635.9 1074.0,635.9 1074.5,635.7 1075.0,635.4 1075.5,636.1 1076.0,635.7 1076.5,635.4 1077.0,635.9 1077.5,636.0 1078.0,635.5 1078.5,635.9 1079.0,635.6 1079.5,635.7 1080.0,635.8 1080.5,635.5 1081.0,635.8 1081.5,636.0 1082.0,635.6 1082.5,635.8 1083.0,635.6 1083.5,635.6 1084.0,635.9 1084.5,635.5 1085.0,635.6 1085.5,636.2 1086.0,635.6 1086.5,635.6 1087.0,635.6 1087.5,635.5 1088.0,635.5 1088.5,635.9 1089.0,635.2 1089.5,635.0 1090.0,635.6 1090.5,635.4 1091.0,635.4 1091.5,635.4 1092.0,635.4 1092.5,635.2 1093.0,635.4 1093.5,635.3 1094.0,635.1 1094.5,635.4 1095.0,635.7 1095.5,635.4 1096.0,635.7 1096.5,635.2 1097.0,635.4 1097.5,635.2 1098.0,635.0 1098.5,635.0 1099.0,634.8 1099.5,635.3 1100.0,635.0 1100.5,635.2 1101.0,634.8 1101.5,634.7 1102.0,634.8 1102.5,635.2 1103.0,635.3 1103.5,635.4 1104.0,634.9 1104.5,634.8 1105.0,634.5 1105.5,634.3 1106.0,634.6 1106.5,634.7 1107.0,634.6 1107.5,634.3 1108.0,634.5 1108.5,634.5 1109.0,634.5 1109.5,634.8 1110.0,634.0 1110.5,634.3 1111.0,634.0 1111.5,633.9 1112.0,634.0 1112.5,633.6 1113.0,634.2 1113.5,633.8 1114.0,633.9 1114.5,633.6 1115.0,633.8 1115.5,633.2 1116.0,633.1 1116.5,633.6 1117.0,633.1 1117.5,633.1 1118.0,632.7 1118.5,632.5 1119.0,632.4 1119.5,632.4 1120.0,632.1 1120.5,631.8 1121.0,631.2 1121.5,631.5 1122.0,631.3 1122.5,631.2 1123.0,630.6 1123.5,630.0 1124.0,629.9 1124.5,629.9 1125.0,629.4 1125.5,629.1 1126.0,628.6 1126.5,628.1 1127.0,627.7 1127.5,627.3 1128.0,626.9 1128.5,626.1 1129.0,626.0 1129.5,625.5 1130.0,624.6 1130.5,624.0 1131.0,624.0 1131.5,623.3 1132.0,622.6 1132.5,622.1 1133.0,622.0 1133.5,621.6 1134.0,621.2 1134.5,621.2 1135.0,620.6 1135.5,620.5 1136.0,620.5 1136.5,620.8 1137.0,620.5 1137.5,621.1 1138.0,621.3 1138.5,621.7 1139.0,622.1 1139.5,622.3 1140.0,623.2 1140.5,623.8 1141.0,624.3 1141.5,624.6 1142.0,625.2 1142.5,625.8 1143.0,626.2 1143.5,626.6 1144.0,627.3 1144.5,627.7 1145.0,628.1 1145.5,628.8 1146.0,628.9 1146.5,629.4 1147.0,629.7 1147.5,630.3 1148.0,630.4 1148.5,630.5 1149.0,630.7 1149.5,631.3 1150.0,631.3 1150.5,632.0 1151.0,632.1 1151.5,632.2 1152.0,632.3 1152.5,632.5 1153.0,633.0 1153.5,633.0 1154.0,632.8 1154.5,633.1 1155.0,633.5 1155.5,633.3 1156.0,633.9 1156.5,633.5 1157.0,634.0 1157.5,633.8 1158.0,634.3 1158.5,634.2 1159.0,634.2 1159.5,634.3 1160.0,634.2 1160.5,634.0 1161.0,634.4 1161.5,634.4 1162.0,634.5 1162.5,634.4 1163.0,634.3 1163.5,634.7 1164.0,634.6 1164.5,635.0 1165.0,635.0 1165.5,634.6 1166.0,634.9 1166.5,634.9 1167.0,635.0 1167.5,634.9 1168.0,634.9 1168.5,635.4 1169.0,635.2 1169.5,634.8 1170.0,634.9 1170.5,635.2 1171.0,635.1 1171.5,635.1 1172.0,635.1 1172.5,635.5 1173.0,635.5 1173.5,635.5 1174.0,635.3 1174.5,635.3 1175.0,635.1 1175.5,635.9 1176.0,635.5 1176.5,635.4 1177.0,635.9 1177.5,635.2 1178.0,635.4 1178.5,635.4 1179.0,635.4 1179.5,635.6 1180.0,635.4 1180.5,635.5 1181.0,635.5 1181.5,635.7 1182.0,635.5 1182.5,635.4 1183.0,635.9 1183.5,635.2 1184.0,635.9 1184.5,636.0 1185.0,635.6 1185.5,635.5 1186.0,635.7 1186.5,635.6 1187.0,635.5 1187.5,636.0 1188.0,635.9 1188.5,635.1 1189.0,635.3 1189.5,635.6 1190.0,636.3 1190.5,635.6 1191.0,635.6 1191.5,636.0 1192.0,635.8 1192.5,635.5 1193.0,636.2 1193.5,636.0 1194.0,635.7 1194.5,635.9 1195.0,635.8 1195.5,635.8 1196.0,635.9 1196.5,635.7 1197.0,636.4 1197.5,635.8 1198.0,635.7 1198.5,636.2 1199.0,635.7 1199.5,636.0 1200.0,636.2 1200.5,635.7 1201.0,635.6 1201.5,636.3 1202.0,635.9 1202.5,635.4 1203.0,635.6 1203.5,636.0 1204.0,636.1 1204.5,635.7 1205.0,635.7 1205.5,636.1 1206.0,635.8 1206.5,635.6 1207.0,636.6 1207.5,636.2 1208.0,636.0 1208.5,636.2 1209.0,635.9 1209.5,636.0 1210.0,635.9 1210.5,636.2 1211.0,636.0 1211.5,635.9 1212.0,635.7 1212.5,635.9 1213.0,636.1 1213.5,636.0 1214.0,636.0 1214.5,636.4 1215.0,636.4 1215.5,635.7 1216.0,636.2 1216.5,635.8 1217.0,636.0 1217.5,636.3 1218.0,636.0 1218.5,636.5 1219.0,636.0 1219.5,636.3 1220.0,635.9 1220.5,635.9 1221.0,635.9 1221.5,635.7 1222.0,635.9 1222.5,635.7 1223.0,636.0 1223.5,635.8 1224.0,636.0 1224.5,636.3 1225.0,636.2 1225.5,636.1 1226.0,635.9 1226.5,635.8 1227.0,635.7 1227.5,636.2 1228.0,636.0 1228.5,636.2 1229.0,635.5 1229.5,635.9 1230.0,635.5 1230.5,635.9 1231.0,635.9 1231.5,636.0 1232.0,636.2 1232.5,635.8 1233.0,636.2 1233.5,636.2 1234.0,636.0 1234.5,636.0 1235.0,635.9 1235.5,636.1 1236.0,635.8 1236.5,636.1 1237.0,636.1 1237.5,636.0 1238.0,636.0 1238.5,636.1 1239.0,635.8 1239.5,636.2 1240.0,635.9 1240.5,636.1 1241.0,635.8 1241.5,636.4 1242.0,636.3 1242.5,635.8 1243.0,635.8 1243.5,635.9 1244.0,636.1 1244.5,636.0 1245.0,635.7 1245.5,636.0 1246.0,635.4 1246.5,636.0 1247.0,635.9 1247.5,635.9 1248.0,636.3 1248.5,636.2 1249.0,636.3 1249.5,636.0 1250.0,636.1 1250.5,635.7 1251.0,636.3 1251.5,636.0 1252.0,636.0 1252.5,636.1 1253.0,635.8 1253.5,636.1 1254.0,635.9 1254.5,635.7 1255.0,636.2 1255.5,635.8 1256.0,635.9 1256.5,636.1 1257.0,636.0 1257.5,635.8 1258.0,635.7 1258.5,636.1 1259.0,635.9 1259.5,636.0 1260.0,635.9 1260.5,635.9 1261.0,636.7 1261.5,635.6 1262.0,636.3 1262.5,636.0 1263.0,635.8 1263.5,636.3 1264.0,636.0 1264.5,635.8 1265.0,635.9 1265.5,635.8 1266.0,636.0 1266.5,636.1 1267.0,636.0 1267.5,635.8 1268.0,635.7 1268.5,635.9 1269.0,636.3 1269.5,635.7 1270.0,636.0 1270.5,635.4 1271.0,636.1 1271.5,635.9 1272.0,636.4 1272.5,635.6 1273.0,636.1 1273.5,636.2 1274.0,636.1 1274.5,635.5 1275.0,636.4 1275.5,636.2 1276.0,636.2 1276.5,635.8 1277.0,636.1 1277.5,636.2 1278.0,636.1 1278.5,636.5 1279.0,636.0 1279.5,635.8 1280.0,636.0 1280.5,635.6 1281.0,636.0 1281.5,636.6 1282.0,636.0 1282.5,636.0 1283.0,635.8 1283.5,636.2 1284.0,636.1 1284.5,636.4 1285.0,635.5 1285.5,636.3 1286.0,635.7 1286.5,636.1 1287.0,636.0 1287.5,636.0 1288.0,635.8 1288.5,636.5 1289.0,635.8 1289.5,635.6 1290.0,636.4 1290.5,636.2 1291.0,636.0 1291.5,636.2 1292.0,635.8 1292.5,636.3 1293.0,636.2 1293.5,635.7 1294.0,636.0 1294.5,635.9 1295.0,635.9 1295.5,635.8 1296.0,636.2 1296.5,635.7 1297.0,636.1 1297.5,636.2 1298.0,635.8 1298.5,635.7 1299.0,636.0 1299.5,636.2 1300.0,636.0 1300.5,635.9 1301.0,635.6 1301.5,636.0 1302.0,636.0 1302.5,636.1 1303.0,636.5 1303.5,635.9 1304.0,635.9 1304.5,635.6 1305.0,636.1 1305.5,635.8 1306.0,636.6 1306.5,635.7 1307.0,635.9 1307.5,635.6 1308.0,636.2 1308.5,636.1 1309.0,635.6 1309.5,635.9 1310.0,636.5 1310.5,636.1 1311.0,636.1 1311.5,636.0 1312.0,635.9 1312.5,635.6 1313.0,635.9 1313.5,636.3 1314.0,636.1 1314.5,636.3 1315.0,636.2 1315.5,635.9 1316.0,635.8 1316.5,636.0 1317.0,635.9 1317.5,635.7 1318.0,635.8 1318.5,636.2 1319.0,635.6 1319.5,635.6 1320.0,636.0 1320.5,636.2 1321.0,636.0 1321.5,636.2 1322.0,635.9 1322.5,636.0 1323.0,636.1 1323.5,636.3 1324.0,636.3 1324.5,636.0 1325.0,636.2 1325.5,635.9 1326.0,635.7 1326.5,635.8 1327.0,635.8 1327.5,635.4 1328.0,635.8 1328.5,636.0 1329.0,636.0 1329.5,635.9 1330.0,635.9 1330.5,636.0 1331.0,636.0 1331.5,636.2 1332.0,635.6 1332.5,635.7 1333.0,636.6 1333.5,636.3 1334.0,635.9 1334.5,636.2 1335.0,636.2 1335.5,636.0 1336.0,636.2 1336.5,636.0 1337.0,635.9 1337.5,635.7 1338.0,636.0 1338.5,636.6 1339.0,636.3 1339.5,635.8 1340.0,636.0 1340.5,636.2 1341.0,636.4 1341.5,636.2 1342.0,635.7 1342.5,635.7 1343.0,635.8 1343.5,635.8 1344.0,635.8 1344.5,636.0 1345.0,636.0 1345.5,636.1 1346.0,635.7 1346.5,635.8 1347.0,636.2 1347.5,635.9 1348.0,636.1 1348.5,636.0 1349.0,635.7 1349.5,636.0 1350.0,635.6 1350.5,635.7 1351.0,635.6 1351.5,635.8 1352.0,636.4 1352.5,635.4 1353.0,636.3 1353.5,636.3 1354.0,635.7 1354.5,636.2 1355.0,636.0 1355.5,635.9 1356.0,636.5 1356.5,636.2 1357.0,635.5 1357.5,635.9 1358.0,636.2 1358.5,636.2 1359.0,635.9 1359.5,635.9 1360.0,635.9 1360.5,635.8 1361.0,635.9 1361.5,635.9 1362.0,635.9 1362.5,635.7 1363.0,635.9 1363.5,635.6 1364.0,636.0 1364.5,636.0 1365.0,636.2 1365.5,636.1 1366.0,635.7 1366.5,636.1 1367.0,635.8 1367.5,635.8 1368.0,635.9 1368.5,636.2 1369.0,635.8 1369.5,636.2 1370.0,636.1 1370.5,635.9 1371.0,636.1 1371.5,635.6 1372.0,635.7 1372.5,636.1 1373.0,635.7 1373.5,635.6 1374.0,636.3 1374.5,636.1 1375.0,635.8 1375.5,636.0 1376.0,636.1 1376.5,635.8 1377.0,635.7 1377.5,635.6 1378.0,636.0 1378.5,635.8 1379.0,635.8 1379.5,635.9 1380.0,636.0 1380.5,635.9 1381.0,635.5 1381.5,636.2 1382.0,636.2 1382.5,636.0 1383.0,635.9 1383.5,635.8 1384.0,636.2 1384.5,635.9 1385.0,635.7 1385.5,636.0 1386.0,635.9 1386.5,635.9 1387.0,635.7 1387.5,635.8 1388.0,636.1 1388.5,636.1 1389.0,636.2 1389.5,636.0 1390.0,636.0 1390.5,636.2 1391.0,635.7 1391.5,635.7 1392.0,636.0 1392.5,636.3 1393.0,635.8 1393.5,635.7 1394.0,636.0 1394.5,635.9 1395.0,635.9 1395.5,636.3 1396.0,635.9 1396.5,636.4 1397.0,636.2 1397.5,635.7 1398.0,636.2 1398.5,636.1 1399.0,636.2 1399.5,635.5 1400.0,636.2 1400.5,636.1 1401.0,636.0 1401.5,636.2 1402.0,635.5 1402.5,636.2 1403.0,636.1 1403.5,636.0 1404.0,635.9 1404.5,635.5 1405.0,635.8 1405.5,636.7 1406.0,635.7 1406.5,635.6 1407.0,636.3 1407.5,636.0 1408.0,635.8 1408.5,635.9 1409.0,636.0 1409.5,636.1 1410.0,636.1 1410.5,635.9 1411.0,635.8 1411.5,635.8 1412.0,635.7 1412.5,636.1 1413.0,636.0 1413.5,635.9 1414.0,635.8 1414.5,635.9 1415.0,635.9 1415.5,636.0 1416.0,635.7 1416.5,635.9 1417.0,635.7 1417.5,635.6 1418.0,636.4 1418.5,635.8 1419.0,635.7 1419.5,635.7 1420.0,636.2 1420.5,635.9 1421.0,635.7 1421.5,635.9 1422.0,635.9 1422.5,636.0 1423.0,635.9 1423.5,635.6 1424.0,636.1 1424.5,635.9 1425.0,635.9 1425.5,636.1 1426.0,635.9 1426.5,636.0 1427.0,635.8 1427.5,635.7 1428.0,636.1 1428.5,636.0 1429.0,635.8 1429.5,635.9 1430.0,635.5 1430.5,635.5 1431.0,635.6 1431.5,635.7 1432.0,636.0 1432.5,635.9 1433.0,635.9 1433.5,635.5 1434.0,636.0 1434.5,636.1 1435.0,635.9 1435.5,636.3 1436.0,635.9 1436.5,636.4 1437.0,635.9 1437.5,635.7 1438.0,635.5 1438.5,635.7 1439.0,635.9 1439.5,636.1 1440.0,635.2" fill="none" stroke="#000000" stroke-width="8" stroke-linejoin="round" stroke-linecap="butt"/>
</g>
<path d="M451.00,785.00 L451.00,682.50 A4.5,4.5 0 0 1 460.00,682.50 L460.00,785.00 Z" fill="#ff0000"/>
<path d="M608.80,785.00 L608.80,736.20 A4.5,4.5 0 0 1 617.80,736.20 L617.80,785.00 Z" fill="#ff0000"/>
<path d="M1139.60,785.00 L1139.60,755.50 A4.5,4.5 0 0 1 1148.60,755.50 L1148.60,785.00 Z" fill="#ff0000"/>
<path d="M433.00,887.00 L433.00,792.50 A4.5,4.5 0 0 1 442.00,792.50 L442.00,887.00 Z" fill="#0000ff"/>
<path d="M588.00,887.00 L588.00,848.50 A4.5,4.5 0 0 1 597.00,848.50 L597.00,887.00 Z" fill="#0000ff"/>
<path d="M1106.00,887.00 L1106.00,873.50 A4.5,4.5 0 0 1 1115.00,873.50 L1115.00,887.00 Z" fill="#0000ff"/>
<text transform="matrix(1.1568,0,0,1,109.55,962.30)" font-size="56.30" font-weight="bold" fill="#000">30</text>
<text transform="matrix(1.1276,0,0,1,327.13,962.30)" font-size="56.30" font-weight="bold" fill="#000">40</text>
<text transform="matrix(1.1599,0,0,1,541.39,962.30)" font-size="56.30" font-weight="bold" fill="#000">50</text>
<text transform="matrix(1.1526,0,0,1,757.78,962.30)" font-size="56.30" font-weight="bold" fill="#000">60</text>
<text transform="matrix(1.1818,0,0,1,972.20,962.30)" font-size="56.30" font-weight="bold" fill="#000">70</text>
<text transform="matrix(1.1514,0,0,1,1189.85,962.30)" font-size="56.30" font-weight="bold" fill="#000">80</text>
<text transform="matrix(1.1441,0,0,1,1406.24,962.30)" font-size="56.30" font-weight="bold" fill="#000">90</text>
<text transform="matrix(1.1736,0,0,1,714.47,1038.00)" font-size="73.70" font-weight="bold" fill="#000">2</text>
<text transform="matrix(1.1864,0,0,1,754.69,1039.14)" font-size="67.28" font-weight="bold" fill="#000">θ</text>
<text transform="matrix(1.0290,0,0,1,793.69,1040.23)" font-size="68.52" font-weight="bold" fill="#000">/</text>
<text transform="matrix(1.0568,0,0,1,833.98,1042.33)" font-size="75.52" font-weight="bold" fill="#000">°</text>
<text transform="matrix(0,-1.1654,1,0,71.80,631.73)" font-size="72.00" font-weight="bold" fill="#000">I</text>
<text transform="matrix(0,-1.0751,1,0,71.80,602.88)" font-size="72.00" font-weight="bold" fill="#000">n</text>
<text transform="matrix(0,-1.0711,1,0,71.80,562.74)" font-size="72.00" font-weight="bold" fill="#000">t</text>
<text transform="matrix(0,-1.1182,1,0,71.80,539.45)" font-size="72.00" font-weight="bold" fill="#000">e</text>
<text transform="matrix(0,-1.0751,1,0,71.80,507.88)" font-size="72.00" font-weight="bold" fill="#000">n</text>
<text transform="matrix(0,-1.0257,1,0,71.80,467.14)" font-size="72.00" font-weight="bold" fill="#000">s</text>
<text transform="matrix(0,-1.0998,1,0,71.80,439.54)" font-size="72.00" font-weight="bold" fill="#000">i</text>
<text transform="matrix(0,-1.1200,1,0,71.80,420.00)" font-size="72.00" font-weight="bold" fill="#000">t</text>
<text transform="matrix(0,-1.1014,1,0,71.80,394.77)" font-size="72.00" font-weight="bold" fill="#000">y</text>
<text transform="matrix(0,-1.0725,1,0,71.80,360.25)" font-size="72.00" font-weight="bold" fill="#000">/</text>
<text transform="matrix(0,-1.0433,1,0,71.80,322.22)" font-size="72.00" font-weight="bold" fill="#000">a</text>
<text transform="matrix(0,-1.1224,1,0,71.80,287.35)" font-size="72.00" font-weight="bold" fill="#000">.</text>
<text transform="matrix(0,-0.9914,1,0,71.80,250.18)" font-size="72.00" font-weight="bold" fill="#000">u</text>
<rect x="68" y="203" width="4" height="4" fill="#000"/>
<text transform="matrix(0.7924,0,0,1,743.98,155.00)" font-size="57.71" font-weight="normal" fill="#000">1</text>
<text transform="matrix(1.0885,0,0,1,771.59,155.03)" font-size="58.09" font-weight="normal" fill="#000">0</text>
<text transform="matrix(1.1059,0,0,1,815.28,155.00)" font-size="57.71" font-weight="normal" fill="#000">A</text>
<text transform="matrix(1.1227,0,0,1,875.59,155.34)" font-size="56.99" font-weight="normal" fill="#000">d</text>
<text transform="matrix(1.1646,0,0,1,906.77,155.00)" font-size="54.33" font-weight="normal" fill="#000">m</text>
<rect x="953.9" y="115.7" width="18.2" height="2.4" fill="#000"/>
<text transform="matrix(1.2280,0,0,1,971.03,124.70)" font-size="34.74" font-weight="normal" fill="#000">2</text>
<text transform="matrix(1.0073,0,0,1,751.27,287.03)" font-size="58.09" font-weight="normal" fill="#000">8</text>
<text transform="matrix(1.1132,0,0,1,793.97,287.00)" font-size="57.71" font-weight="normal" fill="#000">A</text>
<text transform="matrix(1.1266,0,0,1,853.98,287.34)" font-size="56.99" font-weight="normal" fill="#000">d</text>
<text transform="matrix(1.1845,0,0,1,885.05,287.00)" font-size="54.33" font-weight="normal" fill="#000">m</text>
<rect x="932.5" y="247.7" width="18.6" height="2.4" fill="#000"/>
<text transform="matrix(1.2280,0,0,1,949.23,256.70)" font-size="34.74" font-weight="normal" fill="#000">2</text>
<text transform="matrix(1.1032,0,0,1,752.73,454.03)" font-size="58.34" font-weight="normal" fill="#000">6</text>
<text transform="matrix(1.1132,0,0,1,798.27,454.00)" font-size="57.71" font-weight="normal" fill="#000">A</text>
<text transform="matrix(1.1422,0,0,1,858.15,454.34)" font-size="56.99" font-weight="normal" fill="#000">d</text>
<text transform="matrix(1.1820,0,0,1,889.05,454.00)" font-size="54.33" font-weight="normal" fill="#000">m</text>
<rect x="937.2" y="414.7" width="17.8" height="2.4" fill="#000"/>
<text transform="matrix(1.1705,0,0,1,953.21,423.70)" font-size="34.74" font-weight="normal" fill="#000">2</text>
<text transform="matrix(1.0518,0,0,1,751.51,599.00)" font-size="57.88" font-weight="normal" fill="#000">4</text>
<text transform="matrix(1.1059,0,0,1,796.28,599.00)" font-size="57.71" font-weight="normal" fill="#000">A</text>
<text transform="matrix(1.1266,0,0,1,856.58,599.34)" font-size="56.99" font-weight="normal" fill="#000">d</text>
<text transform="matrix(1.1621,0,0,1,887.47,599.00)" font-size="54.33" font-weight="normal" fill="#000">m</text>
<rect x="935.3" y="559.7" width="17.4" height="2.4" fill="#000"/>
<text transform="matrix(1.2208,0,0,1,950.84,568.70)" font-size="34.74" font-weight="normal" fill="#000">2</text>
<text transform="matrix(1.1076,0,0,1,163.87,742.70)" font-size="48.70" font-weight="bold" fill="#000">Ni: 04-0850</text>
<text transform="matrix(1.1123,0,0,1,466.35,731.70)" font-size="39.80" font-weight="bold" fill="#000">(111)</text>
<text transform="matrix(1.1018,0,0,1,632.54,724.20)" font-size="40.40" font-weight="bold" fill="#000">(200)</text>
<text transform="matrix(1.1021,0,0,1,1151.75,734.90)" font-size="40.30" font-weight="bold" fill="#000">(220)</text>
<text transform="matrix(1.0710,0,0,1,848.61,838.00)" font-size="48.70" font-weight="bold" fill="#000">Ni</text>
<text transform="matrix(1.1352,0,0,1,900.82,855.00)" font-size="48.20" font-weight="bold" fill="#000">17</text>
<text transform="matrix(1.0984,0,0,1,954.14,838.00)" font-size="48.70" font-weight="bold" fill="#000">W</text>
<text transform="matrix(1.1143,0,0,1,1006.28,855.00)" font-size="48.20" font-weight="bold" fill="#000">3</text>
<text transform="matrix(1.0935,0,0,1,1033.63,838.00)" font-size="48.70" font-weight="bold" fill="#000">: 65-4828</text>
</g>
</svg>
</body></html>
